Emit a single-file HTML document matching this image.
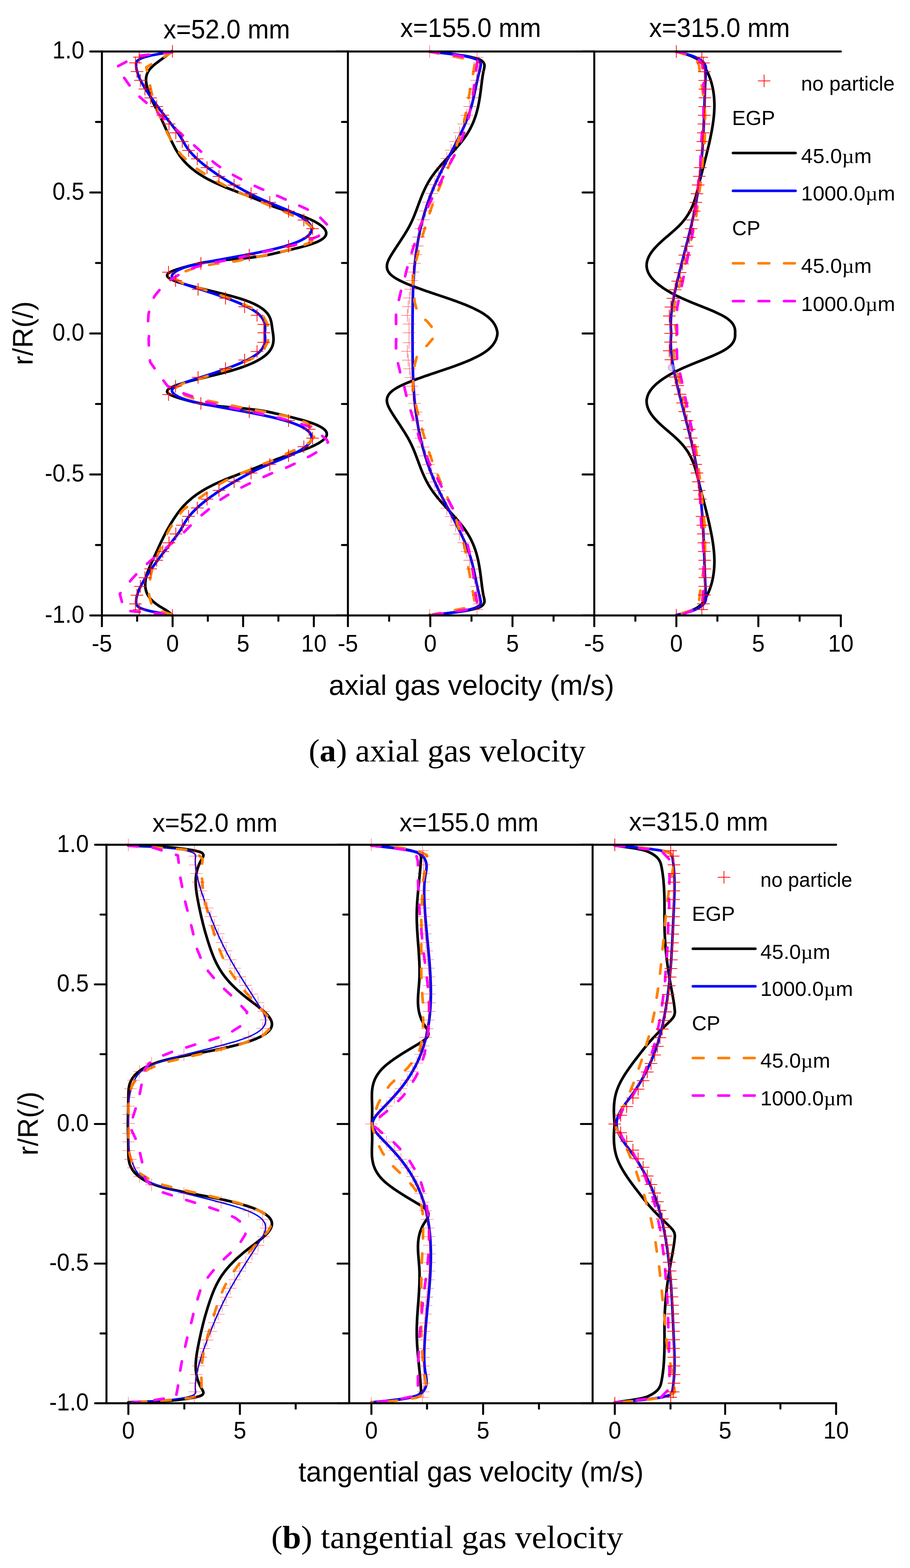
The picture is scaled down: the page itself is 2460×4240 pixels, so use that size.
<!DOCTYPE html>
<html><head><meta charset="utf-8"><title>Gas velocity profiles</title>
<style>html,body{margin:0;padding:0;background:#fff;}svg{display:block;}</style></head>
<body><svg width="2460" height="4240" viewBox="0 0 2460 4240">
<rect width="2460" height="4240" fill="#fff"/>
<path d="M465.0 138.6C463.1 140.3 461.1 142.0 459.1 143.6C457.0 145.3 454.8 147.0 452.6 148.6C450.4 150.3 448.1 152.0 445.9 153.6C443.6 155.3 441.2 157.0 438.9 158.6C436.6 160.3 434.3 162.0 432.0 163.6C429.7 165.3 427.5 167.0 425.3 168.6C423.1 170.3 421.0 171.9 418.9 173.6C416.9 175.3 415.0 176.9 413.1 178.6C411.4 180.3 409.6 181.9 408.0 183.6C406.5 185.3 405.1 186.9 403.8 188.6C402.6 190.3 401.5 191.9 400.5 193.6C399.6 195.3 398.8 197.0 398.1 198.6C397.4 200.3 396.8 202.0 396.3 203.7C395.9 205.3 395.5 207.0 395.3 208.7C395.0 210.3 394.9 212.0 394.8 213.7C394.8 215.3 394.8 217.0 394.9 218.7C395.0 220.3 395.1 222.0 395.3 223.7C395.6 225.3 395.8 227.0 396.2 228.7C396.5 230.3 396.9 232.0 397.3 233.7C397.7 235.3 398.1 237.0 398.6 238.7C399.0 240.3 399.5 242.0 400.1 243.7C400.6 245.3 401.2 247.0 401.7 248.7C402.3 250.3 402.9 252.0 403.6 253.7C404.2 255.3 404.9 257.0 405.6 258.7C406.2 260.3 406.9 262.0 407.7 263.7C408.4 265.4 409.1 267.0 409.9 268.7C410.6 270.4 411.4 272.0 412.2 273.7C413.0 275.4 413.8 277.0 414.6 278.7C415.4 280.4 416.2 282.0 417.0 283.7C417.9 285.4 418.7 287.0 419.5 288.7C420.4 290.4 421.2 292.0 422.1 293.7C422.9 295.4 423.8 297.0 424.6 298.7C425.5 300.4 426.3 302.0 427.2 303.7C428.0 305.4 428.9 307.0 429.7 308.7C430.6 310.4 431.4 312.0 432.2 313.7C433.1 315.4 433.9 317.0 434.7 318.7C435.5 320.4 436.3 322.0 437.1 323.7C437.9 325.4 438.7 327.0 439.5 328.7C440.2 330.4 441.0 332.0 441.8 333.7C442.5 335.4 443.3 337.1 444.0 338.7C444.8 340.4 445.6 342.1 446.3 343.7C447.1 345.4 447.8 347.1 448.5 348.7C449.3 350.4 450.0 352.1 450.8 353.7C451.5 355.4 452.3 357.1 453.0 358.7C453.8 360.4 454.5 362.1 455.3 363.7C456.0 365.4 456.8 367.1 457.6 368.7C458.3 370.4 459.1 372.1 459.9 373.7C460.7 375.4 461.4 377.1 462.2 378.7C463.0 380.4 463.8 382.1 464.7 383.7C465.5 385.4 466.3 387.1 467.1 388.7C468.0 390.4 468.8 392.1 469.7 393.7C470.6 395.4 471.4 397.1 472.3 398.7C473.2 400.4 474.1 402.1 475.1 403.8C476.0 405.4 477.0 407.1 478.0 408.8C479.0 410.4 480.0 412.1 481.1 413.8C482.2 415.4 483.3 417.1 484.4 418.8C485.6 420.4 486.7 422.1 488.0 423.8C489.2 425.4 490.5 427.1 491.8 428.8C493.1 430.4 494.5 432.1 495.9 433.8C497.4 435.4 498.9 437.1 500.4 438.8C502.0 440.5 503.6 442.1 505.2 443.8C506.9 445.5 508.7 447.1 510.5 448.8C512.3 450.5 514.2 452.1 516.1 453.8C518.1 455.5 520.2 457.1 522.3 458.8C524.4 460.5 526.6 462.1 528.9 463.8C531.2 465.5 533.6 467.1 536.0 468.8C538.5 470.5 541.1 472.1 543.7 473.8C546.4 475.5 549.2 477.1 552.0 478.8C554.9 480.5 557.9 482.1 560.9 483.8C564.0 485.5 567.2 487.1 570.5 488.8C573.8 490.5 577.2 492.2 580.7 493.8C584.3 495.5 587.9 497.2 591.6 498.8C595.5 500.5 599.4 502.2 603.3 503.8C607.4 505.5 611.5 507.1 615.6 508.8C619.9 510.5 624.1 512.1 628.4 513.8C632.8 515.5 637.2 517.1 641.5 518.8C645.9 520.5 650.3 522.1 654.7 523.8C659.1 525.5 663.5 527.1 667.9 528.8C672.2 530.5 676.5 532.1 680.8 533.8C685.0 535.5 689.2 537.1 693.3 538.8C697.3 540.5 701.3 542.1 705.2 543.8C709.0 545.5 712.7 547.2 716.5 548.8C720.3 550.5 724.1 552.2 728.0 553.8C732.0 555.5 736.1 557.2 740.4 558.8C745.0 560.5 749.8 562.2 754.7 563.8C759.8 565.5 765.3 567.2 770.6 568.8C775.9 570.5 781.4 572.1 786.6 573.8C791.7 575.5 796.7 577.1 801.6 578.8C806.4 580.5 811.0 582.1 815.6 583.8C819.9 585.5 824.2 587.1 828.3 588.8C832.2 590.5 836.1 592.1 839.8 593.8C843.3 595.5 846.8 597.1 850.0 598.8C853.1 600.5 856.1 602.1 858.9 603.9C861.6 605.5 864.1 607.1 866.5 608.9C868.6 610.5 870.7 612.1 872.6 613.9C874.3 615.5 875.9 617.1 877.2 618.9C878.4 620.5 879.5 622.1 880.3 623.9C881.0 625.5 881.5 627.2 881.8 628.9C882.0 630.5 881.9 632.2 881.5 633.9C881.1 635.6 880.3 637.3 879.2 638.9C878.1 640.6 876.5 642.3 874.7 643.9C872.7 645.7 870.3 647.3 867.7 648.9C864.8 650.7 861.5 652.3 858.0 653.9C854.0 655.6 849.7 657.3 845.2 658.9C840.2 660.6 834.8 662.3 829.3 663.9C823.3 665.6 817.1 667.3 810.8 668.9C804.2 670.6 797.3 672.2 790.5 673.9C783.5 675.6 776.3 677.2 769.2 678.9C762.1 680.6 755.0 682.2 747.8 683.9C740.6 685.6 733.9 687.3 726.2 688.9C717.5 690.7 708.6 692.4 698.3 693.9C685.8 695.8 671.5 697.3 656.3 698.9C638.4 700.7 615.5 702.1 597.5 703.9C582.4 705.5 567.7 707.0 555.6 708.9C546.2 710.4 538.6 712.1 530.9 713.9C524.0 715.5 517.8 717.2 511.4 718.9C505.2 720.6 499.0 722.2 493.1 723.9C487.6 725.5 482.1 727.2 477.1 728.9C472.5 730.5 468.0 732.1 464.2 733.9C460.9 735.5 457.6 737.0 455.5 738.9C453.8 740.4 452.1 742.2 451.8 743.9C451.6 745.5 452.4 747.4 453.5 748.9C454.9 750.8 457.5 752.4 460.0 753.9C463.0 755.8 466.7 757.3 470.5 758.9C474.7 760.7 479.4 762.3 484.3 763.9C489.5 765.7 495.1 767.3 500.8 768.9C506.8 770.6 513.0 772.3 519.3 773.9C525.7 775.6 532.4 777.3 539.0 778.9C545.8 780.6 552.6 782.3 559.4 783.9C566.3 785.6 573.1 787.3 579.9 788.9C586.6 790.6 593.3 792.3 599.9 793.9C606.4 795.6 612.9 797.3 619.2 798.9C625.3 800.6 631.4 802.2 637.3 804.0C642.9 805.6 648.5 807.2 653.8 809.0C658.8 810.6 663.7 812.2 668.3 814.0C672.6 815.6 676.8 817.2 680.8 819.0C684.5 820.6 688.1 822.2 691.4 824.0C694.6 825.6 697.6 827.2 700.5 829.0C703.1 830.6 705.7 832.2 708.1 834.0C710.3 835.6 712.4 837.3 714.4 839.0C716.3 840.6 718.0 842.3 719.6 844.0C721.1 845.6 722.5 847.3 723.8 849.0C725.0 850.6 726.1 852.3 727.1 854.0C728.0 855.6 728.9 857.3 729.6 859.0C730.3 860.6 731.0 862.3 731.5 864.0C732.1 865.6 732.5 867.3 732.9 869.0C733.3 870.6 733.7 872.3 734.0 874.0C734.3 875.7 734.5 877.3 734.7 879.0C735.0 880.7 735.2 882.3 735.4 884.0C735.6 885.7 735.9 887.3 736.1 889.0C736.3 890.7 736.6 892.3 736.9 894.0C737.1 895.7 737.4 897.3 737.6 899.0C737.9 900.7 738.1 902.3 738.3 904.0C738.6 905.7 738.8 907.3 738.9 909.0C739.1 910.7 739.2 912.3 739.3 914.0C739.3 915.7 739.3 917.3 739.3 919.0C739.3 920.7 739.2 922.3 739.0 924.0C738.8 925.7 738.5 927.4 738.2 929.0C737.8 930.7 737.4 932.4 736.9 934.0C736.3 935.7 735.7 937.4 735.0 939.0C734.2 940.7 733.3 942.4 732.3 944.0C731.3 945.7 730.2 947.4 729.0 949.0C727.7 950.7 726.3 952.4 724.8 954.0C723.2 955.7 721.5 957.4 719.6 959.0C717.7 960.7 715.7 962.4 713.5 964.0C711.2 965.7 708.8 967.4 706.3 969.0C703.6 970.7 700.8 972.4 697.9 974.0C694.9 975.7 691.7 977.4 688.4 979.0C684.9 980.8 681.2 982.4 677.5 984.0C673.5 985.8 669.4 987.4 665.2 989.0C660.7 990.8 656.2 992.4 651.4 994.0C646.5 995.8 641.4 997.4 636.2 999.0C630.7 1000.8 625.0 1002.4 619.3 1004.1C613.2 1005.8 607.0 1007.4 600.7 1009.1C594.2 1010.7 587.5 1012.4 580.8 1014.1C574.0 1015.7 567.1 1017.4 560.2 1019.1C553.4 1020.7 546.4 1022.4 539.6 1024.1C533.0 1025.7 526.3 1027.4 519.7 1029.1C513.4 1030.7 507.2 1032.4 501.2 1034.1C495.5 1035.7 489.9 1037.3 484.6 1039.1C479.8 1040.7 475.0 1042.3 470.7 1044.1C466.9 1045.7 463.2 1047.2 460.2 1049.1C457.7 1050.6 455.1 1052.2 453.7 1054.1C452.5 1055.6 451.6 1057.5 451.8 1059.1C452.0 1060.8 453.7 1062.6 455.3 1064.1C457.4 1066.0 460.6 1067.5 463.8 1069.1C467.6 1070.9 472.1 1072.5 476.7 1074.1C481.7 1075.8 487.2 1077.5 492.8 1079.1C498.8 1080.8 505.1 1082.5 511.4 1084.1C518.0 1085.8 524.5 1087.5 531.7 1089.1C539.6 1090.9 547.5 1092.6 557.0 1094.1C569.1 1096.0 583.3 1097.5 598.1 1099.1C615.6 1100.9 637.6 1102.3 655.3 1104.1C670.7 1105.7 685.5 1107.2 698.4 1109.1C709.0 1110.6 718.2 1112.3 727.2 1114.1C735.1 1115.7 742.0 1117.4 749.3 1119.1C756.4 1120.8 763.4 1122.4 770.4 1124.1C777.3 1125.8 784.2 1127.4 790.9 1129.1C797.5 1130.8 804.0 1132.4 810.3 1134.1C816.3 1135.7 822.3 1137.4 828.0 1139.1C833.3 1140.7 838.5 1142.4 843.4 1144.1C847.9 1145.7 852.2 1147.4 856.2 1149.1C859.8 1150.7 863.3 1152.4 866.4 1154.1C869.2 1155.7 871.9 1157.4 874.1 1159.1C876.2 1160.7 878.0 1162.4 879.5 1164.1C880.8 1165.7 881.9 1167.4 882.6 1169.1C883.2 1170.7 883.5 1172.5 883.5 1174.1C883.5 1175.8 883.0 1177.5 882.4 1179.1C881.7 1180.9 880.6 1182.5 879.3 1184.1C878.0 1185.9 876.3 1187.5 874.5 1189.1C872.5 1190.9 870.3 1192.5 867.9 1194.1C865.4 1195.9 862.6 1197.5 859.8 1199.1C856.7 1200.9 853.5 1202.5 850.1 1204.2C846.6 1205.9 842.9 1207.5 839.1 1209.2C835.2 1210.9 831.0 1212.5 826.8 1214.2C822.5 1215.9 818.0 1217.5 813.4 1219.2C808.7 1220.9 803.9 1222.5 799.1 1224.2C794.2 1225.8 789.2 1227.5 784.3 1229.2C779.3 1230.8 774.4 1232.5 769.5 1234.2C764.7 1235.8 759.9 1237.5 755.3 1239.2C750.8 1240.8 746.3 1242.5 742.0 1244.2C737.8 1245.8 733.8 1247.5 729.7 1249.2C725.7 1250.8 721.8 1252.5 717.8 1254.2C713.8 1255.8 709.9 1257.5 705.8 1259.2C701.8 1260.9 697.6 1262.5 693.4 1264.2C689.2 1265.9 684.9 1267.5 680.6 1269.2C676.2 1270.9 671.8 1272.5 667.4 1274.2C663.0 1275.9 658.5 1277.5 654.1 1279.2C649.7 1280.9 645.3 1282.5 640.9 1284.2C636.5 1285.9 632.1 1287.5 627.8 1289.2C623.6 1290.9 619.3 1292.5 615.1 1294.2C611.0 1295.8 606.9 1297.5 602.9 1299.2C599.0 1300.8 595.1 1302.5 591.3 1304.2C587.7 1305.8 584.0 1307.5 580.5 1309.2C577.1 1310.8 573.7 1312.5 570.4 1314.2C567.1 1315.9 564.0 1317.5 560.9 1319.2C557.9 1320.9 554.9 1322.5 552.0 1324.2C549.2 1325.9 546.5 1327.5 543.8 1329.2C541.2 1330.9 538.6 1332.5 536.1 1334.2C533.7 1335.9 531.3 1337.5 529.0 1339.2C526.7 1340.9 524.5 1342.5 522.3 1344.2C520.2 1345.9 518.1 1347.5 516.1 1349.2C514.2 1350.9 512.2 1352.5 510.4 1354.2C508.5 1355.9 506.7 1357.5 505.0 1359.2C503.3 1360.9 501.6 1362.6 500.0 1364.2C498.4 1365.9 496.9 1367.6 495.3 1369.2C493.8 1370.9 492.4 1372.6 491.0 1374.2C489.6 1375.9 488.2 1377.6 486.9 1379.2C485.5 1380.9 484.2 1382.6 483.0 1384.2C481.7 1385.9 480.5 1387.6 479.3 1389.2C478.1 1390.9 476.9 1392.6 475.8 1394.2C474.6 1395.9 473.5 1397.6 472.4 1399.2C471.3 1400.9 470.2 1402.6 469.1 1404.3C468.0 1405.9 467.0 1407.6 465.9 1409.3C464.9 1410.9 463.8 1412.6 462.8 1414.3C461.8 1415.9 460.8 1417.6 459.8 1419.3C458.9 1420.9 457.9 1422.6 456.9 1424.3C456.0 1425.9 455.0 1427.6 454.1 1429.3C453.2 1430.9 452.3 1432.6 451.4 1434.3C450.5 1435.9 449.6 1437.6 448.7 1439.3C447.8 1440.9 446.9 1442.6 446.1 1444.3C445.2 1445.9 444.4 1447.6 443.5 1449.3C442.7 1450.9 441.8 1452.6 441.0 1454.3C440.2 1455.9 439.4 1457.6 438.6 1459.3C437.7 1460.9 436.9 1462.6 436.1 1464.3C435.3 1465.9 434.5 1467.6 433.8 1469.3C433.0 1471.0 432.2 1472.6 431.4 1474.3C430.6 1476.0 429.8 1477.6 429.1 1479.3C428.3 1481.0 427.5 1482.6 426.8 1484.3C426.0 1486.0 425.2 1487.6 424.5 1489.3C423.7 1491.0 422.9 1492.6 422.2 1494.3C421.4 1496.0 420.6 1497.6 419.9 1499.3C419.1 1501.0 418.3 1502.6 417.6 1504.3C416.8 1506.0 416.0 1507.6 415.3 1509.3C414.5 1511.0 413.7 1512.6 412.9 1514.3C412.2 1516.0 411.4 1517.6 410.6 1519.3C409.8 1521.0 409.1 1522.6 408.3 1524.3C407.6 1526.0 406.8 1527.6 406.1 1529.3C405.4 1531.0 404.6 1532.6 404.0 1534.3C403.3 1536.0 402.6 1537.6 401.9 1539.3C401.3 1541.0 400.6 1542.6 400.0 1544.3C399.4 1546.0 398.8 1547.7 398.3 1549.3C397.7 1551.0 397.2 1552.7 396.7 1554.3C396.2 1556.0 395.8 1557.7 395.4 1559.3C395.0 1561.0 394.6 1562.7 394.3 1564.3C393.9 1566.0 393.7 1567.7 393.4 1569.3C393.2 1571.0 393.0 1572.7 392.9 1574.3C392.7 1576.0 392.6 1577.7 392.6 1579.3C392.6 1581.0 392.6 1582.7 392.7 1584.3C392.8 1586.0 393.0 1587.7 393.2 1589.3C393.4 1591.0 393.7 1592.7 394.1 1594.3C394.4 1596.0 394.9 1597.7 395.4 1599.3C396.0 1601.0 396.6 1602.7 397.3 1604.4C398.1 1606.0 398.9 1607.7 399.9 1609.4C400.8 1611.0 401.9 1612.7 403.1 1614.4C404.3 1616.1 405.6 1617.7 407.0 1619.4C408.5 1621.1 410.1 1622.7 411.8 1624.4C413.5 1626.1 415.4 1627.7 417.4 1629.4C419.5 1631.1 421.6 1632.7 423.9 1634.4C426.3 1636.1 428.9 1637.7 431.5 1639.4C434.1 1641.1 436.9 1642.7 439.6 1644.4C442.3 1646.0 445.1 1647.7 447.8 1649.4C450.3 1651.0 452.9 1652.6 455.2 1654.4C457.3 1656.0 459.5 1657.6 461.2 1659.4C462.7 1661.0 463.7 1662.7 465.0 1664.4" stroke="#000000" stroke-width="7.2" fill="none" stroke-linecap="round" stroke-linejoin="round"/><path d="M465.2 140.5C454.1 142.2 442.2 143.8 431.8 145.5C422.6 147.1 413.8 148.7 405.9 150.5C399.2 152.1 392.9 153.7 387.5 155.6C383.2 157.1 379.2 158.6 376.2 160.6C373.8 162.1 371.6 163.7 370.3 165.6C369.1 167.1 368.5 168.9 368.1 170.6C367.7 172.2 367.8 173.9 367.9 175.6C367.9 177.2 368.0 178.9 368.2 180.6C368.4 182.3 368.6 183.9 368.9 185.6C369.2 187.3 369.6 188.9 370.0 190.6C370.4 192.3 370.8 193.9 371.3 195.6C371.8 197.3 372.3 198.9 372.9 200.6C373.5 202.3 374.1 204.0 374.8 205.6C375.5 207.3 376.2 209.0 376.9 210.6C377.6 212.3 378.4 214.0 379.2 215.6C380.0 217.3 380.9 219.0 381.8 220.6C382.6 222.3 383.5 224.0 384.5 225.6C385.4 227.3 386.3 229.0 387.3 230.6C388.3 232.3 389.3 234.0 390.3 235.7C391.3 237.3 392.3 239.0 393.4 240.7C394.4 242.3 395.5 244.0 396.6 245.7C397.6 247.3 398.7 249.0 399.8 250.7C400.9 252.3 402.0 254.0 403.1 255.7C404.3 257.4 405.4 259.0 406.5 260.7C407.7 262.4 408.8 264.0 410.0 265.7C411.2 267.4 412.3 269.0 413.5 270.7C414.7 272.4 415.9 274.0 417.1 275.7C418.3 277.4 419.5 279.0 420.7 280.7C421.9 282.4 423.2 284.1 424.4 285.7C425.6 287.4 426.9 289.1 428.1 290.7C429.4 292.4 430.6 294.1 431.9 295.7C433.2 297.4 434.4 299.1 435.7 300.7C437.0 302.4 438.2 304.1 439.5 305.7C440.8 307.4 442.1 309.1 443.4 310.7C444.7 312.4 446.0 314.1 447.3 315.8C448.6 317.4 449.9 319.1 451.2 320.8C452.5 322.4 453.8 324.1 455.1 325.8C456.4 327.4 457.7 329.1 459.1 330.8C460.4 332.4 461.7 334.1 463.0 335.8C464.3 337.4 465.6 339.1 466.9 340.8C468.2 342.5 469.5 344.1 470.7 345.8C472.0 347.5 473.3 349.1 474.5 350.8C475.8 352.5 477.0 354.1 478.2 355.8C479.4 357.5 480.6 359.1 481.8 360.8C482.9 362.5 484.1 364.1 485.2 365.8C486.3 367.5 487.4 369.2 488.5 370.8C489.5 372.5 490.5 374.2 491.5 375.8C492.5 377.5 493.5 379.2 494.4 380.8C495.4 382.5 496.3 384.2 497.2 385.8C498.2 387.5 499.1 389.2 500.1 390.9C501.1 392.5 502.2 394.2 503.3 395.9C504.4 397.5 505.5 399.2 506.7 400.9C507.9 402.5 509.2 404.2 510.5 405.9C511.8 407.6 513.2 409.2 514.6 410.9C516.1 412.6 517.6 414.2 519.1 415.9C520.6 417.6 522.2 419.2 523.8 420.9C525.5 422.6 527.1 424.2 528.8 425.9C530.6 427.6 532.4 429.2 534.2 430.9C536.0 432.6 537.9 434.3 539.8 435.9C541.7 437.6 543.7 439.3 545.7 440.9C547.7 442.6 549.7 444.3 551.8 445.9C553.9 447.6 556.1 449.3 558.2 450.9C560.4 452.6 562.6 454.3 564.9 455.9C567.1 457.6 569.4 459.3 571.8 460.9C574.1 462.6 576.5 464.3 578.9 465.9C581.3 467.6 583.8 469.3 586.2 471.0C588.7 472.6 591.3 474.3 593.8 476.0C596.4 477.6 599.0 479.3 601.6 481.0C604.2 482.6 606.9 484.3 609.5 486.0C612.2 487.6 615.0 489.3 617.7 491.0C620.5 492.7 623.3 494.3 626.1 496.0C628.9 497.7 631.7 499.3 634.6 501.0C637.4 502.7 640.3 504.3 643.3 506.0C646.2 507.7 649.1 509.3 652.1 511.0C655.1 512.7 658.1 514.4 661.2 516.0C664.3 517.7 667.4 519.4 670.5 521.0C673.7 522.7 676.9 524.4 680.2 526.0C683.5 527.7 686.9 529.4 690.3 531.0C693.8 532.7 697.3 534.4 700.9 536.0C704.5 537.7 708.2 539.4 711.9 541.0C715.8 542.7 719.7 544.4 723.6 546.0C727.6 547.7 731.6 549.4 735.7 551.1C739.7 552.7 743.9 554.4 747.9 556.1C752.0 557.7 756.2 559.4 760.2 561.1C764.3 562.7 768.3 564.4 772.3 566.1C776.1 567.7 780.0 569.4 783.7 571.1C787.4 572.7 790.9 574.4 794.4 576.1C797.7 577.7 801.0 579.4 804.2 581.1C807.2 582.7 810.1 584.4 813.0 586.1C815.6 587.7 818.3 589.4 820.7 591.1C823.1 592.7 825.3 594.4 827.4 596.1C829.4 597.7 831.2 599.4 832.9 601.1C834.5 602.7 836.0 604.4 837.3 606.1C838.4 607.7 839.5 609.4 840.3 611.1C841.1 612.8 841.7 614.4 842.1 616.1C842.4 617.8 842.5 619.5 842.4 621.1C842.3 622.8 841.9 624.5 841.3 626.2C840.7 627.9 839.8 629.5 838.7 631.2C837.5 632.9 836.1 634.6 834.5 636.2C832.7 637.9 830.7 639.6 828.5 641.2C826.1 642.9 823.5 644.6 820.7 646.2C817.6 647.9 814.3 649.6 810.9 651.2C807.2 652.9 803.2 654.6 799.0 656.2C794.6 657.9 789.9 659.6 785.0 661.2C779.8 662.9 774.3 664.6 768.6 666.2C762.6 667.9 756.3 669.6 749.9 671.2C743.1 672.9 736.0 674.6 728.9 676.2C721.4 677.9 713.6 679.6 705.8 681.2C697.6 682.9 689.3 684.6 680.8 686.2C672.1 687.9 663.3 689.6 654.3 691.2C645.3 692.9 636.1 694.6 626.9 696.2C617.7 697.9 608.4 699.6 599.2 701.2C590.2 702.9 581.1 704.6 572.3 706.3C563.8 707.9 555.2 709.5 547.1 711.3C539.3 712.9 531.6 714.5 524.4 716.3C517.7 717.9 511.2 719.5 505.3 721.3C500.0 722.9 495.0 724.5 490.5 726.3C486.6 727.8 483.0 729.5 479.8 731.3C476.9 732.9 474.4 734.5 472.1 736.3C470.2 737.9 468.2 739.5 467.0 741.3C465.9 742.9 464.8 744.6 464.7 746.3C464.7 748.0 465.4 749.8 466.5 751.3C467.7 753.2 470.0 754.8 472.3 756.3C475.0 758.1 478.3 759.7 481.6 761.3C485.3 763.1 489.4 764.7 493.6 766.3C498.0 768.1 502.8 769.7 507.6 771.3C512.5 773.0 517.7 774.7 522.8 776.3C528.0 778.0 533.3 779.7 538.5 781.3C543.7 783.0 549.0 784.7 554.2 786.4C559.3 788.0 564.4 789.7 569.5 791.4C574.5 793.0 579.5 794.7 584.4 796.4C589.3 798.0 594.1 799.7 598.9 801.4C603.6 803.0 608.3 804.7 612.8 806.4C617.3 808.0 621.8 809.7 626.2 811.4C630.4 813.0 634.7 814.7 638.8 816.4C642.8 818.0 646.8 819.7 650.6 821.4C654.4 823.0 658.1 824.7 661.6 826.4C665.1 828.0 668.5 829.7 671.7 831.4C674.8 833.0 677.9 834.7 680.8 836.4C683.5 838.0 686.2 839.7 688.8 841.4C691.1 843.1 693.4 844.7 695.6 846.4C697.6 848.1 699.5 849.7 701.3 851.4C702.9 853.1 704.5 854.7 705.9 856.4C707.2 858.1 708.4 859.7 709.5 861.4C710.6 863.1 711.5 864.8 712.3 866.5C713.1 868.1 713.8 869.8 714.4 871.5C714.9 873.1 715.4 874.8 715.7 876.5C716.1 878.1 716.3 879.8 716.5 881.5C716.6 883.1 716.7 884.8 716.7 886.5C716.8 888.1 716.7 889.8 716.6 891.5C716.5 893.2 716.3 894.8 716.2 896.5C716.0 898.2 715.5 899.8 715.5 901.5C715.5 903.2 716.0 904.8 716.2 906.5C716.3 908.2 716.5 909.8 716.6 911.5C716.7 913.2 716.8 914.9 716.7 916.5C716.7 918.2 716.6 919.9 716.5 921.5C716.3 923.2 716.1 924.9 715.7 926.5C715.4 928.2 714.9 929.9 714.4 931.5C713.8 933.2 713.1 934.9 712.3 936.5C711.5 938.2 710.6 939.9 709.5 941.6C708.4 943.3 707.2 944.9 705.9 946.6C704.5 948.3 702.9 949.9 701.3 951.6C699.5 953.3 697.6 954.9 695.6 956.6C693.4 958.3 691.1 959.9 688.8 961.6C686.2 963.3 683.5 965.0 680.8 966.6C677.9 968.3 674.8 970.0 671.7 971.6C668.5 973.3 665.1 975.0 661.6 976.6C658.1 978.3 654.4 980.0 650.6 981.6C646.8 983.3 642.8 985.0 638.8 986.6C634.7 988.3 630.4 990.0 626.2 991.6C621.8 993.3 617.3 995.0 612.8 996.6C608.3 998.3 603.6 1000.0 598.9 1001.6C594.1 1003.3 589.3 1005.0 584.4 1006.6C579.5 1008.3 574.5 1010.0 569.5 1011.6C564.4 1013.3 559.3 1015.0 554.2 1016.6C549.0 1018.3 543.7 1020.0 538.5 1021.7C533.3 1023.3 528.0 1025.0 522.8 1026.7C517.7 1028.3 512.5 1030.0 507.6 1031.7C502.8 1033.3 498.0 1034.9 493.6 1036.7C489.4 1038.3 485.3 1039.9 481.6 1041.7C478.3 1043.3 475.0 1044.9 472.3 1046.7C470.0 1048.2 467.7 1049.8 466.5 1051.7C465.4 1053.2 464.7 1055.0 464.7 1056.7C464.8 1058.4 465.9 1060.1 467.0 1061.7C468.2 1063.5 470.2 1065.1 472.1 1066.7C474.4 1068.5 476.9 1070.1 479.8 1071.7C483.0 1073.5 486.6 1075.2 490.5 1076.7C495.0 1078.5 500.0 1080.1 505.3 1081.7C511.2 1083.5 517.7 1085.1 524.4 1086.7C531.6 1088.5 539.3 1090.1 547.1 1091.7C555.2 1093.5 563.8 1095.1 572.3 1096.7C581.1 1098.4 590.2 1100.1 599.2 1101.8C608.4 1103.4 617.7 1105.1 626.9 1106.8C636.1 1108.4 645.3 1110.1 654.3 1111.8C663.3 1113.4 672.1 1115.1 680.8 1116.8C689.3 1118.4 697.6 1120.1 705.8 1121.8C713.6 1123.4 721.4 1125.1 728.9 1126.8C736.0 1128.4 743.1 1130.1 749.9 1131.8C756.3 1133.4 762.6 1135.1 768.6 1136.8C774.3 1138.4 779.8 1140.1 785.0 1141.8C789.9 1143.4 794.6 1145.1 799.0 1146.8C803.2 1148.4 807.2 1150.1 810.9 1151.8C814.3 1153.4 817.6 1155.1 820.7 1156.8C823.5 1158.4 826.1 1160.1 828.5 1161.8C830.7 1163.4 832.7 1165.1 834.5 1166.8C836.1 1168.4 837.5 1170.1 838.7 1171.8C839.8 1173.5 840.7 1175.1 841.3 1176.8C841.9 1178.5 842.3 1180.2 842.4 1181.9C842.5 1183.5 842.4 1185.2 842.1 1186.9C841.7 1188.6 841.1 1190.2 840.3 1191.9C839.5 1193.6 838.4 1195.3 837.3 1196.9C836.0 1198.6 834.5 1200.3 832.9 1201.9C831.2 1203.6 829.4 1205.3 827.4 1206.9C825.3 1208.6 823.1 1210.3 820.7 1211.9C818.3 1213.6 815.6 1215.3 813.0 1216.9C810.1 1218.6 807.2 1220.3 804.2 1221.9C801.0 1223.6 797.7 1225.3 794.4 1226.9C790.9 1228.6 787.4 1230.3 783.7 1231.9C780.0 1233.6 776.1 1235.3 772.3 1236.9C768.3 1238.6 764.3 1240.3 760.2 1241.9C756.2 1243.6 752.0 1245.3 747.9 1246.9C743.9 1248.6 739.7 1250.3 735.7 1251.9C731.6 1253.6 727.6 1255.3 723.6 1257.0C719.7 1258.6 715.8 1260.3 711.9 1262.0C708.2 1263.6 704.5 1265.3 700.9 1267.0C697.3 1268.6 693.8 1270.3 690.3 1272.0C686.9 1273.6 683.5 1275.3 680.2 1277.0C676.9 1278.6 673.7 1280.3 670.5 1282.0C667.4 1283.6 664.3 1285.3 661.2 1287.0C658.1 1288.6 655.1 1290.3 652.1 1292.0C649.1 1293.7 646.2 1295.3 643.3 1297.0C640.3 1298.7 637.4 1300.3 634.6 1302.0C631.7 1303.7 628.9 1305.3 626.1 1307.0C623.3 1308.7 620.5 1310.3 617.7 1312.0C615.0 1313.7 612.2 1315.4 609.5 1317.0C606.9 1318.7 604.2 1320.4 601.6 1322.0C599.0 1323.7 596.4 1325.4 593.8 1327.0C591.3 1328.7 588.7 1330.4 586.2 1332.0C583.8 1333.7 581.3 1335.4 578.9 1337.1C576.5 1338.7 574.1 1340.4 571.8 1342.1C569.4 1343.7 567.1 1345.4 564.9 1347.1C562.6 1348.7 560.4 1350.4 558.2 1352.1C556.1 1353.7 553.9 1355.4 551.8 1357.1C549.7 1358.7 547.7 1360.4 545.7 1362.1C543.7 1363.7 541.7 1365.4 539.8 1367.1C537.9 1368.7 536.0 1370.4 534.2 1372.1C532.4 1373.8 530.6 1375.4 528.8 1377.1C527.1 1378.8 525.5 1380.4 523.8 1382.1C522.2 1383.8 520.6 1385.4 519.1 1387.1C517.6 1388.8 516.1 1390.4 514.6 1392.1C513.2 1393.8 511.8 1395.4 510.5 1397.1C509.2 1398.8 507.9 1400.5 506.7 1402.1C505.5 1403.8 504.4 1405.5 503.3 1407.1C502.2 1408.8 501.1 1410.5 500.1 1412.1C499.1 1413.8 498.2 1415.5 497.2 1417.2C496.3 1418.8 495.4 1420.5 494.4 1422.2C493.5 1423.8 492.5 1425.5 491.5 1427.2C490.5 1428.8 489.5 1430.5 488.5 1432.2C487.4 1433.8 486.3 1435.5 485.2 1437.2C484.1 1438.9 482.9 1440.5 481.8 1442.2C480.6 1443.9 479.4 1445.5 478.2 1447.2C477.0 1448.9 475.8 1450.5 474.5 1452.2C473.3 1453.9 472.0 1455.5 470.7 1457.2C469.5 1458.9 468.2 1460.5 466.9 1462.2C465.6 1463.9 464.3 1465.6 463.0 1467.2C461.7 1468.9 460.4 1470.6 459.1 1472.2C457.7 1473.9 456.4 1475.6 455.1 1477.2C453.8 1478.9 452.5 1480.6 451.2 1482.2C449.9 1483.9 448.6 1485.6 447.3 1487.2C446.0 1488.9 444.7 1490.6 443.4 1492.3C442.1 1493.9 440.8 1495.6 439.5 1497.3C438.2 1498.9 437.0 1500.6 435.7 1502.3C434.4 1503.9 433.2 1505.6 431.9 1507.3C430.6 1508.9 429.4 1510.6 428.1 1512.3C426.9 1513.9 425.6 1515.6 424.4 1517.3C423.2 1518.9 421.9 1520.6 420.7 1522.3C419.5 1524.0 418.3 1525.6 417.1 1527.3C415.9 1529.0 414.7 1530.6 413.5 1532.3C412.3 1534.0 411.2 1535.6 410.0 1537.3C408.8 1539.0 407.7 1540.6 406.5 1542.3C405.4 1544.0 404.3 1545.6 403.1 1547.3C402.0 1549.0 400.9 1550.7 399.8 1552.3C398.7 1554.0 397.6 1555.7 396.6 1557.3C395.5 1559.0 394.4 1560.7 393.4 1562.3C392.3 1564.0 391.3 1565.7 390.3 1567.3C389.3 1569.0 388.3 1570.7 387.3 1572.4C386.3 1574.0 385.4 1575.7 384.5 1577.4C383.5 1579.0 382.6 1580.7 381.8 1582.4C380.9 1584.0 380.0 1585.7 379.2 1587.4C378.4 1589.0 377.6 1590.7 376.9 1592.4C376.2 1594.0 375.5 1595.7 374.8 1597.4C374.1 1599.0 373.5 1600.7 372.9 1602.4C372.3 1604.1 371.8 1605.7 371.3 1607.4C370.8 1609.1 370.4 1610.7 370.0 1612.4C369.6 1614.1 369.2 1615.7 368.9 1617.4C368.6 1619.1 368.4 1620.7 368.2 1622.4C368.0 1624.1 367.9 1625.8 367.9 1627.4C367.8 1629.1 367.7 1630.8 368.1 1632.4C368.5 1634.1 369.1 1635.9 370.3 1637.4C371.6 1639.3 373.8 1640.9 376.2 1642.4C379.2 1644.4 383.2 1645.9 387.5 1647.4C392.9 1649.3 399.2 1650.9 405.9 1652.5C413.8 1654.3 422.6 1655.9 431.8 1657.5C442.2 1659.2 454.1 1660.8 465.2 1662.5" stroke="#0000ff" stroke-width="7.2" fill="none" stroke-linecap="round" stroke-linejoin="round"/><path d="M465.7 140.7L395.5 181.9L401.1 209.0L407.2 238.8L415.4 274.7L427.7 304.4L442.1 339.3L455.4 366.0L472.9 396.8L491.4 420.4L498.5 426.9L517.8 446.7L541.8 462.7L570.2 481.4L597.8 496.5L630.7 513.4L660.1 525.8L693.8 540.9L723.2 553.4L758.3 568.0L800.1 586.7L826.7 600.9L857.9 627.6L841.0 655.2L807.2 667.6L775.2 677.4L738.7 685.4L705.8 692.5L668.5 699.6L640.0 705.9L575.2 714.5L527.3 724.1L489.0 738.0L469.8 751.4L493.8 765.7L565.6 787.3L632.6 811.2L685.3 835.2L711.6 854.3L723.6 878.2L728.4 902.2L723.6 924.8L711.6 948.7L685.3 967.8L632.6 991.8L565.6 1015.7L493.8 1037.3L469.8 1051.6L489.0 1065.0L527.3 1078.9L560.0 1083.3L653.0 1101.9L721.6 1114.7L790.2 1128.6L827.4 1142.6L860.0 1167.0L835.6 1197.2L803.0 1214.7L772.8 1227.4L740.2 1243.7L710.0 1255.3L675.1 1270.5L644.9 1283.3L610.0 1299.5L583.3 1314.7L495.5 1378.2L478.0 1399.8L459.5 1428.5L447.2 1452.1L431.8 1488.0L421.6 1511.6L409.3 1547.5L404.1 1575.2L402.1 1592.6L403.1 1610.1L411.3 1639.8L419.5 1649.1L440.1 1654.2L465.7 1662.4" stroke="#ff8000" stroke-width="7.2" fill="none" stroke-linecap="round" stroke-linejoin="round" stroke-dasharray="25 41"/><path d="M462.6 139.6L465.7 140.7L370.3 151.5L315.1 181.1L362.1 248.0L532.9 400.5L556.0 420.9L582.7 443.1L606.7 460.0L638.7 477.8L665.4 492.0L700.1 508.0L729.4 520.5L764.5 536.0L829.4 565.4L860.5 583.1L886.3 609.5L861.4 638.3L833.0 649.8L800.1 661.4L764.5 670.3L728.9 678.3L696.9 684.5L661.3 693.4L640.0 698.7L575.2 710.7L527.3 722.6L493.8 737.0L465.0 753.8L436.3 777.7L417.2 801.6L407.6 825.6L401.4 849.5L400.4 868.7L402.8 892.6L402.8 910.4L401.9 914.9L403.0 963.7L406.5 980.0L420.5 999.8L435.6 1020.7L453.0 1044.0L485.6 1060.2L543.7 1080.0L560.0 1087.9L615.8 1100.7L686.7 1114.7L758.8 1130.9L827.4 1150.7L847.2 1158.8L883.3 1189.1L886.7 1196.0L862.3 1219.3L837.9 1233.3L803.0 1250.7L776.3 1263.5L740.2 1277.4L711.2 1290.2L676.3 1306.5L646.0 1321.6L611.2 1341.4L584.4 1358.8L560.0 1380.9L535.5 1400.8L507.8 1428.5L488.3 1449.0L458.5 1473.6L437.0 1492.1L406.2 1516.7L384.7 1536.2L358.0 1563.9L340.5 1585.5L323.9 1606.0L333.4 1641.9L336.4 1651.1L398.0 1656.3L465.7 1662.4L462.6 1663.4" stroke="#ff00ff" stroke-width="7.2" fill="none" stroke-linecap="round" stroke-linejoin="round" stroke-dasharray="25 41"/><path d="M449.3 138.8h34M466.3 121.8v34M359.4 154.6h34M376.4 137.6v34M349.2 170.0h34M366.2 153.0v34M353.3 193.6h34M370.3 176.6v34M362.5 217.2h34M379.5 200.2v34M374.8 240.8h34M391.8 223.8v34M390.2 264.8h34M407.2 247.8v34M406.6 288.0h34M423.6 271.0v34M423.1 311.6h34M440.1 294.6v34M439.9 335.2h34M456.9 318.2v34M458.3 359.2h34M475.3 342.2v34M475.8 382.8h34M492.8 365.8v34M492.8 406.7h34M509.8 389.7v34M516.4 429.4h34M533.4 412.4v34M542.6 453.3h34M559.6 436.3v34M574.9 476.9h34M591.9 459.9v34M615.8 500.4h34M632.8 483.4v34M661.7 523.7h34M678.7 506.7v34M712.4 547.2h34M729.4 530.2v34M763.0 571.2h34M780.0 554.2v34M804.4 594.9h34M821.4 577.9v34M827.9 618.2h34M844.9 601.2v34M818.6 642.2h34M835.6 625.2v34M763.0 665.8h34M780.0 648.8v34M656.8 689.8h34M673.8 672.8v34M526.1 712.1h34M543.1 695.1v34M438.5 736.0h34M455.5 719.0v34M457.6 758.5h34M474.6 741.5v34M518.4 782.5h34M535.4 765.5v34M592.6 806.4h34M609.6 789.4v34M644.3 829.4h34M661.3 812.4v34M677.9 852.4h34M694.9 835.4v34M696.1 877.3h34M713.1 860.3v34M696.1 899.8h34M713.1 882.8v34M696.1 925.7h34M713.1 908.7v34M677.9 950.6h34M694.9 933.6v34M644.3 973.6h34M661.3 956.6v34M592.6 996.6h34M609.6 979.6v34M518.4 1020.5h34M535.4 1003.5v34M457.6 1044.5h34M474.6 1027.5v34M438.5 1067.0h34M455.5 1050.0v34M526.1 1090.9h34M543.1 1073.9v34M656.8 1113.2h34M673.8 1096.2v34M763.0 1137.2h34M780.0 1120.2v34M818.6 1160.8h34M835.6 1143.8v34M827.9 1184.8h34M844.9 1167.8v34M804.4 1208.1h34M821.4 1191.1v34M763.0 1231.8h34M780.0 1214.8v34M712.4 1255.8h34M729.4 1238.8v34M661.7 1279.3h34M678.7 1262.3v34M615.8 1302.6h34M632.8 1285.6v34M574.9 1326.1h34M591.9 1309.1v34M542.6 1349.7h34M559.6 1332.7v34M516.4 1373.6h34M533.4 1356.6v34M492.8 1396.3h34M509.8 1379.3v34M475.8 1420.2h34M492.8 1403.2v34M458.3 1443.8h34M475.3 1426.8v34M439.9 1467.8h34M456.9 1450.8v34M423.1 1491.4h34M440.1 1474.4v34M406.6 1515.0h34M423.6 1498.0v34M390.2 1538.2h34M407.2 1521.2v34M374.8 1562.2h34M391.8 1545.2v34M362.5 1585.8h34M379.5 1568.8v34M353.3 1609.4h34M370.3 1592.4v34M349.2 1633.0h34M366.2 1616.0v34M359.4 1648.4h34M376.4 1631.4v34M449.3 1664.2h34M466.3 1647.2v34" stroke="#f00" stroke-width="2.0" fill="none"/><path d="M1161.5 139.8C1177.8 141.5 1195.3 143.1 1210.5 144.9C1223.9 146.4 1236.3 148.1 1247.9 149.9C1258.0 151.4 1267.9 153.0 1276.2 154.9C1283.0 156.4 1289.4 157.9 1294.2 159.9C1297.7 161.4 1300.6 163.0 1302.9 164.9C1304.8 166.4 1306.4 168.1 1307.5 169.9C1308.5 171.5 1309.1 173.2 1309.5 174.9C1309.8 176.6 1309.7 178.3 1309.6 179.9C1309.5 181.6 1309.0 183.3 1308.7 184.9C1308.4 186.6 1307.9 188.3 1307.6 190.0C1307.2 191.6 1306.9 193.3 1306.5 195.0C1306.2 196.6 1305.9 198.3 1305.6 200.0C1305.3 201.6 1305.1 203.3 1304.8 205.0C1304.5 206.7 1304.3 208.3 1304.1 210.0C1303.8 211.7 1303.6 213.3 1303.4 215.0C1303.1 216.7 1302.9 218.4 1302.7 220.0C1302.5 221.7 1302.3 223.4 1302.1 225.0C1301.9 226.7 1301.7 228.4 1301.4 230.0C1301.2 231.7 1301.0 233.4 1300.8 235.1C1300.6 236.7 1300.4 238.4 1300.2 240.1C1300.0 241.7 1299.8 243.4 1299.6 245.1C1299.3 246.7 1299.1 248.4 1298.9 250.1C1298.7 251.8 1298.4 253.4 1298.2 255.1C1298.0 256.8 1297.7 258.4 1297.5 260.1C1297.2 261.8 1297.0 263.5 1296.7 265.1C1296.5 266.8 1296.2 268.5 1295.9 270.1C1295.6 271.8 1295.3 273.5 1295.0 275.1C1294.7 276.8 1294.4 278.5 1294.1 280.2C1293.8 281.8 1293.4 283.5 1293.1 285.2C1292.7 286.8 1292.4 288.5 1292.0 290.2C1291.6 291.8 1291.2 293.5 1290.8 295.2C1290.4 296.9 1290.0 298.5 1289.5 300.2C1289.1 301.9 1288.6 303.5 1288.2 305.2C1287.7 306.9 1287.2 308.6 1286.7 310.2C1286.2 311.9 1285.6 313.6 1285.1 315.2C1284.5 316.9 1283.9 318.6 1283.3 320.2C1282.7 321.9 1282.1 323.6 1281.5 325.3C1280.8 326.9 1280.2 328.6 1279.5 330.3C1278.8 331.9 1278.1 333.6 1277.3 335.3C1276.6 336.9 1275.8 338.6 1275.0 340.3C1274.2 342.0 1273.4 343.6 1272.5 345.3C1271.7 347.0 1270.8 348.6 1269.9 350.3C1269.0 352.0 1268.0 353.7 1267.0 355.3C1266.1 357.0 1265.1 358.7 1264.0 360.3C1263.0 362.0 1261.9 363.7 1260.8 365.3C1259.7 367.0 1258.6 368.7 1257.4 370.3C1256.2 372.0 1255.0 373.7 1253.8 375.4C1252.6 377.0 1251.3 378.7 1250.0 380.4C1248.7 382.0 1247.4 383.7 1246.1 385.4C1244.7 387.1 1243.4 388.7 1242.0 390.4C1240.6 392.1 1239.2 393.7 1237.8 395.4C1236.3 397.1 1234.9 398.7 1233.4 400.4C1232.0 402.1 1230.5 403.8 1229.0 405.4C1227.6 407.1 1226.1 408.8 1224.6 410.4C1223.1 412.1 1221.5 413.8 1220.0 415.4C1218.5 417.1 1217.0 418.8 1215.5 420.5C1214.0 422.1 1212.4 423.8 1210.9 425.5C1209.4 427.1 1207.9 428.8 1206.4 430.5C1204.9 432.1 1203.3 433.8 1201.8 435.5C1200.3 437.2 1198.8 438.8 1197.4 440.5C1195.9 442.2 1194.4 443.8 1192.9 445.5C1191.5 447.2 1190.0 448.8 1188.6 450.5C1187.2 452.2 1185.8 453.9 1184.4 455.5C1183.0 457.2 1181.6 458.9 1180.3 460.5C1178.9 462.2 1177.6 463.9 1176.3 465.6C1175.0 467.2 1173.8 468.9 1172.5 470.6C1171.3 472.2 1170.1 473.9 1168.9 475.6C1167.7 477.2 1166.6 478.9 1165.5 480.6C1164.4 482.3 1163.3 483.9 1162.2 485.6C1161.2 487.3 1160.2 488.9 1159.2 490.6C1158.2 492.3 1157.2 493.9 1156.3 495.6C1155.4 497.3 1154.5 499.0 1153.6 500.6C1152.7 502.3 1151.8 504.0 1151.0 505.6C1150.2 507.3 1149.4 509.0 1148.6 510.7C1147.8 512.3 1147.0 514.0 1146.2 515.7C1145.5 517.3 1144.7 519.0 1144.0 520.7C1143.3 522.3 1142.6 524.0 1141.9 525.7C1141.2 527.4 1140.5 529.0 1139.8 530.7C1139.1 532.4 1138.5 534.0 1137.8 535.7C1137.2 537.4 1136.5 539.0 1135.9 540.7C1135.3 542.4 1134.6 544.1 1134.0 545.7C1133.4 547.4 1132.8 549.1 1132.1 550.7C1131.5 552.4 1130.9 554.1 1130.3 555.8C1129.7 557.4 1129.0 559.1 1128.4 560.8C1127.8 562.4 1127.2 564.1 1126.6 565.8C1125.9 567.4 1125.3 569.1 1124.7 570.8C1124.0 572.5 1123.4 574.1 1122.7 575.8C1122.1 577.5 1121.4 579.1 1120.8 580.8C1120.1 582.5 1119.4 584.1 1118.7 585.8C1118.0 587.5 1117.3 589.2 1116.6 590.8C1115.9 592.5 1115.1 594.2 1114.4 595.8C1113.6 597.5 1112.9 599.2 1112.1 600.8C1111.3 602.5 1110.5 604.2 1109.6 605.9C1108.8 607.5 1107.9 609.2 1107.1 610.9C1106.2 612.5 1105.3 614.2 1104.4 615.9C1103.5 617.6 1102.5 619.2 1101.6 620.9C1100.6 622.6 1099.6 624.2 1098.6 625.9C1097.6 627.6 1096.6 629.2 1095.6 630.9C1094.6 632.6 1093.5 634.3 1092.5 635.9C1091.4 637.6 1090.3 639.3 1089.3 640.9C1088.2 642.6 1087.1 644.3 1086.0 645.9C1085.0 647.6 1083.9 649.3 1082.8 651.0C1081.7 652.6 1080.6 654.3 1079.5 656.0C1078.4 657.6 1077.3 659.3 1076.2 661.0C1075.1 662.6 1073.9 664.3 1072.8 666.0C1071.8 667.7 1070.7 669.3 1069.6 671.0C1068.5 672.7 1067.4 674.3 1066.3 676.0C1065.2 677.7 1064.2 679.3 1063.1 681.0C1062.1 682.7 1061.0 684.4 1060.0 686.0C1059.0 687.7 1057.9 689.4 1056.9 691.0C1055.9 692.7 1054.9 694.4 1054.0 696.1C1053.1 697.7 1052.2 699.4 1051.3 701.1C1050.5 702.7 1049.7 704.4 1049.1 706.1C1048.4 707.7 1047.8 709.4 1047.3 711.1C1046.8 712.7 1046.4 714.4 1046.2 716.1C1046.0 717.8 1045.8 719.4 1045.9 721.1C1045.9 722.8 1046.1 724.5 1046.5 726.1C1046.8 727.8 1047.4 729.5 1048.1 731.1C1048.8 732.8 1049.8 734.5 1050.9 736.1C1052.1 737.9 1053.5 739.5 1055.0 741.2C1056.7 742.9 1058.6 744.6 1060.6 746.2C1062.8 747.9 1065.2 749.6 1067.7 751.2C1070.4 752.9 1073.3 754.6 1076.3 756.2C1079.5 757.9 1082.8 759.6 1086.2 761.2C1089.8 762.9 1093.5 764.6 1097.3 766.2C1101.2 767.9 1105.2 769.6 1109.3 771.2C1113.6 772.9 1117.9 774.6 1122.3 776.2C1126.8 777.9 1131.4 779.6 1136.0 781.2C1140.7 782.9 1145.5 784.6 1150.3 786.3C1155.2 787.9 1160.1 789.6 1165.1 791.3C1170.0 792.9 1175.0 794.6 1180.0 796.3C1185.0 797.9 1190.0 799.6 1195.0 801.3C1199.9 802.9 1204.8 804.6 1209.7 806.3C1214.5 808.0 1219.3 809.6 1224.0 811.3C1228.6 813.0 1233.2 814.6 1237.7 816.3C1242.1 818.0 1246.5 819.6 1250.8 821.3C1255.0 823.0 1259.1 824.6 1263.2 826.3C1267.1 828.0 1270.9 829.6 1274.7 831.3C1278.4 833.0 1281.9 834.7 1285.4 836.4C1288.7 838.0 1292.0 839.7 1295.2 841.4C1298.2 843.0 1301.1 844.7 1303.9 846.4C1306.5 848.0 1309.1 849.7 1311.6 851.4C1313.9 853.0 1316.1 854.7 1318.3 856.4C1320.3 858.0 1322.2 859.7 1324.0 861.4C1325.8 863.0 1327.4 864.7 1328.9 866.4C1330.4 868.1 1331.8 869.7 1333.1 871.4C1334.3 873.1 1335.4 874.8 1336.5 876.4C1337.5 878.1 1338.4 879.8 1339.2 881.5C1340.0 883.1 1340.7 884.8 1341.4 886.5C1342.0 888.1 1342.5 889.8 1343.0 891.5C1343.5 893.1 1343.8 894.8 1344.1 896.5C1344.4 898.2 1344.7 899.8 1344.7 901.5C1344.7 903.2 1344.4 904.8 1344.1 906.5C1343.8 908.2 1343.5 909.9 1343.0 911.5C1342.5 913.2 1342.0 914.9 1341.4 916.5C1340.7 918.2 1340.0 919.9 1339.2 921.5C1338.4 923.2 1337.5 924.9 1336.5 926.6C1335.4 928.2 1334.3 929.9 1333.1 931.6C1331.8 933.3 1330.4 934.9 1328.9 936.6C1327.4 938.3 1325.8 940.0 1324.0 941.6C1322.2 943.3 1320.3 945.0 1318.3 946.6C1316.1 948.3 1313.9 950.0 1311.6 951.6C1309.1 953.3 1306.5 955.0 1303.9 956.6C1301.1 958.3 1298.2 960.0 1295.2 961.6C1292.0 963.3 1288.7 965.0 1285.4 966.6C1281.9 968.3 1278.4 970.0 1274.7 971.7C1270.9 973.4 1267.1 975.0 1263.2 976.7C1259.1 978.4 1255.0 980.0 1250.8 981.7C1246.5 983.4 1242.1 985.0 1237.7 986.7C1233.2 988.4 1228.6 990.0 1224.0 991.7C1219.3 993.4 1214.5 995.0 1209.7 996.7C1204.8 998.4 1199.9 1000.1 1195.0 1001.7C1190.0 1003.4 1185.0 1005.1 1180.0 1006.7C1175.0 1008.4 1170.0 1010.1 1165.1 1011.7C1160.1 1013.4 1155.2 1015.1 1150.3 1016.7C1145.5 1018.4 1140.7 1020.1 1136.0 1021.8C1131.4 1023.4 1126.8 1025.1 1122.3 1026.8C1117.9 1028.4 1113.6 1030.1 1109.3 1031.8C1105.2 1033.4 1101.2 1035.1 1097.3 1036.8C1093.5 1038.4 1089.8 1040.1 1086.2 1041.8C1082.8 1043.4 1079.5 1045.1 1076.3 1046.8C1073.3 1048.4 1070.4 1050.1 1067.7 1051.8C1065.2 1053.4 1062.8 1055.1 1060.6 1056.8C1058.6 1058.4 1056.7 1060.1 1055.0 1061.8C1053.5 1063.5 1052.1 1065.1 1050.9 1066.9C1049.8 1068.5 1048.8 1070.2 1048.1 1071.9C1047.4 1073.5 1046.8 1075.2 1046.5 1076.9C1046.1 1078.5 1045.9 1080.2 1045.9 1081.9C1045.8 1083.6 1046.0 1085.2 1046.2 1086.9C1046.4 1088.6 1046.8 1090.3 1047.3 1091.9C1047.8 1093.6 1048.4 1095.3 1049.1 1096.9C1049.7 1098.6 1050.5 1100.3 1051.3 1101.9C1052.2 1103.6 1053.1 1105.3 1054.0 1106.9C1054.9 1108.6 1055.9 1110.3 1056.9 1112.0C1057.9 1113.6 1059.0 1115.3 1060.0 1117.0C1061.0 1118.6 1062.1 1120.3 1063.1 1122.0C1064.2 1123.7 1065.2 1125.3 1066.3 1127.0C1067.4 1128.7 1068.5 1130.3 1069.6 1132.0C1070.7 1133.7 1071.8 1135.3 1072.8 1137.0C1073.9 1138.7 1075.1 1140.4 1076.2 1142.0C1077.3 1143.7 1078.4 1145.4 1079.5 1147.0C1080.6 1148.7 1081.7 1150.4 1082.8 1152.0C1083.9 1153.7 1085.0 1155.4 1086.0 1157.1C1087.1 1158.7 1088.2 1160.4 1089.3 1162.1C1090.3 1163.7 1091.4 1165.4 1092.5 1167.1C1093.5 1168.7 1094.6 1170.4 1095.6 1172.1C1096.6 1173.8 1097.6 1175.4 1098.6 1177.1C1099.6 1178.8 1100.6 1180.4 1101.6 1182.1C1102.5 1183.8 1103.5 1185.4 1104.4 1187.1C1105.3 1188.8 1106.2 1190.5 1107.1 1192.1C1107.9 1193.8 1108.8 1195.5 1109.6 1197.1C1110.5 1198.8 1111.3 1200.5 1112.1 1202.2C1112.9 1203.8 1113.6 1205.5 1114.4 1207.2C1115.1 1208.8 1115.9 1210.5 1116.6 1212.2C1117.3 1213.8 1118.0 1215.5 1118.7 1217.2C1119.4 1218.9 1120.1 1220.5 1120.8 1222.2C1121.4 1223.9 1122.1 1225.5 1122.7 1227.2C1123.4 1228.9 1124.0 1230.5 1124.7 1232.2C1125.3 1233.9 1125.9 1235.6 1126.6 1237.2C1127.2 1238.9 1127.8 1240.6 1128.4 1242.2C1129.0 1243.9 1129.7 1245.6 1130.3 1247.2C1130.9 1248.9 1131.5 1250.6 1132.1 1252.3C1132.8 1253.9 1133.4 1255.6 1134.0 1257.3C1134.6 1258.9 1135.3 1260.6 1135.9 1262.3C1136.5 1264.0 1137.2 1265.6 1137.8 1267.3C1138.5 1269.0 1139.1 1270.6 1139.8 1272.3C1140.5 1274.0 1141.2 1275.6 1141.9 1277.3C1142.6 1279.0 1143.3 1280.7 1144.0 1282.3C1144.7 1284.0 1145.5 1285.7 1146.2 1287.3C1147.0 1289.0 1147.8 1290.7 1148.6 1292.3C1149.4 1294.0 1150.2 1295.7 1151.0 1297.4C1151.8 1299.0 1152.7 1300.7 1153.6 1302.4C1154.5 1304.0 1155.4 1305.7 1156.3 1307.4C1157.2 1309.1 1158.2 1310.7 1159.2 1312.4C1160.2 1314.1 1161.2 1315.7 1162.2 1317.4C1163.3 1319.1 1164.4 1320.7 1165.5 1322.4C1166.6 1324.1 1167.7 1325.8 1168.9 1327.4C1170.1 1329.1 1171.3 1330.8 1172.5 1332.4C1173.8 1334.1 1175.0 1335.8 1176.3 1337.4C1177.6 1339.1 1178.9 1340.8 1180.3 1342.5C1181.6 1344.1 1183.0 1345.8 1184.4 1347.5C1185.8 1349.1 1187.2 1350.8 1188.6 1352.5C1190.0 1354.2 1191.5 1355.8 1192.9 1357.5C1194.4 1359.2 1195.9 1360.8 1197.4 1362.5C1198.8 1364.2 1200.3 1365.8 1201.8 1367.5C1203.3 1369.2 1204.9 1370.9 1206.4 1372.5C1207.9 1374.2 1209.4 1375.9 1210.9 1377.5C1212.4 1379.2 1214.0 1380.9 1215.5 1382.5C1217.0 1384.2 1218.5 1385.9 1220.0 1387.6C1221.5 1389.2 1223.1 1390.9 1224.6 1392.6C1226.1 1394.2 1227.6 1395.9 1229.0 1397.6C1230.5 1399.2 1232.0 1400.9 1233.4 1402.6C1234.9 1404.3 1236.3 1405.9 1237.8 1407.6C1239.2 1409.3 1240.6 1410.9 1242.0 1412.6C1243.4 1414.3 1244.7 1415.9 1246.1 1417.6C1247.4 1419.3 1248.7 1421.0 1250.0 1422.6C1251.3 1424.3 1252.6 1426.0 1253.8 1427.6C1255.0 1429.3 1256.2 1431.0 1257.4 1432.7C1258.6 1434.3 1259.7 1436.0 1260.8 1437.7C1261.9 1439.3 1263.0 1441.0 1264.0 1442.7C1265.1 1444.3 1266.1 1446.0 1267.0 1447.7C1268.0 1449.3 1269.0 1451.0 1269.9 1452.7C1270.8 1454.4 1271.7 1456.0 1272.5 1457.7C1273.4 1459.4 1274.2 1461.0 1275.0 1462.7C1275.8 1464.4 1276.6 1466.1 1277.3 1467.7C1278.1 1469.4 1278.8 1471.1 1279.5 1472.7C1280.2 1474.4 1280.8 1476.1 1281.5 1477.7C1282.1 1479.4 1282.7 1481.1 1283.3 1482.8C1283.9 1484.4 1284.5 1486.1 1285.1 1487.8C1285.6 1489.4 1286.2 1491.1 1286.7 1492.8C1287.2 1494.4 1287.7 1496.1 1288.2 1497.8C1288.6 1499.5 1289.1 1501.1 1289.5 1502.8C1290.0 1504.5 1290.4 1506.1 1290.8 1507.8C1291.2 1509.5 1291.6 1511.2 1292.0 1512.8C1292.4 1514.5 1292.7 1516.2 1293.1 1517.8C1293.4 1519.5 1293.8 1521.2 1294.1 1522.8C1294.4 1524.5 1294.7 1526.2 1295.0 1527.9C1295.3 1529.5 1295.6 1531.2 1295.9 1532.9C1296.2 1534.5 1296.5 1536.2 1296.7 1537.9C1297.0 1539.5 1297.2 1541.2 1297.5 1542.9C1297.7 1544.6 1298.0 1546.2 1298.2 1547.9C1298.4 1549.6 1298.7 1551.2 1298.9 1552.9C1299.1 1554.6 1299.3 1556.3 1299.6 1557.9C1299.8 1559.6 1300.0 1561.3 1300.2 1562.9C1300.4 1564.6 1300.6 1566.3 1300.8 1567.9C1301.0 1569.6 1301.2 1571.3 1301.4 1573.0C1301.7 1574.6 1301.9 1576.3 1302.1 1578.0C1302.3 1579.6 1302.5 1581.3 1302.7 1583.0C1302.9 1584.6 1303.1 1586.3 1303.4 1588.0C1303.6 1589.7 1303.8 1591.3 1304.1 1593.0C1304.3 1594.7 1304.5 1596.3 1304.8 1598.0C1305.1 1599.7 1305.3 1601.4 1305.6 1603.0C1305.9 1604.7 1306.2 1606.4 1306.5 1608.0C1306.9 1609.7 1307.2 1611.4 1307.6 1613.0C1307.9 1614.7 1308.4 1616.4 1308.7 1618.1C1309.0 1619.7 1309.5 1621.4 1309.6 1623.1C1309.7 1624.7 1309.8 1626.4 1309.5 1628.1C1309.1 1629.8 1308.5 1631.5 1307.5 1633.1C1306.4 1634.9 1304.8 1636.6 1302.9 1638.1C1300.6 1640.0 1297.7 1641.6 1294.2 1643.1C1289.4 1645.1 1283.0 1646.6 1276.2 1648.1C1267.9 1650.0 1258.0 1651.6 1247.9 1653.1C1236.3 1654.9 1223.9 1656.6 1210.5 1658.1C1195.3 1659.9 1177.8 1661.5 1161.5 1663.2" stroke="#000000" stroke-width="7.2" fill="none" stroke-linecap="round" stroke-linejoin="round"/><path d="M1161.5 139.8C1177.8 141.5 1195.4 143.0 1210.4 144.9C1223.1 146.4 1235.1 148.0 1245.8 149.9C1254.7 151.4 1263.1 153.0 1270.3 154.9C1276.1 156.4 1281.6 158.0 1286.0 159.9C1289.5 161.4 1292.7 163.0 1295.0 164.9C1296.8 166.4 1298.2 168.1 1299.0 169.9C1299.7 171.5 1299.8 173.3 1299.8 174.9C1299.8 176.6 1299.4 178.3 1299.1 179.9C1298.8 181.6 1298.4 183.3 1298.0 184.9C1297.6 186.6 1297.2 188.3 1296.8 190.0C1296.4 191.6 1295.9 193.3 1295.5 195.0C1295.0 196.6 1294.6 198.3 1294.2 200.0C1293.8 201.6 1293.4 203.3 1293.0 205.0C1292.6 206.7 1292.2 208.3 1291.8 210.0C1291.4 211.7 1291.0 213.3 1290.7 215.0C1290.3 216.7 1289.9 218.4 1289.6 220.0C1289.2 221.7 1288.9 223.4 1288.5 225.0C1288.2 226.7 1287.8 228.4 1287.5 230.0C1287.1 231.7 1286.8 233.4 1286.4 235.1C1286.1 236.7 1285.7 238.4 1285.4 240.1C1285.0 241.7 1284.7 243.4 1284.3 245.1C1284.0 246.7 1283.6 248.4 1283.3 250.1C1282.9 251.8 1282.6 253.4 1282.2 255.1C1281.9 256.8 1281.5 258.4 1281.1 260.1C1280.8 261.8 1280.4 263.5 1280.0 265.1C1279.6 266.8 1279.2 268.5 1278.8 270.1C1278.4 271.8 1278.0 273.5 1277.6 275.1C1277.2 276.8 1276.8 278.5 1276.3 280.2C1275.9 281.8 1275.5 283.5 1275.0 285.2C1274.5 286.8 1274.1 288.5 1273.6 290.2C1273.1 291.8 1272.6 293.5 1272.1 295.2C1271.6 296.9 1271.1 298.5 1270.5 300.2C1270.0 301.9 1269.4 303.5 1268.9 305.2C1268.3 306.9 1267.7 308.6 1267.1 310.2C1266.5 311.9 1265.9 313.6 1265.3 315.2C1264.7 316.9 1264.0 318.6 1263.4 320.2C1262.8 321.9 1262.1 323.6 1261.4 325.3C1260.8 326.9 1260.1 328.6 1259.4 330.3C1258.7 331.9 1258.0 333.6 1257.3 335.3C1256.6 336.9 1255.9 338.6 1255.1 340.3C1254.4 342.0 1253.7 343.6 1252.9 345.3C1252.2 347.0 1251.4 348.6 1250.6 350.3C1249.9 352.0 1249.1 353.6 1248.3 355.3C1247.5 357.0 1246.7 358.7 1245.9 360.3C1245.1 362.0 1244.3 363.7 1243.5 365.3C1242.7 367.0 1241.9 368.7 1241.1 370.3C1240.2 372.0 1239.4 373.7 1238.6 375.4C1237.8 377.0 1236.9 378.7 1236.1 380.4C1235.2 382.0 1234.4 383.7 1233.5 385.4C1232.7 387.1 1231.8 388.7 1230.9 390.4C1230.1 392.1 1229.2 393.7 1228.3 395.4C1227.5 397.1 1226.6 398.7 1225.7 400.4C1224.9 402.1 1224.0 403.8 1223.1 405.4C1222.2 407.1 1221.3 408.8 1220.5 410.4C1219.6 412.1 1218.7 413.8 1217.8 415.4C1216.9 417.1 1216.1 418.8 1215.2 420.5C1214.3 422.1 1213.4 423.8 1212.5 425.5C1211.6 427.1 1210.8 428.8 1209.9 430.5C1209.0 432.1 1208.1 433.8 1207.2 435.5C1206.4 437.2 1205.5 438.8 1204.6 440.5C1203.7 442.2 1202.9 443.8 1202.0 445.5C1201.1 447.2 1200.3 448.9 1199.4 450.5C1198.5 452.2 1197.7 453.9 1196.8 455.5C1196.0 457.2 1195.1 458.9 1194.3 460.5C1193.4 462.2 1192.6 463.9 1191.7 465.6C1190.9 467.2 1190.1 468.9 1189.2 470.6C1188.4 472.2 1187.6 473.9 1186.8 475.6C1186.0 477.2 1185.2 478.9 1184.4 480.6C1183.6 482.3 1182.8 483.9 1182.0 485.6C1181.2 487.3 1180.4 488.9 1179.7 490.6C1178.9 492.3 1178.1 493.9 1177.4 495.6C1176.6 497.3 1175.9 499.0 1175.2 500.6C1174.4 502.3 1173.7 504.0 1173.0 505.6C1172.3 507.3 1171.6 509.0 1170.9 510.7C1170.2 512.3 1169.5 514.0 1168.8 515.7C1168.1 517.3 1167.4 519.0 1166.8 520.7C1166.1 522.3 1165.4 524.0 1164.8 525.7C1164.1 527.4 1163.5 529.0 1162.9 530.7C1162.2 532.4 1161.6 534.0 1161.0 535.7C1160.4 537.4 1159.8 539.0 1159.2 540.7C1158.6 542.4 1158.0 544.1 1157.4 545.7C1156.8 547.4 1156.2 549.1 1155.7 550.7C1155.1 552.4 1154.5 554.1 1154.0 555.8C1153.4 557.4 1152.9 559.1 1152.3 560.8C1151.8 562.4 1151.3 564.1 1150.7 565.8C1150.2 567.4 1149.7 569.1 1149.2 570.8C1148.7 572.5 1148.2 574.1 1147.7 575.8C1147.2 577.5 1146.7 579.1 1146.2 580.8C1145.7 582.5 1145.3 584.1 1144.8 585.8C1144.3 587.5 1143.9 589.2 1143.4 590.8C1143.0 592.5 1142.5 594.2 1142.1 595.8C1141.6 597.5 1141.2 599.2 1140.8 600.8C1140.4 602.5 1140.0 604.2 1139.5 605.9C1139.1 607.5 1138.7 609.2 1138.3 610.9C1137.9 612.5 1137.5 614.2 1137.2 615.9C1136.8 617.6 1136.4 619.2 1136.0 620.9C1135.6 622.6 1135.3 624.2 1134.9 625.9C1134.6 627.6 1134.2 629.2 1133.9 630.9C1133.5 632.6 1133.2 634.3 1132.8 635.9C1132.5 637.6 1132.2 639.3 1131.9 640.9C1131.5 642.6 1131.2 644.3 1130.9 645.9C1130.6 647.6 1130.3 649.3 1130.0 651.0C1129.7 652.6 1129.4 654.3 1129.1 656.0C1128.8 657.6 1128.5 659.3 1128.3 661.0C1128.0 662.6 1127.7 664.3 1127.5 666.0C1127.2 667.7 1126.9 669.3 1126.7 671.0C1126.4 672.7 1126.2 674.3 1125.9 676.0C1125.7 677.7 1125.5 679.4 1125.2 681.0C1125.0 682.7 1124.8 684.4 1124.5 686.0C1124.3 687.7 1124.1 689.4 1123.9 691.0C1123.7 692.7 1123.5 694.4 1123.3 696.1C1123.1 697.7 1122.9 699.4 1122.7 701.1C1122.5 702.7 1122.3 704.4 1122.1 706.1C1121.9 707.7 1121.8 709.4 1121.6 711.1C1121.4 712.8 1121.2 714.4 1121.1 716.1C1120.9 717.8 1120.8 719.4 1120.6 721.1C1120.5 722.8 1120.3 724.4 1120.2 726.1C1120.0 727.8 1119.9 729.5 1119.7 731.1C1119.6 732.8 1119.5 734.5 1119.3 736.1C1119.2 737.8 1119.1 739.5 1119.0 741.2C1118.8 742.8 1118.7 744.5 1118.6 746.2C1118.5 747.8 1118.4 749.5 1118.3 751.2C1118.2 752.8 1118.1 754.5 1118.0 756.2C1117.9 757.9 1117.8 759.5 1117.7 761.2C1117.6 762.9 1117.5 764.5 1117.5 766.2C1117.4 767.9 1117.3 769.5 1117.2 771.2C1117.1 772.9 1117.1 774.6 1117.0 776.2C1116.9 777.9 1116.9 779.6 1116.8 781.2C1116.7 782.9 1116.7 784.6 1116.6 786.3C1116.6 787.9 1116.5 789.6 1116.5 791.3C1116.4 792.9 1116.3 794.6 1116.3 796.3C1116.3 797.9 1116.2 799.6 1116.2 801.3C1116.1 803.0 1116.1 804.6 1116.0 806.3C1116.0 808.0 1116.0 809.6 1115.9 811.3C1115.9 813.0 1115.9 814.6 1115.8 816.3C1115.8 818.0 1115.8 819.7 1115.7 821.3C1115.7 823.0 1115.7 824.7 1115.7 826.3C1115.6 828.0 1115.6 829.7 1115.6 831.3C1115.6 833.0 1115.6 834.7 1115.5 836.4C1115.5 838.0 1115.5 839.7 1115.5 841.4C1115.5 843.0 1115.5 844.7 1115.4 846.4C1115.4 848.1 1115.4 849.7 1115.4 851.4C1115.4 853.1 1115.4 854.7 1115.4 856.4C1115.3 858.1 1115.3 859.7 1115.3 861.4C1115.3 863.1 1115.3 864.8 1115.3 866.4C1115.3 868.1 1115.3 869.8 1115.3 871.4C1115.3 873.1 1115.3 874.8 1115.2 876.4C1115.2 878.1 1115.2 879.8 1115.2 881.5C1115.2 883.1 1115.2 884.8 1115.2 886.5C1115.2 888.1 1115.2 889.8 1115.2 891.5C1115.1 893.1 1115.1 894.8 1115.1 896.5C1115.1 898.2 1115.1 899.8 1115.1 901.5C1115.1 903.2 1115.1 904.8 1115.1 906.5C1115.1 908.2 1115.1 909.9 1115.2 911.5C1115.2 913.2 1115.2 914.9 1115.2 916.5C1115.2 918.2 1115.2 919.9 1115.2 921.5C1115.2 923.2 1115.2 924.9 1115.2 926.6C1115.3 928.2 1115.3 929.9 1115.3 931.6C1115.3 933.2 1115.3 934.9 1115.3 936.6C1115.3 938.2 1115.3 939.9 1115.3 941.6C1115.3 943.3 1115.3 944.9 1115.4 946.6C1115.4 948.3 1115.4 949.9 1115.4 951.6C1115.4 953.3 1115.4 954.9 1115.4 956.6C1115.5 958.3 1115.5 960.0 1115.5 961.6C1115.5 963.3 1115.5 965.0 1115.5 966.6C1115.6 968.3 1115.6 970.0 1115.6 971.7C1115.6 973.3 1115.6 975.0 1115.7 976.7C1115.7 978.3 1115.7 980.0 1115.7 981.7C1115.8 983.3 1115.8 985.0 1115.8 986.7C1115.9 988.4 1115.9 990.0 1115.9 991.7C1116.0 993.4 1116.0 995.0 1116.0 996.7C1116.1 998.4 1116.1 1000.0 1116.2 1001.7C1116.2 1003.4 1116.3 1005.1 1116.3 1006.7C1116.3 1008.4 1116.4 1010.1 1116.5 1011.7C1116.5 1013.4 1116.6 1015.1 1116.6 1016.7C1116.7 1018.4 1116.7 1020.1 1116.8 1021.8C1116.9 1023.4 1116.9 1025.1 1117.0 1026.8C1117.1 1028.4 1117.1 1030.1 1117.2 1031.8C1117.3 1033.5 1117.4 1035.1 1117.5 1036.8C1117.5 1038.5 1117.6 1040.1 1117.7 1041.8C1117.8 1043.5 1117.9 1045.1 1118.0 1046.8C1118.1 1048.5 1118.2 1050.2 1118.3 1051.8C1118.4 1053.5 1118.5 1055.2 1118.6 1056.8C1118.7 1058.5 1118.8 1060.2 1119.0 1061.8C1119.1 1063.5 1119.2 1065.2 1119.3 1066.9C1119.5 1068.5 1119.6 1070.2 1119.7 1071.9C1119.9 1073.5 1120.0 1075.2 1120.2 1076.9C1120.3 1078.6 1120.5 1080.2 1120.6 1081.9C1120.8 1083.6 1120.9 1085.2 1121.1 1086.9C1121.2 1088.6 1121.4 1090.2 1121.6 1091.9C1121.8 1093.6 1121.9 1095.3 1122.1 1096.9C1122.3 1098.6 1122.5 1100.3 1122.7 1101.9C1122.9 1103.6 1123.1 1105.3 1123.3 1106.9C1123.5 1108.6 1123.7 1110.3 1123.9 1112.0C1124.1 1113.6 1124.3 1115.3 1124.5 1117.0C1124.8 1118.6 1125.0 1120.3 1125.2 1122.0C1125.5 1123.6 1125.7 1125.3 1125.9 1127.0C1126.2 1128.7 1126.4 1130.3 1126.7 1132.0C1126.9 1133.7 1127.2 1135.3 1127.5 1137.0C1127.7 1138.7 1128.0 1140.4 1128.3 1142.0C1128.5 1143.7 1128.8 1145.4 1129.1 1147.0C1129.4 1148.7 1129.7 1150.4 1130.0 1152.0C1130.3 1153.7 1130.6 1155.4 1130.9 1157.1C1131.2 1158.7 1131.5 1160.4 1131.9 1162.1C1132.2 1163.7 1132.5 1165.4 1132.8 1167.1C1133.2 1168.7 1133.5 1170.4 1133.9 1172.1C1134.2 1173.8 1134.6 1175.4 1134.9 1177.1C1135.3 1178.8 1135.6 1180.4 1136.0 1182.1C1136.4 1183.8 1136.8 1185.4 1137.2 1187.1C1137.5 1188.8 1137.9 1190.5 1138.3 1192.1C1138.7 1193.8 1139.1 1195.5 1139.5 1197.1C1140.0 1198.8 1140.4 1200.5 1140.8 1202.2C1141.2 1203.8 1141.6 1205.5 1142.1 1207.2C1142.5 1208.8 1143.0 1210.5 1143.4 1212.2C1143.9 1213.8 1144.3 1215.5 1144.8 1217.2C1145.3 1218.9 1145.7 1220.5 1146.2 1222.2C1146.7 1223.9 1147.2 1225.5 1147.7 1227.2C1148.2 1228.9 1148.7 1230.5 1149.2 1232.2C1149.7 1233.9 1150.2 1235.6 1150.7 1237.2C1151.3 1238.9 1151.8 1240.6 1152.3 1242.2C1152.9 1243.9 1153.4 1245.6 1154.0 1247.2C1154.5 1248.9 1155.1 1250.6 1155.7 1252.3C1156.2 1253.9 1156.8 1255.6 1157.4 1257.3C1158.0 1258.9 1158.6 1260.6 1159.2 1262.3C1159.8 1264.0 1160.4 1265.6 1161.0 1267.3C1161.6 1269.0 1162.2 1270.6 1162.9 1272.3C1163.5 1274.0 1164.1 1275.6 1164.8 1277.3C1165.4 1279.0 1166.1 1280.7 1166.8 1282.3C1167.4 1284.0 1168.1 1285.7 1168.8 1287.3C1169.5 1289.0 1170.2 1290.7 1170.9 1292.3C1171.6 1294.0 1172.3 1295.7 1173.0 1297.4C1173.7 1299.0 1174.4 1300.7 1175.2 1302.4C1175.9 1304.0 1176.6 1305.7 1177.4 1307.4C1178.1 1309.1 1178.9 1310.7 1179.7 1312.4C1180.4 1314.1 1181.2 1315.7 1182.0 1317.4C1182.8 1319.1 1183.6 1320.7 1184.4 1322.4C1185.2 1324.1 1186.0 1325.8 1186.8 1327.4C1187.6 1329.1 1188.4 1330.8 1189.2 1332.4C1190.1 1334.1 1190.9 1335.8 1191.7 1337.4C1192.6 1339.1 1193.4 1340.8 1194.3 1342.5C1195.1 1344.1 1196.0 1345.8 1196.8 1347.5C1197.7 1349.1 1198.5 1350.8 1199.4 1352.5C1200.3 1354.1 1201.1 1355.8 1202.0 1357.5C1202.9 1359.2 1203.7 1360.8 1204.6 1362.5C1205.5 1364.2 1206.4 1365.8 1207.2 1367.5C1208.1 1369.2 1209.0 1370.9 1209.9 1372.5C1210.8 1374.2 1211.6 1375.9 1212.5 1377.5C1213.4 1379.2 1214.3 1380.9 1215.2 1382.5C1216.1 1384.2 1216.9 1385.9 1217.8 1387.6C1218.7 1389.2 1219.6 1390.9 1220.5 1392.6C1221.3 1394.2 1222.2 1395.9 1223.1 1397.6C1224.0 1399.2 1224.9 1400.9 1225.7 1402.6C1226.6 1404.3 1227.5 1405.9 1228.3 1407.6C1229.2 1409.3 1230.1 1410.9 1230.9 1412.6C1231.8 1414.3 1232.7 1415.9 1233.5 1417.6C1234.4 1419.3 1235.2 1421.0 1236.1 1422.6C1236.9 1424.3 1237.8 1426.0 1238.6 1427.6C1239.4 1429.3 1240.2 1431.0 1241.1 1432.7C1241.9 1434.3 1242.7 1436.0 1243.5 1437.7C1244.3 1439.3 1245.1 1441.0 1245.9 1442.7C1246.7 1444.3 1247.5 1446.0 1248.3 1447.7C1249.1 1449.4 1249.9 1451.0 1250.6 1452.7C1251.4 1454.4 1252.2 1456.0 1252.9 1457.7C1253.7 1459.4 1254.4 1461.0 1255.1 1462.7C1255.9 1464.4 1256.6 1466.1 1257.3 1467.7C1258.0 1469.4 1258.7 1471.1 1259.4 1472.7C1260.1 1474.4 1260.8 1476.1 1261.4 1477.7C1262.1 1479.4 1262.8 1481.1 1263.4 1482.8C1264.0 1484.4 1264.7 1486.1 1265.3 1487.8C1265.9 1489.4 1266.5 1491.1 1267.1 1492.8C1267.7 1494.4 1268.3 1496.1 1268.9 1497.8C1269.4 1499.5 1270.0 1501.1 1270.5 1502.8C1271.1 1504.5 1271.6 1506.1 1272.1 1507.8C1272.6 1509.5 1273.1 1511.2 1273.6 1512.8C1274.1 1514.5 1274.5 1516.2 1275.0 1517.8C1275.5 1519.5 1275.9 1521.2 1276.3 1522.8C1276.8 1524.5 1277.2 1526.2 1277.6 1527.9C1278.0 1529.5 1278.4 1531.2 1278.8 1532.9C1279.2 1534.5 1279.6 1536.2 1280.0 1537.9C1280.4 1539.5 1280.8 1541.2 1281.1 1542.9C1281.5 1544.6 1281.9 1546.2 1282.2 1547.9C1282.6 1549.6 1282.9 1551.2 1283.3 1552.9C1283.6 1554.6 1284.0 1556.3 1284.3 1557.9C1284.7 1559.6 1285.0 1561.3 1285.4 1562.9C1285.7 1564.6 1286.1 1566.3 1286.4 1567.9C1286.8 1569.6 1287.1 1571.3 1287.5 1573.0C1287.8 1574.6 1288.2 1576.3 1288.5 1578.0C1288.9 1579.6 1289.2 1581.3 1289.6 1583.0C1289.9 1584.6 1290.3 1586.3 1290.7 1588.0C1291.0 1589.7 1291.4 1591.3 1291.8 1593.0C1292.2 1594.7 1292.6 1596.3 1293.0 1598.0C1293.4 1599.7 1293.8 1601.4 1294.2 1603.0C1294.6 1604.7 1295.0 1606.4 1295.5 1608.0C1295.9 1609.7 1296.4 1611.4 1296.8 1613.0C1297.2 1614.7 1297.6 1616.4 1298.0 1618.1C1298.4 1619.7 1298.8 1621.4 1299.1 1623.1C1299.4 1624.7 1299.8 1626.4 1299.8 1628.1C1299.8 1629.7 1299.7 1631.5 1299.0 1633.1C1298.2 1634.9 1296.8 1636.6 1295.0 1638.1C1292.7 1640.0 1289.5 1641.6 1286.0 1643.1C1281.6 1645.0 1276.1 1646.6 1270.3 1648.1C1263.1 1650.0 1254.7 1651.6 1245.8 1653.1C1235.1 1655.0 1223.1 1656.6 1210.4 1658.1C1195.4 1660.0 1177.8 1661.5 1161.5 1663.2" stroke="#0000ff" stroke-width="7.2" fill="none" stroke-linecap="round" stroke-linejoin="round"/><path d="M1161.5 139.8L1276.4 162.4L1283.0 173.8L1280.8 189.1L1275.3 218.6L1268.7 254.8L1263.3 283.2L1256.7 320.4L1250.1 348.9L1237.0 383.9L1230.4 408.0L1207.4 463.0L1192.1 496.9L1182.3 521.0L1169.1 553.9L1154.9 595.4L1144.0 631.6L1136.3 658.9L1127.6 694.1L1122.1 717.1L1116.6 748.8L1117.0 778.4L1121.0 816.7L1128.6 845.1L1136.3 853.9L1154.9 869.2L1171.3 888.9L1180.0 901.5L1171.3 914.1L1154.9 933.8L1136.3 949.1L1128.6 957.9L1121.0 986.3L1117.0 1024.6L1116.6 1054.2L1122.1 1085.9L1127.6 1108.9L1136.3 1144.1L1144.0 1171.4L1154.9 1207.6L1169.1 1249.1L1182.3 1282.0L1192.1 1306.1L1207.4 1340.0L1230.4 1395.0L1237.0 1419.1L1250.1 1454.1L1256.7 1482.6L1263.3 1519.8L1268.7 1548.2L1275.3 1584.4L1280.8 1613.9L1283.0 1629.2L1276.4 1640.6L1161.5 1663.2" stroke="#ff8000" stroke-width="7.2" fill="none" stroke-linecap="round" stroke-linejoin="round" stroke-dasharray="25 41"/><path d="M1161.5 139.8L1197.6 144.2L1265.4 155.2L1290.6 165.0L1288.4 180.3L1284.0 209.9L1279.7 249.3L1274.2 278.8L1267.6 316.0L1261.1 342.3L1246.8 379.5L1234.8 408.0L1219.5 436.8L1206.3 461.9L1188.8 496.9L1176.8 519.9L1159.3 553.9L1149.4 581.2L1134.1 615.1L1127.6 639.2L1117.7 667.9L1110.0 693.0L1099.1 730.2L1092.5 758.7L1083.8 787.1L1078.3 811.2L1072.8 832.0L1070.6 846.2L1070.6 873.6L1071.7 901.6L1070.6 929.4L1070.6 956.8L1072.8 971.0L1078.3 991.8L1083.8 1015.9L1092.5 1044.3L1099.1 1072.8L1110.0 1110.0L1117.7 1135.1L1127.6 1163.8L1134.1 1187.9L1149.4 1221.8L1159.3 1249.1L1176.8 1283.1L1188.8 1306.1L1206.3 1341.1L1219.5 1366.2L1234.8 1395.0L1246.8 1423.5L1261.1 1460.7L1267.6 1487.0L1274.2 1524.2L1279.7 1553.7L1284.0 1593.1L1288.4 1622.7L1290.6 1638.0L1265.4 1647.8L1197.6 1658.8L1161.5 1663.2" stroke="#ff00ff" stroke-width="7.2" fill="none" stroke-linecap="round" stroke-linejoin="round" stroke-dasharray="25 41"/><path d="M1144.5 139.2h34M1161.5 122.2v34M1272.5 155.2h34M1289.5 138.2v34M1278.0 170.1h34M1295.0 153.1v34M1275.8 193.5h34M1292.8 176.5v34M1271.4 217.1h34M1288.4 200.1v34M1266.0 240.8h34M1283.0 223.8v34M1259.4 264.4h34M1276.4 247.4v34M1252.8 288.0h34M1269.8 271.0v34M1245.2 311.7h34M1262.2 294.7v34M1236.4 335.3h34M1253.4 318.3v34M1225.5 358.9h34M1242.5 341.9v34M1214.5 382.8h34M1231.5 365.8v34M1202.5 406.2h34M1219.5 389.2v34M1191.1 428.7h34M1208.1 411.7v34M1179.5 452.5h34M1196.5 435.5v34M1168.1 476.2h34M1185.1 459.2v34M1158.3 499.6h34M1175.3 482.6v34M1149.9 523.2h34M1166.9 506.2v34M1141.2 546.6h34M1158.2 529.6v34M1133.5 570.3h34M1150.5 553.3v34M1127.0 594.4h34M1144.0 577.4v34M1120.4 617.8h34M1137.4 600.8v34M1114.9 641.0h34M1131.9 624.0v34M1110.6 665.0h34M1127.6 648.0v34M1107.3 688.6h34M1124.3 671.6v34M1104.0 712.1h34M1121.0 695.1v34M1099.6 735.7h34M1116.6 718.7v34M1096.3 758.7h34M1113.3 741.7v34M1093.0 782.1h34M1110.0 765.1v34M1089.8 805.7h34M1106.8 788.7v34M1086.5 829.2h34M1103.5 812.2v34M1084.3 852.8h34M1101.3 835.8v34M1088.7 876.4h34M1105.7 859.4v34M1088.7 899.9h34M1105.7 882.9v34M1088.7 926.6h34M1105.7 909.6v34M1084.3 950.2h34M1101.3 933.2v34M1086.5 973.8h34M1103.5 956.8v34M1089.8 997.3h34M1106.8 980.3v34M1093.0 1020.9h34M1110.0 1003.9v34M1096.3 1044.3h34M1113.3 1027.3v34M1099.6 1067.3h34M1116.6 1050.3v34M1104.0 1090.9h34M1121.0 1073.9v34M1107.3 1114.4h34M1124.3 1097.4v34M1110.6 1138.0h34M1127.6 1121.0v34M1114.9 1162.0h34M1131.9 1145.0v34M1120.4 1185.2h34M1137.4 1168.2v34M1127.0 1208.6h34M1144.0 1191.6v34M1133.5 1232.7h34M1150.5 1215.7v34M1141.2 1256.4h34M1158.2 1239.4v34M1149.9 1279.8h34M1166.9 1262.8v34M1158.3 1303.4h34M1175.3 1286.4v34M1168.1 1326.8h34M1185.1 1309.8v34M1179.5 1350.5h34M1196.5 1333.5v34M1191.1 1374.3h34M1208.1 1357.3v34M1202.5 1396.8h34M1219.5 1379.8v34M1214.5 1420.2h34M1231.5 1403.2v34M1225.5 1444.1h34M1242.5 1427.1v34M1236.4 1467.7h34M1253.4 1450.7v34M1245.2 1491.3h34M1262.2 1474.3v34M1252.8 1515.0h34M1269.8 1498.0v34M1259.4 1538.6h34M1276.4 1521.6v34M1266.0 1562.2h34M1283.0 1545.2v34M1271.4 1585.9h34M1288.4 1568.9v34M1275.8 1609.5h34M1292.8 1592.5v34M1278.0 1632.9h34M1295.0 1615.9v34M1272.5 1647.8h34M1289.5 1630.8v34M1144.5 1663.8h34M1161.5 1646.8v34" stroke="#f00" stroke-width="1.3" fill="none" stroke-opacity="0.70"/><path d="M1828.4 139.8C1834.9 141.5 1841.9 143.1 1848.0 144.9C1853.6 146.5 1858.8 148.1 1863.6 149.9C1868.0 151.5 1872.0 153.1 1875.8 154.9C1879.1 156.5 1882.2 158.1 1884.9 159.9C1887.5 161.5 1889.7 163.2 1891.8 164.9C1893.7 166.5 1895.3 168.2 1896.9 169.9C1898.3 171.5 1899.6 173.2 1900.8 174.9C1901.9 176.6 1903.0 178.3 1904.0 179.9C1905.1 181.6 1906.1 183.3 1907.0 184.9C1908.0 186.6 1908.9 188.3 1909.8 190.0C1910.7 191.6 1911.5 193.3 1912.3 195.0C1913.2 196.6 1913.9 198.3 1914.7 200.0C1915.4 201.6 1916.1 203.3 1916.8 205.0C1917.5 206.7 1918.2 208.3 1918.8 210.0C1919.4 211.7 1920.0 213.3 1920.5 215.0C1921.1 216.7 1921.6 218.3 1922.2 220.0C1922.7 221.7 1923.1 223.4 1923.6 225.0C1924.1 226.7 1924.5 228.4 1924.9 230.0C1925.3 231.7 1925.7 233.4 1926.1 235.1C1926.4 236.7 1926.8 238.4 1927.1 240.1C1927.4 241.7 1927.7 243.4 1928.0 245.1C1928.3 246.7 1928.6 248.4 1928.8 250.1C1929.1 251.8 1929.3 253.4 1929.5 255.1C1929.7 256.8 1929.9 258.4 1930.0 260.1C1930.2 261.8 1930.3 263.5 1930.5 265.1C1930.6 266.8 1930.7 268.5 1930.8 270.1C1930.9 271.8 1931.0 273.5 1931.0 275.1C1931.1 276.8 1931.2 278.5 1931.2 280.2C1931.2 281.8 1931.2 283.5 1931.2 285.2C1931.2 286.8 1931.2 288.5 1931.2 290.2C1931.1 291.8 1931.1 293.5 1931.0 295.2C1931.0 296.9 1930.9 298.5 1930.8 300.2C1930.7 301.9 1930.6 303.5 1930.5 305.2C1930.4 306.9 1930.2 308.5 1930.1 310.2C1929.9 311.9 1929.8 313.6 1929.6 315.2C1929.5 316.9 1929.3 318.6 1929.1 320.2C1928.9 321.9 1928.7 323.6 1928.5 325.3C1928.3 326.9 1928.1 328.6 1927.8 330.3C1927.6 331.9 1927.4 333.6 1927.1 335.3C1926.9 336.9 1926.6 338.6 1926.4 340.3C1926.1 342.0 1925.8 343.6 1925.5 345.3C1925.3 347.0 1925.0 348.6 1924.7 350.3C1924.4 352.0 1924.1 353.6 1923.8 355.3C1923.5 357.0 1923.1 358.7 1922.8 360.3C1922.5 362.0 1922.2 363.7 1921.8 365.3C1921.5 367.0 1921.2 368.7 1920.8 370.3C1920.5 372.0 1920.1 373.7 1919.8 375.4C1919.4 377.0 1919.1 378.7 1918.7 380.4C1918.3 382.0 1918.0 383.7 1917.6 385.4C1917.2 387.1 1916.9 388.7 1916.5 390.4C1916.1 392.1 1915.7 393.7 1915.3 395.4C1914.9 397.1 1914.5 398.7 1914.1 400.4C1913.8 402.1 1913.4 403.8 1913.0 405.4C1912.6 407.1 1912.1 408.8 1911.7 410.4C1911.3 412.1 1910.9 413.8 1910.5 415.4C1910.1 417.1 1909.7 418.8 1909.3 420.5C1908.8 422.1 1908.4 423.8 1908.0 425.5C1907.6 427.1 1907.2 428.8 1906.7 430.5C1906.3 432.1 1905.9 433.8 1905.5 435.5C1905.0 437.2 1904.6 438.8 1904.2 440.5C1903.7 442.2 1903.3 443.8 1902.9 445.5C1902.5 447.2 1902.0 448.9 1901.6 450.5C1901.2 452.2 1900.7 453.9 1900.3 455.5C1899.9 457.2 1899.4 458.9 1899.0 460.5C1898.6 462.2 1898.1 463.9 1897.7 465.6C1897.3 467.2 1896.8 468.9 1896.4 470.6C1896.0 472.2 1895.5 473.9 1895.1 475.6C1894.7 477.2 1894.2 478.9 1893.8 480.6C1893.4 482.3 1893.0 483.9 1892.5 485.6C1892.1 487.3 1891.7 488.9 1891.3 490.6C1890.9 492.3 1890.4 493.9 1890.0 495.6C1889.6 497.3 1889.2 499.0 1888.8 500.6C1888.4 502.3 1888.0 504.0 1887.6 505.6C1887.2 507.3 1886.7 509.0 1886.3 510.7C1885.9 512.3 1885.5 514.0 1885.1 515.7C1884.7 517.3 1884.3 519.0 1883.8 520.7C1883.4 522.3 1882.9 524.0 1882.5 525.7C1882.0 527.4 1881.6 529.0 1881.1 530.7C1880.6 532.4 1880.1 534.0 1879.6 535.7C1879.1 537.4 1878.6 539.1 1878.0 540.7C1877.5 542.4 1876.9 544.1 1876.3 545.7C1875.7 547.4 1875.1 549.1 1874.5 550.7C1873.8 552.4 1873.2 554.1 1872.5 555.8C1871.8 557.4 1871.1 559.1 1870.3 560.8C1869.6 562.4 1868.8 564.1 1868.0 565.8C1867.1 567.4 1866.3 569.1 1865.4 570.8C1864.5 572.5 1863.6 574.1 1862.6 575.8C1861.6 577.5 1860.6 579.1 1859.6 580.8C1858.5 582.5 1857.4 584.2 1856.3 585.8C1855.1 587.5 1854.0 589.2 1852.7 590.8C1851.5 592.5 1850.2 594.2 1848.9 595.8C1847.5 597.5 1846.1 599.2 1844.7 600.8C1843.3 602.5 1841.8 604.2 1840.2 605.9C1838.6 607.5 1837.0 609.2 1835.4 610.9C1833.7 612.6 1832.0 614.2 1830.2 615.9C1828.4 617.6 1826.6 619.2 1824.8 620.9C1822.9 622.6 1821.1 624.2 1819.2 625.9C1817.3 627.6 1815.3 629.2 1813.4 630.9C1811.5 632.6 1809.5 634.3 1807.6 635.9C1805.6 637.6 1803.7 639.3 1801.7 640.9C1799.8 642.6 1797.9 644.3 1795.9 645.9C1794.0 647.6 1792.1 649.3 1790.3 651.0C1788.4 652.6 1786.6 654.3 1784.8 656.0C1783.0 657.6 1781.2 659.3 1779.5 661.0C1777.8 662.6 1776.2 664.3 1774.6 666.0C1773.0 667.6 1771.5 669.3 1770.0 671.0C1768.5 672.7 1767.1 674.3 1765.8 676.0C1764.4 677.7 1763.1 679.3 1761.9 681.0C1760.7 682.7 1759.6 684.3 1758.5 686.0C1757.5 687.7 1756.5 689.4 1755.5 691.0C1754.6 692.7 1753.8 694.4 1753.0 696.1C1752.3 697.7 1751.6 699.4 1751.0 701.1C1750.4 702.7 1749.9 704.4 1749.5 706.1C1749.0 707.7 1748.7 709.4 1748.5 711.1C1748.2 712.8 1748.1 714.4 1748.0 716.1C1748.0 717.8 1748.0 719.4 1748.1 721.1C1748.3 722.8 1748.5 724.5 1748.9 726.1C1749.2 727.8 1749.6 729.5 1750.2 731.1C1750.7 732.8 1751.3 734.5 1752.1 736.1C1752.8 737.8 1753.6 739.5 1754.6 741.2C1755.5 742.8 1756.5 744.5 1757.7 746.2C1758.8 747.9 1760.0 749.5 1761.4 751.2C1762.7 752.9 1764.2 754.5 1765.7 756.2C1767.2 757.9 1768.9 759.6 1770.6 761.2C1772.4 762.9 1774.2 764.6 1776.1 766.2C1778.1 767.9 1780.2 769.6 1782.3 771.2C1784.5 772.9 1786.7 774.6 1789.1 776.2C1791.5 777.9 1793.9 779.6 1796.5 781.2C1799.1 782.9 1801.8 784.6 1804.5 786.3C1807.3 787.9 1810.2 789.6 1813.2 791.3C1816.2 793.0 1819.3 794.6 1822.5 796.3C1825.7 798.0 1829.1 799.6 1832.4 801.3C1835.9 803.0 1839.4 804.6 1843.0 806.3C1846.7 808.0 1850.5 809.7 1854.3 811.3C1858.2 813.0 1862.2 814.7 1866.2 816.3C1870.2 818.0 1874.4 819.7 1878.5 821.3C1882.7 823.0 1886.9 824.7 1891.1 826.3C1895.3 828.0 1899.5 829.7 1903.6 831.3C1907.8 833.0 1911.9 834.7 1916.0 836.4C1920.0 838.0 1924.0 839.7 1927.9 841.4C1931.7 843.0 1935.4 844.7 1939.0 846.4C1942.5 848.0 1946.0 849.7 1949.3 851.4C1952.4 853.0 1955.5 854.7 1958.4 856.4C1961.1 858.0 1963.7 859.7 1966.1 861.4C1968.3 863.0 1970.4 864.7 1972.4 866.4C1974.2 868.0 1975.9 869.7 1977.4 871.4C1978.8 873.1 1980.1 874.7 1981.2 876.4C1982.3 878.1 1983.2 879.8 1984.0 881.5C1984.8 883.1 1985.4 884.8 1985.9 886.5C1986.4 888.1 1986.7 889.8 1986.9 891.5C1987.2 893.1 1987.3 894.8 1987.3 896.5C1987.4 898.2 1987.2 899.8 1987.2 901.5C1987.2 903.2 1987.4 904.8 1987.3 906.5C1987.3 908.2 1987.2 909.9 1986.9 911.5C1986.7 913.2 1986.4 914.9 1985.9 916.5C1985.4 918.2 1984.8 919.9 1984.0 921.5C1983.2 923.2 1982.3 924.9 1981.2 926.6C1980.1 928.3 1978.8 929.9 1977.4 931.6C1975.9 933.3 1974.2 935.0 1972.4 936.6C1970.4 938.3 1968.3 940.0 1966.1 941.6C1963.7 943.3 1961.1 945.0 1958.4 946.6C1955.5 948.3 1952.4 950.0 1949.3 951.6C1946.0 953.3 1942.5 955.0 1939.0 956.6C1935.4 958.3 1931.7 960.0 1927.9 961.6C1924.0 963.3 1920.0 965.0 1916.0 966.6C1911.9 968.3 1907.8 970.0 1903.6 971.7C1899.5 973.3 1895.3 975.0 1891.1 976.7C1886.9 978.3 1882.7 980.0 1878.5 981.7C1874.4 983.3 1870.2 985.0 1866.2 986.7C1862.2 988.3 1858.2 990.0 1854.3 991.7C1850.5 993.3 1846.7 995.0 1843.0 996.7C1839.4 998.4 1835.9 1000.0 1832.4 1001.7C1829.1 1003.4 1825.7 1005.0 1822.5 1006.7C1819.3 1008.4 1816.2 1010.0 1813.2 1011.7C1810.2 1013.4 1807.3 1015.1 1804.5 1016.7C1801.8 1018.4 1799.1 1020.1 1796.5 1021.8C1793.9 1023.4 1791.5 1025.1 1789.1 1026.8C1786.7 1028.4 1784.5 1030.1 1782.3 1031.8C1780.2 1033.4 1778.1 1035.1 1776.1 1036.8C1774.2 1038.4 1772.4 1040.1 1770.6 1041.8C1768.9 1043.4 1767.2 1045.1 1765.7 1046.8C1764.2 1048.5 1762.7 1050.1 1761.4 1051.8C1760.0 1053.5 1758.8 1055.1 1757.7 1056.8C1756.5 1058.5 1755.5 1060.2 1754.6 1061.8C1753.6 1063.5 1752.8 1065.2 1752.1 1066.9C1751.3 1068.5 1750.7 1070.2 1750.2 1071.9C1749.6 1073.5 1749.2 1075.2 1748.9 1076.9C1748.5 1078.5 1748.3 1080.2 1748.1 1081.9C1748.0 1083.6 1748.0 1085.2 1748.0 1086.9C1748.1 1088.6 1748.2 1090.2 1748.5 1091.9C1748.7 1093.6 1749.0 1095.3 1749.5 1096.9C1749.9 1098.6 1750.4 1100.3 1751.0 1101.9C1751.6 1103.6 1752.3 1105.3 1753.0 1106.9C1753.8 1108.6 1754.6 1110.3 1755.5 1112.0C1756.5 1113.6 1757.5 1115.3 1758.5 1117.0C1759.6 1118.7 1760.7 1120.3 1761.9 1122.0C1763.1 1123.7 1764.4 1125.3 1765.8 1127.0C1767.1 1128.7 1768.5 1130.3 1770.0 1132.0C1771.5 1133.7 1773.0 1135.4 1774.6 1137.0C1776.2 1138.7 1777.8 1140.4 1779.5 1142.0C1781.2 1143.7 1783.0 1145.4 1784.8 1147.0C1786.6 1148.7 1788.4 1150.4 1790.3 1152.0C1792.1 1153.7 1794.0 1155.4 1795.9 1157.1C1797.9 1158.7 1799.8 1160.4 1801.7 1162.1C1803.7 1163.7 1805.6 1165.4 1807.6 1167.1C1809.5 1168.7 1811.5 1170.4 1813.4 1172.1C1815.3 1173.8 1817.3 1175.4 1819.2 1177.1C1821.1 1178.8 1822.9 1180.4 1824.8 1182.1C1826.6 1183.8 1828.4 1185.4 1830.2 1187.1C1832.0 1188.8 1833.7 1190.4 1835.4 1192.1C1837.0 1193.8 1838.6 1195.5 1840.2 1197.1C1841.8 1198.8 1843.3 1200.5 1844.7 1202.2C1846.1 1203.8 1847.5 1205.5 1848.9 1207.2C1850.2 1208.8 1851.5 1210.5 1852.7 1212.2C1854.0 1213.8 1855.1 1215.5 1856.3 1217.2C1857.4 1218.8 1858.5 1220.5 1859.6 1222.2C1860.6 1223.9 1861.6 1225.5 1862.6 1227.2C1863.6 1228.9 1864.5 1230.5 1865.4 1232.2C1866.3 1233.9 1867.1 1235.6 1868.0 1237.2C1868.8 1238.9 1869.6 1240.6 1870.3 1242.2C1871.1 1243.9 1871.8 1245.6 1872.5 1247.2C1873.2 1248.9 1873.8 1250.6 1874.5 1252.3C1875.1 1253.9 1875.7 1255.6 1876.3 1257.3C1876.9 1258.9 1877.5 1260.6 1878.0 1262.3C1878.6 1263.9 1879.1 1265.6 1879.6 1267.3C1880.1 1269.0 1880.6 1270.6 1881.1 1272.3C1881.6 1274.0 1882.0 1275.6 1882.5 1277.3C1882.9 1279.0 1883.4 1280.7 1883.8 1282.3C1884.3 1284.0 1884.7 1285.7 1885.1 1287.3C1885.5 1289.0 1885.9 1290.7 1886.3 1292.3C1886.7 1294.0 1887.2 1295.7 1887.6 1297.4C1888.0 1299.0 1888.4 1300.7 1888.8 1302.4C1889.2 1304.0 1889.6 1305.7 1890.0 1307.4C1890.4 1309.1 1890.9 1310.7 1891.3 1312.4C1891.7 1314.1 1892.1 1315.7 1892.5 1317.4C1893.0 1319.1 1893.4 1320.7 1893.8 1322.4C1894.2 1324.1 1894.7 1325.8 1895.1 1327.4C1895.5 1329.1 1896.0 1330.8 1896.4 1332.4C1896.8 1334.1 1897.3 1335.8 1897.7 1337.4C1898.1 1339.1 1898.6 1340.8 1899.0 1342.5C1899.4 1344.1 1899.9 1345.8 1900.3 1347.5C1900.7 1349.1 1901.2 1350.8 1901.6 1352.5C1902.0 1354.1 1902.5 1355.8 1902.9 1357.5C1903.3 1359.2 1903.7 1360.8 1904.2 1362.5C1904.6 1364.2 1905.0 1365.8 1905.5 1367.5C1905.9 1369.2 1906.3 1370.9 1906.7 1372.5C1907.2 1374.2 1907.6 1375.9 1908.0 1377.5C1908.4 1379.2 1908.8 1380.9 1909.3 1382.5C1909.7 1384.2 1910.1 1385.9 1910.5 1387.6C1910.9 1389.2 1911.3 1390.9 1911.7 1392.6C1912.1 1394.2 1912.6 1395.9 1913.0 1397.6C1913.4 1399.2 1913.8 1400.9 1914.1 1402.6C1914.5 1404.3 1914.9 1405.9 1915.3 1407.6C1915.7 1409.3 1916.1 1410.9 1916.5 1412.6C1916.9 1414.3 1917.2 1415.9 1917.6 1417.6C1918.0 1419.3 1918.3 1421.0 1918.7 1422.6C1919.1 1424.3 1919.4 1426.0 1919.8 1427.6C1920.1 1429.3 1920.5 1431.0 1920.8 1432.7C1921.2 1434.3 1921.5 1436.0 1921.8 1437.7C1922.2 1439.3 1922.5 1441.0 1922.8 1442.7C1923.1 1444.3 1923.5 1446.0 1923.8 1447.7C1924.1 1449.4 1924.4 1451.0 1924.7 1452.7C1925.0 1454.4 1925.3 1456.0 1925.5 1457.7C1925.8 1459.4 1926.1 1461.0 1926.4 1462.7C1926.6 1464.4 1926.9 1466.1 1927.1 1467.7C1927.4 1469.4 1927.6 1471.1 1927.8 1472.7C1928.1 1474.4 1928.3 1476.1 1928.5 1477.7C1928.7 1479.4 1928.9 1481.1 1929.1 1482.8C1929.3 1484.4 1929.5 1486.1 1929.6 1487.8C1929.8 1489.4 1929.9 1491.1 1930.1 1492.8C1930.2 1494.5 1930.4 1496.1 1930.5 1497.8C1930.6 1499.5 1930.7 1501.1 1930.8 1502.8C1930.9 1504.5 1931.0 1506.1 1931.0 1507.8C1931.1 1509.5 1931.1 1511.2 1931.2 1512.8C1931.2 1514.5 1931.2 1516.2 1931.2 1517.8C1931.2 1519.5 1931.2 1521.2 1931.2 1522.8C1931.2 1524.5 1931.1 1526.2 1931.0 1527.9C1931.0 1529.5 1930.9 1531.2 1930.8 1532.9C1930.7 1534.5 1930.6 1536.2 1930.5 1537.9C1930.3 1539.5 1930.2 1541.2 1930.0 1542.9C1929.9 1544.6 1929.7 1546.2 1929.5 1547.9C1929.3 1549.6 1929.1 1551.2 1928.8 1552.9C1928.6 1554.6 1928.3 1556.3 1928.0 1557.9C1927.7 1559.6 1927.4 1561.3 1927.1 1562.9C1926.8 1564.6 1926.4 1566.3 1926.1 1567.9C1925.7 1569.6 1925.3 1571.3 1924.9 1573.0C1924.5 1574.6 1924.1 1576.3 1923.6 1578.0C1923.1 1579.6 1922.7 1581.3 1922.2 1583.0C1921.6 1584.7 1921.1 1586.3 1920.5 1588.0C1920.0 1589.7 1919.4 1591.3 1918.8 1593.0C1918.2 1594.7 1917.5 1596.3 1916.8 1598.0C1916.1 1599.7 1915.4 1601.4 1914.7 1603.0C1913.9 1604.7 1913.2 1606.4 1912.3 1608.0C1911.5 1609.7 1910.7 1611.4 1909.8 1613.0C1908.9 1614.7 1908.0 1616.4 1907.0 1618.1C1906.1 1619.7 1905.1 1621.4 1904.0 1623.1C1903.0 1624.7 1901.9 1626.4 1900.8 1628.1C1899.6 1629.8 1898.3 1631.5 1896.9 1633.1C1895.3 1634.8 1893.7 1636.5 1891.8 1638.1C1889.7 1639.8 1887.5 1641.5 1884.9 1643.1C1882.2 1644.9 1879.1 1646.5 1875.8 1648.1C1872.0 1649.9 1868.0 1651.5 1863.6 1653.1C1858.8 1654.9 1853.6 1656.5 1848.0 1658.1C1841.9 1659.9 1834.9 1661.5 1828.4 1663.2" stroke="#000000" stroke-width="7.2" fill="none" stroke-linecap="round" stroke-linejoin="round"/><path d="M1828.3 139.8C1835.7 141.5 1843.5 143.1 1850.3 144.9C1856.4 146.4 1862.2 148.1 1867.5 149.9C1872.1 151.5 1876.5 153.1 1880.5 154.9C1884.0 156.5 1887.3 158.1 1890.2 159.9C1892.9 161.5 1895.3 163.1 1897.4 164.9C1899.3 166.5 1901.0 168.2 1902.5 169.9C1903.8 171.5 1904.9 173.2 1905.7 174.9C1906.6 176.6 1907.2 178.2 1907.6 179.9C1908.0 181.6 1908.3 183.3 1908.4 184.9C1908.6 186.6 1908.5 188.3 1908.5 190.0C1908.5 191.6 1908.3 193.3 1908.2 195.0C1908.1 196.6 1908.0 198.3 1907.9 200.0C1907.7 201.6 1907.6 203.3 1907.5 205.0C1907.4 206.7 1907.3 208.3 1907.2 210.0C1907.1 211.7 1907.0 213.3 1907.0 215.0C1906.9 216.7 1906.8 218.4 1906.7 220.0C1906.6 221.7 1906.5 223.4 1906.5 225.0C1906.4 226.7 1906.3 228.4 1906.2 230.0C1906.2 231.7 1906.1 233.4 1906.0 235.1C1906.0 236.7 1905.9 238.4 1905.8 240.1C1905.8 241.7 1905.7 243.4 1905.7 245.1C1905.6 246.7 1905.5 248.4 1905.5 250.1C1905.4 251.8 1905.4 253.4 1905.3 255.1C1905.3 256.8 1905.2 258.4 1905.2 260.1C1905.1 261.8 1905.1 263.5 1905.0 265.1C1904.9 266.8 1904.9 268.5 1904.8 270.1C1904.8 271.8 1904.7 273.5 1904.7 275.1C1904.6 276.8 1904.6 278.5 1904.5 280.2C1904.5 281.8 1904.4 283.5 1904.4 285.2C1904.3 286.8 1904.3 288.5 1904.2 290.2C1904.2 291.8 1904.1 293.5 1904.1 295.2C1904.0 296.9 1904.0 298.5 1903.9 300.2C1903.8 301.9 1903.8 303.5 1903.7 305.2C1903.7 306.9 1903.6 308.5 1903.6 310.2C1903.5 311.9 1903.4 313.6 1903.4 315.2C1903.3 316.9 1903.2 318.6 1903.2 320.2C1903.1 321.9 1903.0 323.6 1903.0 325.3C1902.9 326.9 1902.8 328.6 1902.8 330.3C1902.7 331.9 1902.6 333.6 1902.6 335.3C1902.5 336.9 1902.4 338.6 1902.4 340.3C1902.3 342.0 1902.2 343.6 1902.1 345.3C1902.0 347.0 1902.0 348.6 1901.9 350.3C1901.8 352.0 1901.7 353.6 1901.6 355.3C1901.6 357.0 1901.5 358.7 1901.4 360.3C1901.3 362.0 1901.2 363.7 1901.1 365.3C1901.0 367.0 1900.9 368.7 1900.9 370.3C1900.8 372.0 1900.7 373.7 1900.6 375.4C1900.5 377.0 1900.4 378.7 1900.3 380.4C1900.2 382.0 1900.1 383.7 1900.0 385.4C1899.9 387.1 1899.8 388.7 1899.7 390.4C1899.5 392.1 1899.4 393.7 1899.3 395.4C1899.2 397.1 1899.1 398.7 1899.0 400.4C1898.9 402.1 1898.8 403.8 1898.6 405.4C1898.5 407.1 1898.4 408.8 1898.3 410.4C1898.1 412.1 1898.0 413.8 1897.9 415.4C1897.8 417.1 1897.6 418.8 1897.5 420.5C1897.4 422.1 1897.2 423.8 1897.1 425.5C1896.9 427.1 1896.8 428.8 1896.7 430.5C1896.5 432.1 1896.4 433.8 1896.2 435.5C1896.1 437.2 1895.9 438.8 1895.8 440.5C1895.6 442.2 1895.4 443.8 1895.3 445.5C1895.1 447.2 1895.0 448.9 1894.8 450.5C1894.6 452.2 1894.5 453.9 1894.3 455.5C1894.1 457.2 1894.0 458.9 1893.8 460.5C1893.6 462.2 1893.4 463.9 1893.2 465.6C1893.1 467.2 1892.9 468.9 1892.7 470.6C1892.5 472.2 1892.3 473.9 1892.1 475.6C1891.9 477.2 1891.7 478.9 1891.5 480.6C1891.3 482.3 1891.1 483.9 1890.9 485.6C1890.7 487.3 1890.5 488.9 1890.3 490.6C1890.1 492.3 1889.8 494.0 1889.6 495.6C1889.4 497.3 1889.2 499.0 1888.9 500.6C1888.7 502.3 1888.5 504.0 1888.3 505.6C1888.0 507.3 1887.8 509.0 1887.5 510.7C1887.3 512.3 1887.1 514.0 1886.8 515.7C1886.6 517.3 1886.3 519.0 1886.0 520.7C1885.8 522.3 1885.5 524.0 1885.3 525.7C1885.0 527.4 1884.7 529.0 1884.5 530.7C1884.2 532.4 1883.9 534.0 1883.6 535.7C1883.4 537.4 1883.1 539.0 1882.8 540.7C1882.5 542.4 1882.2 544.1 1881.9 545.7C1881.6 547.4 1881.3 549.1 1881.0 550.7C1880.7 552.4 1880.4 554.1 1880.1 555.8C1879.8 557.4 1879.5 559.1 1879.2 560.8C1878.8 562.4 1878.5 564.1 1878.2 565.8C1877.9 567.4 1877.5 569.1 1877.2 570.8C1876.9 572.5 1876.5 574.1 1876.2 575.8C1875.8 577.5 1875.5 579.1 1875.1 580.8C1874.8 582.5 1874.4 584.1 1874.1 585.8C1873.7 587.5 1873.3 589.2 1873.0 590.8C1872.6 592.5 1872.2 594.2 1871.9 595.8C1871.5 597.5 1871.1 599.2 1870.7 600.8C1870.4 602.5 1870.0 604.2 1869.6 605.9C1869.2 607.5 1868.8 609.2 1868.4 610.9C1868.0 612.5 1867.6 614.2 1867.2 615.9C1866.8 617.6 1866.4 619.2 1866.0 620.9C1865.6 622.6 1865.2 624.2 1864.8 625.9C1864.4 627.6 1864.0 629.2 1863.6 630.9C1863.2 632.6 1862.8 634.3 1862.4 635.9C1862.0 637.6 1861.5 639.3 1861.1 640.9C1860.7 642.6 1860.3 644.3 1859.9 645.9C1859.5 647.6 1859.0 649.3 1858.6 651.0C1858.2 652.6 1857.8 654.3 1857.3 656.0C1856.9 657.6 1856.5 659.3 1856.0 661.0C1855.6 662.6 1855.2 664.3 1854.8 666.0C1854.3 667.7 1853.9 669.3 1853.5 671.0C1853.0 672.7 1852.6 674.3 1852.2 676.0C1851.7 677.7 1851.3 679.4 1850.9 681.0C1850.4 682.7 1850.0 684.4 1849.6 686.0C1849.1 687.7 1848.7 689.4 1848.3 691.0C1847.8 692.7 1847.4 694.4 1847.0 696.1C1846.6 697.7 1846.1 699.4 1845.7 701.1C1845.3 702.7 1844.8 704.4 1844.4 706.1C1844.0 707.7 1843.5 709.4 1843.1 711.1C1842.7 712.8 1842.2 714.4 1841.8 716.1C1841.4 717.8 1841.0 719.4 1840.5 721.1C1840.1 722.8 1839.7 724.4 1839.3 726.1C1838.8 727.8 1838.4 729.5 1838.0 731.1C1837.6 732.8 1837.2 734.5 1836.8 736.1C1836.3 737.8 1835.9 739.5 1835.5 741.2C1835.1 742.8 1834.7 744.5 1834.3 746.2C1833.9 747.8 1833.5 749.5 1833.1 751.2C1832.7 752.8 1832.3 754.5 1831.9 756.2C1831.5 757.9 1831.1 759.5 1830.7 761.2C1830.3 762.9 1829.9 764.5 1829.5 766.2C1829.1 767.9 1828.7 769.5 1828.3 771.2C1827.9 772.9 1827.6 774.6 1827.2 776.2C1826.8 777.9 1826.4 779.6 1826.1 781.2C1825.7 782.9 1825.3 784.6 1825.0 786.3C1824.6 787.9 1824.3 789.6 1823.9 791.3C1823.5 792.9 1823.2 794.6 1822.9 796.3C1822.5 797.9 1822.2 799.6 1821.9 801.3C1821.5 803.0 1821.2 804.6 1820.9 806.3C1820.6 808.0 1820.3 809.6 1820.0 811.3C1819.7 813.0 1819.4 814.6 1819.1 816.3C1818.8 818.0 1818.5 819.7 1818.2 821.3C1818.0 823.0 1817.7 824.7 1817.5 826.3C1817.2 828.0 1817.0 829.7 1816.7 831.3C1816.5 833.0 1816.3 834.7 1816.1 836.4C1815.9 838.0 1815.7 839.7 1815.5 841.4C1815.3 843.0 1815.1 844.7 1814.9 846.4C1814.8 848.1 1814.6 849.7 1814.5 851.4C1814.3 853.1 1814.2 854.7 1814.1 856.4C1814.0 858.1 1813.9 859.7 1813.8 861.4C1813.7 863.1 1813.6 864.8 1813.6 866.4C1813.5 868.1 1813.4 869.8 1813.4 871.4C1813.4 873.1 1813.4 874.8 1813.4 876.4C1813.4 878.1 1813.4 879.8 1813.4 881.5C1813.4 883.1 1813.5 884.8 1813.5 886.5C1813.6 888.1 1813.7 889.8 1813.8 891.5C1813.9 893.1 1814.0 894.8 1814.1 896.5C1814.2 898.2 1814.4 899.8 1814.4 901.5C1814.4 903.2 1814.2 904.8 1814.1 906.5C1814.0 908.2 1813.9 909.9 1813.8 911.5C1813.7 913.2 1813.6 914.9 1813.5 916.5C1813.5 918.2 1813.4 919.9 1813.4 921.5C1813.4 923.2 1813.4 924.9 1813.4 926.6C1813.4 928.2 1813.4 929.9 1813.4 931.6C1813.4 933.2 1813.5 934.9 1813.6 936.6C1813.6 938.2 1813.7 939.9 1813.8 941.6C1813.9 943.3 1814.0 944.9 1814.1 946.6C1814.2 948.3 1814.3 949.9 1814.5 951.6C1814.6 953.3 1814.8 954.9 1814.9 956.6C1815.1 958.3 1815.3 960.0 1815.5 961.6C1815.7 963.3 1815.9 965.0 1816.1 966.6C1816.3 968.3 1816.5 970.0 1816.7 971.7C1817.0 973.3 1817.2 975.0 1817.5 976.7C1817.7 978.3 1818.0 980.0 1818.2 981.7C1818.5 983.3 1818.8 985.0 1819.1 986.7C1819.4 988.4 1819.7 990.0 1820.0 991.7C1820.3 993.4 1820.6 995.0 1820.9 996.7C1821.2 998.4 1821.5 1000.0 1821.9 1001.7C1822.2 1003.4 1822.5 1005.1 1822.9 1006.7C1823.2 1008.4 1823.5 1010.1 1823.9 1011.7C1824.3 1013.4 1824.6 1015.1 1825.0 1016.7C1825.3 1018.4 1825.7 1020.1 1826.1 1021.8C1826.4 1023.4 1826.8 1025.1 1827.2 1026.8C1827.6 1028.4 1827.9 1030.1 1828.3 1031.8C1828.7 1033.5 1829.1 1035.1 1829.5 1036.8C1829.9 1038.5 1830.3 1040.1 1830.7 1041.8C1831.1 1043.5 1831.5 1045.1 1831.9 1046.8C1832.3 1048.5 1832.7 1050.2 1833.1 1051.8C1833.5 1053.5 1833.9 1055.2 1834.3 1056.8C1834.7 1058.5 1835.1 1060.2 1835.5 1061.8C1835.9 1063.5 1836.3 1065.2 1836.8 1066.9C1837.2 1068.5 1837.6 1070.2 1838.0 1071.9C1838.4 1073.5 1838.8 1075.2 1839.3 1076.9C1839.7 1078.6 1840.1 1080.2 1840.5 1081.9C1841.0 1083.6 1841.4 1085.2 1841.8 1086.9C1842.2 1088.6 1842.7 1090.2 1843.1 1091.9C1843.5 1093.6 1844.0 1095.3 1844.4 1096.9C1844.8 1098.6 1845.3 1100.3 1845.7 1101.9C1846.1 1103.6 1846.6 1105.3 1847.0 1106.9C1847.4 1108.6 1847.8 1110.3 1848.3 1112.0C1848.7 1113.6 1849.1 1115.3 1849.6 1117.0C1850.0 1118.6 1850.4 1120.3 1850.9 1122.0C1851.3 1123.6 1851.7 1125.3 1852.2 1127.0C1852.6 1128.7 1853.0 1130.3 1853.5 1132.0C1853.9 1133.7 1854.3 1135.3 1854.8 1137.0C1855.2 1138.7 1855.6 1140.4 1856.0 1142.0C1856.5 1143.7 1856.9 1145.4 1857.3 1147.0C1857.8 1148.7 1858.2 1150.4 1858.6 1152.0C1859.0 1153.7 1859.5 1155.4 1859.9 1157.1C1860.3 1158.7 1860.7 1160.4 1861.1 1162.1C1861.5 1163.7 1862.0 1165.4 1862.4 1167.1C1862.8 1168.7 1863.2 1170.4 1863.6 1172.1C1864.0 1173.8 1864.4 1175.4 1864.8 1177.1C1865.2 1178.8 1865.6 1180.4 1866.0 1182.1C1866.4 1183.8 1866.8 1185.4 1867.2 1187.1C1867.6 1188.8 1868.0 1190.5 1868.4 1192.1C1868.8 1193.8 1869.2 1195.5 1869.6 1197.1C1870.0 1198.8 1870.4 1200.5 1870.7 1202.2C1871.1 1203.8 1871.5 1205.5 1871.9 1207.2C1872.2 1208.8 1872.6 1210.5 1873.0 1212.2C1873.3 1213.8 1873.7 1215.5 1874.1 1217.2C1874.4 1218.9 1874.8 1220.5 1875.1 1222.2C1875.5 1223.9 1875.8 1225.5 1876.2 1227.2C1876.5 1228.9 1876.9 1230.5 1877.2 1232.2C1877.5 1233.9 1877.9 1235.6 1878.2 1237.2C1878.5 1238.9 1878.8 1240.6 1879.2 1242.2C1879.5 1243.9 1879.8 1245.6 1880.1 1247.2C1880.4 1248.9 1880.7 1250.6 1881.0 1252.3C1881.3 1253.9 1881.6 1255.6 1881.9 1257.3C1882.2 1258.9 1882.5 1260.6 1882.8 1262.3C1883.1 1264.0 1883.4 1265.6 1883.6 1267.3C1883.9 1269.0 1884.2 1270.6 1884.5 1272.3C1884.7 1274.0 1885.0 1275.6 1885.3 1277.3C1885.5 1279.0 1885.8 1280.7 1886.0 1282.3C1886.3 1284.0 1886.6 1285.7 1886.8 1287.3C1887.1 1289.0 1887.3 1290.7 1887.5 1292.3C1887.8 1294.0 1888.0 1295.7 1888.3 1297.4C1888.5 1299.0 1888.7 1300.7 1888.9 1302.4C1889.2 1304.0 1889.4 1305.7 1889.6 1307.4C1889.8 1309.0 1890.1 1310.7 1890.3 1312.4C1890.5 1314.1 1890.7 1315.7 1890.9 1317.4C1891.1 1319.1 1891.3 1320.7 1891.5 1322.4C1891.7 1324.1 1891.9 1325.8 1892.1 1327.4C1892.3 1329.1 1892.5 1330.8 1892.7 1332.4C1892.9 1334.1 1893.1 1335.8 1893.2 1337.4C1893.4 1339.1 1893.6 1340.8 1893.8 1342.5C1894.0 1344.1 1894.1 1345.8 1894.3 1347.5C1894.5 1349.1 1894.6 1350.8 1894.8 1352.5C1895.0 1354.1 1895.1 1355.8 1895.3 1357.5C1895.4 1359.2 1895.6 1360.8 1895.8 1362.5C1895.9 1364.2 1896.1 1365.8 1896.2 1367.5C1896.4 1369.2 1896.5 1370.9 1896.7 1372.5C1896.8 1374.2 1896.9 1375.9 1897.1 1377.5C1897.2 1379.2 1897.4 1380.9 1897.5 1382.5C1897.6 1384.2 1897.8 1385.9 1897.9 1387.6C1898.0 1389.2 1898.1 1390.9 1898.3 1392.6C1898.4 1394.2 1898.5 1395.9 1898.6 1397.6C1898.8 1399.2 1898.9 1400.9 1899.0 1402.6C1899.1 1404.3 1899.2 1405.9 1899.3 1407.6C1899.4 1409.3 1899.5 1410.9 1899.7 1412.6C1899.8 1414.3 1899.9 1415.9 1900.0 1417.6C1900.1 1419.3 1900.2 1421.0 1900.3 1422.6C1900.4 1424.3 1900.5 1426.0 1900.6 1427.6C1900.7 1429.3 1900.8 1431.0 1900.9 1432.7C1900.9 1434.3 1901.0 1436.0 1901.1 1437.7C1901.2 1439.3 1901.3 1441.0 1901.4 1442.7C1901.5 1444.3 1901.6 1446.0 1901.6 1447.7C1901.7 1449.4 1901.8 1451.0 1901.9 1452.7C1902.0 1454.4 1902.0 1456.0 1902.1 1457.7C1902.2 1459.4 1902.3 1461.0 1902.4 1462.7C1902.4 1464.4 1902.5 1466.1 1902.6 1467.7C1902.6 1469.4 1902.7 1471.1 1902.8 1472.7C1902.8 1474.4 1902.9 1476.1 1903.0 1477.7C1903.0 1479.4 1903.1 1481.1 1903.2 1482.8C1903.2 1484.4 1903.3 1486.1 1903.4 1487.8C1903.4 1489.4 1903.5 1491.1 1903.6 1492.8C1903.6 1494.5 1903.7 1496.1 1903.7 1497.8C1903.8 1499.5 1903.8 1501.1 1903.9 1502.8C1904.0 1504.5 1904.0 1506.1 1904.1 1507.8C1904.1 1509.5 1904.2 1511.2 1904.2 1512.8C1904.3 1514.5 1904.3 1516.2 1904.4 1517.8C1904.4 1519.5 1904.5 1521.2 1904.5 1522.8C1904.6 1524.5 1904.6 1526.2 1904.7 1527.9C1904.7 1529.5 1904.8 1531.2 1904.8 1532.9C1904.9 1534.5 1904.9 1536.2 1905.0 1537.9C1905.1 1539.5 1905.1 1541.2 1905.2 1542.9C1905.2 1544.6 1905.3 1546.2 1905.3 1547.9C1905.4 1549.6 1905.4 1551.2 1905.5 1552.9C1905.5 1554.6 1905.6 1556.3 1905.7 1557.9C1905.7 1559.6 1905.8 1561.3 1905.8 1562.9C1905.9 1564.6 1906.0 1566.3 1906.0 1567.9C1906.1 1569.6 1906.2 1571.3 1906.2 1573.0C1906.3 1574.6 1906.4 1576.3 1906.5 1578.0C1906.5 1579.6 1906.6 1581.3 1906.7 1583.0C1906.8 1584.6 1906.9 1586.3 1907.0 1588.0C1907.0 1589.7 1907.1 1591.3 1907.2 1593.0C1907.3 1594.7 1907.4 1596.3 1907.5 1598.0C1907.6 1599.7 1907.7 1601.4 1907.9 1603.0C1908.0 1604.7 1908.1 1606.4 1908.2 1608.0C1908.3 1609.7 1908.5 1611.4 1908.5 1613.0C1908.5 1614.7 1908.6 1616.4 1908.4 1618.1C1908.3 1619.7 1908.0 1621.4 1907.6 1623.1C1907.2 1624.8 1906.6 1626.4 1905.7 1628.1C1904.9 1629.8 1903.8 1631.5 1902.5 1633.1C1901.0 1634.8 1899.3 1636.5 1897.4 1638.1C1895.3 1639.9 1892.9 1641.5 1890.2 1643.1C1887.3 1644.9 1884.0 1646.5 1880.5 1648.1C1876.5 1649.9 1872.1 1651.5 1867.5 1653.1C1862.2 1654.9 1856.4 1656.6 1850.3 1658.1C1843.5 1659.9 1835.7 1661.5 1828.3 1663.2" stroke="#0000ff" stroke-width="7.2" fill="none" stroke-linecap="round" stroke-linejoin="round"/><path d="M1828.3 139.8L1880.9 156.3L1889.6 177.1L1894.0 213.2L1898.4 239.4L1903.9 278.8L1906.0 309.5L1905.6 348.9L1905.0 379.5L1901.7 416.7L1898.4 448.8L1895.1 488.2L1890.7 517.7L1886.3 553.9L1882.0 584.5L1875.4 618.4L1875.4 619.7L1869.9 641.6L1860.1 685.4L1854.6 705.1L1843.7 744.5L1838.2 768.5L1828.3 803.6L1822.9 827.6L1821.8 845.1L1822.9 864.8L1827.3 891.1L1829.4 901.4L1827.3 911.9L1822.9 938.2L1821.8 957.9L1822.9 975.4L1828.3 999.4L1838.2 1034.5L1843.7 1058.5L1854.6 1097.9L1860.1 1117.6L1869.9 1161.4L1875.4 1183.3L1875.4 1184.6L1882.0 1218.5L1886.3 1249.1L1890.7 1285.3L1895.1 1314.8L1898.4 1354.2L1901.7 1386.3L1905.0 1423.5L1905.6 1454.1L1906.0 1493.5L1903.9 1524.2L1898.4 1563.6L1894.0 1589.8L1889.6 1625.9L1880.9 1646.7L1828.3 1663.2" stroke="#ff8000" stroke-width="7.2" fill="none" stroke-linecap="round" stroke-linejoin="round" stroke-dasharray="25 41"/><path d="M1828.3 139.8L1849.1 143.1L1886.3 158.5L1898.4 173.8L1901.7 214.3L1902.8 243.8L1901.7 281.0L1901.7 313.9L1898.4 351.1L1895.1 392.7L1892.9 453.2L1888.5 486.0L1885.3 523.2L1882.0 556.0L1875.4 599.8L1871.0 639.4L1863.4 674.4L1856.8 708.3L1851.3 733.5L1843.7 769.6L1837.1 799.2L1830.5 833.1L1829.4 862.7L1830.5 901.4L1829.4 940.3L1830.5 969.9L1837.1 1003.8L1843.7 1033.4L1851.3 1069.5L1856.8 1094.7L1863.4 1128.6L1871.0 1163.6L1875.4 1203.2L1882.0 1247.0L1885.3 1279.8L1888.5 1317.0L1892.9 1349.8L1895.1 1410.3L1898.4 1451.9L1901.7 1489.1L1901.7 1522.0L1902.8 1559.2L1901.7 1588.7L1898.4 1629.2L1886.3 1644.5L1849.1 1659.9L1828.3 1663.2" stroke="#ff00ff" stroke-width="7.2" fill="none" stroke-linecap="round" stroke-linejoin="round" stroke-dasharray="25 41"/><path d="M1811.3 139.2h34M1828.3 122.2v34M1880.3 154.7h34M1897.3 137.7v34M1884.7 170.3h34M1901.7 153.3v34M1886.9 193.9h34M1903.9 176.9v34M1888.0 217.6h34M1905.0 200.6v34M1888.6 241.0h34M1905.6 224.0v34M1888.6 264.6h34M1905.6 247.6v34M1888.0 288.0h34M1905.0 271.0v34M1886.9 311.7h34M1903.9 294.7v34M1885.8 335.3h34M1902.8 318.3v34M1884.2 359.2h34M1901.2 342.2v34M1882.9 382.8h34M1899.9 365.8v34M1880.7 406.4h34M1897.7 389.4v34M1875.9 453.2h34M1892.9 436.2v34M1873.3 476.8h34M1890.3 459.8v34M1870.4 500.2h34M1887.4 483.2v34M1867.2 523.9h34M1884.2 506.9v34M1863.9 547.3h34M1880.9 530.3v34M1859.5 570.9h34M1876.5 553.9v34M1855.6 594.8h34M1872.6 577.8v34M1851.2 618.4h34M1868.2 601.4v34M1846.4 642.0h34M1863.4 625.0v34M1840.2 665.7h34M1857.2 648.7v34M1834.3 689.7h34M1851.3 672.7v34M1828.2 713.4h34M1845.2 696.4v34M1821.6 737.0h34M1838.6 720.0v34M1815.1 760.2h34M1832.1 743.2v34M1808.1 783.4h34M1825.1 766.4v34M1801.9 806.8h34M1818.9 789.8v34M1796.7 830.3h34M1813.7 813.3v34M1792.3 854.6h34M1809.3 837.6v34M1796.0 878.0h34M1813.0 861.0v34M1796.0 901.4h34M1813.0 884.4v34M1796.0 925.0h34M1813.0 908.0v34M1792.3 948.4h34M1809.3 931.4v34M1796.7 972.7h34M1813.7 955.7v34M1808.1 1019.6h34M1825.1 1002.6v34M1815.1 1042.8h34M1832.1 1025.8v34M1821.6 1066.0h34M1838.6 1049.0v34M1828.2 1089.6h34M1845.2 1072.6v34M1834.3 1113.3h34M1851.3 1096.3v34M1840.2 1137.3h34M1857.2 1120.3v34M1846.4 1161.0h34M1863.4 1144.0v34M1851.2 1184.6h34M1868.2 1167.6v34M1855.6 1208.2h34M1872.6 1191.2v34M1859.5 1232.1h34M1876.5 1215.1v34M1863.9 1255.7h34M1880.9 1238.7v34M1867.2 1279.1h34M1884.2 1262.1v34M1870.4 1302.8h34M1887.4 1285.8v34M1873.3 1326.2h34M1890.3 1309.2v34M1875.9 1349.8h34M1892.9 1332.8v34M1880.7 1396.6h34M1897.7 1379.6v34M1882.9 1420.2h34M1899.9 1403.2v34M1884.2 1443.8h34M1901.2 1426.8v34M1885.8 1467.7h34M1902.8 1450.7v34M1886.9 1491.3h34M1903.9 1474.3v34M1888.0 1515.0h34M1905.0 1498.0v34M1888.6 1538.4h34M1905.6 1521.4v34M1888.6 1562.0h34M1905.6 1545.0v34M1888.0 1585.4h34M1905.0 1568.4v34M1886.9 1609.1h34M1903.9 1592.1v34M1884.7 1632.7h34M1901.7 1615.7v34M1880.3 1648.3h34M1897.3 1631.3v34M1811.3 1663.8h34M1828.3 1646.8v34" stroke="#f00" stroke-width="2.0" fill="none"/><circle cx="1815.5" cy="994.0" r="9.5" fill="#b8b8f0" fill-opacity="0.6" stroke="#f00" stroke-opacity="0.6" stroke-width="1"/><path d="M347.0 2286.7C385.4 2288.3 433.1 2289.4 462.3 2291.7C480.2 2293.1 492.9 2294.8 505.7 2296.7C516.0 2298.2 526.1 2299.6 533.5 2301.7C538.8 2303.2 543.8 2304.5 546.6 2306.7C548.4 2308.2 549.5 2310.0 549.9 2311.8C550.2 2313.4 549.5 2315.1 548.9 2316.8C548.3 2318.5 547.3 2320.1 546.4 2321.8C545.4 2323.5 544.4 2325.1 543.4 2326.8C542.5 2328.5 541.6 2330.1 540.8 2331.8C540.0 2333.5 539.2 2335.2 538.5 2336.8C537.8 2338.5 537.1 2340.2 536.5 2341.9C535.8 2343.5 535.2 2345.2 534.7 2346.9C534.2 2348.5 533.7 2350.2 533.2 2351.9C532.8 2353.6 532.3 2355.2 532.0 2356.9C531.6 2358.6 531.3 2360.3 531.0 2361.9C530.7 2363.6 530.4 2365.3 530.2 2367.0C530.0 2368.6 529.8 2370.3 529.6 2372.0C529.5 2373.6 529.3 2375.3 529.2 2377.0C529.1 2378.7 529.1 2380.3 529.1 2382.0C529.0 2383.7 529.0 2385.4 529.0 2387.0C529.1 2388.7 529.1 2390.4 529.2 2392.0C529.2 2393.7 529.3 2395.4 529.5 2397.1C529.6 2398.7 529.7 2400.4 529.9 2402.1C530.0 2403.8 530.2 2405.4 530.4 2407.1C530.6 2408.8 530.8 2410.4 531.1 2412.1C531.3 2413.8 531.5 2415.5 531.8 2417.1C532.0 2418.8 532.3 2420.5 532.6 2422.2C532.9 2423.8 533.2 2425.5 533.5 2427.2C533.8 2428.8 534.1 2430.5 534.4 2432.2C534.7 2433.9 535.0 2435.5 535.3 2437.2C535.7 2438.9 536.0 2440.6 536.3 2442.2C536.7 2443.9 537.0 2445.6 537.3 2447.2C537.7 2448.9 538.0 2450.6 538.3 2452.3C538.7 2453.9 539.0 2455.6 539.4 2457.3C539.7 2459.0 540.1 2460.6 540.5 2462.3C540.8 2464.0 541.2 2465.6 541.5 2467.3C541.9 2469.0 542.3 2470.7 542.7 2472.3C543.0 2474.0 543.4 2475.7 543.8 2477.4C544.2 2479.0 544.6 2480.7 545.0 2482.4C545.4 2484.0 545.8 2485.7 546.2 2487.4C546.6 2489.1 547.0 2490.7 547.4 2492.4C547.8 2494.1 548.2 2495.8 548.6 2497.4C549.0 2499.1 549.5 2500.8 549.9 2502.4C550.3 2504.1 550.8 2505.8 551.2 2507.5C551.6 2509.1 552.1 2510.8 552.5 2512.5C553.0 2514.2 553.5 2515.8 553.9 2517.5C554.4 2519.2 554.9 2520.8 555.3 2522.5C555.8 2524.2 556.3 2525.9 556.8 2527.5C557.3 2529.2 557.8 2530.9 558.3 2532.6C558.8 2534.2 559.3 2535.9 559.8 2537.6C560.3 2539.2 560.8 2540.9 561.3 2542.6C561.8 2544.3 562.4 2545.9 562.9 2547.6C563.5 2549.3 564.0 2551.0 564.6 2552.6C565.1 2554.3 565.7 2556.0 566.2 2557.6C566.8 2559.3 567.4 2561.0 567.9 2562.7C568.5 2564.3 569.1 2566.0 569.7 2567.7C570.3 2569.4 570.9 2571.0 571.5 2572.7C572.1 2574.4 572.7 2576.1 573.4 2577.7C574.0 2579.4 574.7 2581.1 575.3 2582.7C576.0 2584.4 576.7 2586.1 577.4 2587.8C578.1 2589.4 578.8 2591.1 579.5 2592.8C580.2 2594.5 581.0 2596.1 581.8 2597.8C582.5 2599.5 583.3 2601.1 584.1 2602.8C585.0 2604.5 585.8 2606.2 586.7 2607.8C587.5 2609.5 588.4 2611.2 589.3 2612.8C590.3 2614.5 591.2 2616.2 592.2 2617.9C593.2 2619.5 594.2 2621.2 595.2 2622.9C596.2 2624.6 597.3 2626.2 598.4 2627.9C599.5 2629.6 600.7 2631.3 601.8 2632.9C603.0 2634.6 604.2 2636.3 605.5 2637.9C606.8 2639.6 608.0 2641.3 609.4 2643.0C610.7 2644.6 612.1 2646.3 613.5 2648.0C614.9 2649.7 616.3 2651.3 617.8 2653.0C619.3 2654.7 620.8 2656.3 622.4 2658.0C623.9 2659.7 625.5 2661.4 627.2 2663.0C628.8 2664.7 630.5 2666.4 632.2 2668.0C633.9 2669.7 635.6 2671.4 637.4 2673.1C639.2 2674.7 641.0 2676.4 642.8 2678.1C644.7 2679.8 646.6 2681.4 648.5 2683.1C650.4 2684.8 652.3 2686.5 654.3 2688.1C656.3 2689.8 658.3 2691.5 660.4 2693.1C662.4 2694.8 664.5 2696.5 666.6 2698.2C668.7 2699.8 670.9 2701.5 673.1 2703.2C675.3 2704.9 677.5 2706.5 679.7 2708.2C681.9 2709.9 684.1 2711.5 686.3 2713.2C688.5 2714.9 690.8 2716.6 692.9 2718.2C695.1 2719.9 697.3 2721.6 699.4 2723.3C701.5 2724.9 703.6 2726.6 705.7 2728.3C707.7 2729.9 709.6 2731.6 711.5 2733.3C713.4 2734.9 715.3 2736.6 717.0 2738.3C718.7 2740.0 720.4 2741.6 721.9 2743.3C723.4 2745.0 724.9 2746.6 726.2 2748.3C727.5 2750.0 728.7 2751.7 729.8 2753.4C730.8 2755.0 731.8 2756.7 732.5 2758.4C733.3 2760.0 733.9 2761.7 734.3 2763.4C734.8 2765.0 735.1 2766.7 735.1 2768.4C735.2 2770.1 735.1 2771.8 734.8 2773.4C734.5 2775.1 734.0 2776.8 733.3 2778.5C732.5 2780.2 731.5 2781.8 730.4 2783.5C729.2 2785.2 727.7 2786.9 726.1 2788.5C724.4 2790.2 722.4 2791.9 720.3 2793.5C718.0 2795.2 715.5 2796.9 712.9 2798.5C710.0 2800.3 707.0 2801.9 703.7 2803.5C700.3 2805.3 696.6 2806.9 692.8 2808.6C688.7 2810.3 684.4 2812.0 680.0 2813.6C675.2 2815.3 670.3 2817.0 665.1 2818.6C659.7 2820.3 654.1 2822.0 648.3 2823.6C642.1 2825.3 635.7 2827.0 629.2 2828.6C622.3 2830.4 615.2 2832.0 607.9 2833.7C600.3 2835.4 592.4 2837.0 584.3 2838.7C576.0 2840.4 567.4 2842.0 558.7 2843.7C550.0 2845.4 541.0 2847.0 532.1 2848.7C523.3 2850.4 514.4 2852.0 505.7 2853.7C497.2 2855.4 488.7 2857.0 480.6 2858.7C472.8 2860.4 465.1 2862.0 457.9 2863.8C451.1 2865.4 444.6 2867.0 438.4 2868.8C432.7 2870.4 427.3 2872.1 422.1 2873.8C417.3 2875.4 412.7 2877.1 408.4 2878.8C404.5 2880.4 400.7 2882.1 397.1 2883.8C393.8 2885.4 390.7 2887.1 387.8 2888.9C385.1 2890.5 382.5 2892.1 380.1 2893.9C377.8 2895.5 375.6 2897.2 373.6 2898.9C371.6 2900.5 369.7 2902.2 368.0 2903.9C366.3 2905.5 364.7 2907.2 363.3 2908.9C361.9 2910.6 360.5 2912.2 359.3 2913.9C358.1 2915.6 357.1 2917.3 356.1 2919.0C355.1 2920.6 354.3 2922.3 353.5 2924.0C352.7 2925.6 352.0 2927.3 351.4 2929.0C350.8 2930.7 350.3 2932.3 349.9 2934.0C349.4 2935.7 349.1 2937.4 348.8 2939.0C348.5 2940.7 348.2 2942.4 348.0 2944.1C347.8 2945.7 347.6 2947.4 347.5 2949.1C347.4 2950.7 347.3 2952.4 347.2 2954.1C347.2 2955.8 347.1 2957.4 347.1 2959.1C347.1 2960.8 347.1 2962.5 347.1 2964.1C347.0 2965.8 347.0 2967.5 347.0 2969.1C347.0 2970.8 347.0 2972.5 346.9 2974.2C346.9 2975.8 346.9 2977.5 346.9 2979.2C346.8 2980.9 346.8 2982.5 346.8 2984.2C346.8 2985.9 346.7 2987.5 346.7 2989.2C346.7 2990.9 346.6 2992.6 346.6 2994.2C346.6 2995.9 346.5 2997.6 346.5 2999.3C346.5 3000.9 346.4 3002.6 346.4 3004.3C346.3 3005.9 346.3 3007.6 346.3 3009.3C346.2 3011.0 346.2 3012.6 346.2 3014.3C346.1 3016.0 346.1 3017.7 346.1 3019.3C346.0 3021.0 346.0 3022.7 345.9 3024.3C345.9 3026.0 345.9 3027.7 345.9 3029.4C345.8 3031.0 345.8 3032.7 345.8 3034.4C345.7 3036.1 345.7 3037.7 345.7 3039.4C345.7 3041.1 345.7 3042.7 345.8 3044.4C345.8 3046.1 345.8 3047.8 345.9 3049.4C345.9 3051.1 345.9 3052.8 345.9 3054.5C346.0 3056.1 346.0 3057.8 346.1 3059.5C346.1 3061.1 346.1 3062.8 346.2 3064.5C346.2 3066.2 346.2 3067.8 346.3 3069.5C346.3 3071.2 346.3 3072.9 346.4 3074.5C346.4 3076.2 346.5 3077.9 346.5 3079.5C346.5 3081.2 346.6 3082.9 346.6 3084.6C346.6 3086.2 346.7 3087.9 346.7 3089.6C346.7 3091.3 346.8 3092.9 346.8 3094.6C346.8 3096.3 346.8 3097.9 346.9 3099.6C346.9 3101.3 346.9 3103.0 346.9 3104.6C347.0 3106.3 347.0 3108.0 347.0 3109.7C347.0 3111.3 347.0 3113.0 347.1 3114.7C347.1 3116.3 347.1 3118.0 347.1 3119.7C347.1 3121.4 347.2 3123.0 347.2 3124.7C347.3 3126.4 347.4 3128.1 347.5 3129.7C347.6 3131.4 347.8 3133.1 348.0 3134.7C348.2 3136.4 348.5 3138.1 348.8 3139.8C349.1 3141.4 349.4 3143.1 349.9 3144.8C350.3 3146.5 350.8 3148.1 351.4 3149.8C352.0 3151.5 352.7 3153.2 353.5 3154.8C354.3 3156.5 355.1 3158.2 356.1 3159.8C357.1 3161.5 358.1 3163.2 359.3 3164.9C360.5 3166.6 361.9 3168.2 363.3 3169.9C364.7 3171.6 366.3 3173.3 368.0 3174.9C369.7 3176.6 371.6 3178.3 373.6 3179.9C375.6 3181.6 377.8 3183.3 380.1 3184.9C382.5 3186.7 385.1 3188.3 387.8 3189.9C390.7 3191.7 393.8 3193.4 397.1 3195.0C400.7 3196.7 404.5 3198.4 408.4 3200.0C412.7 3201.7 417.3 3203.4 422.1 3205.0C427.3 3206.7 432.7 3208.4 438.4 3210.0C444.6 3211.8 451.1 3213.4 457.9 3215.0C465.1 3216.8 472.8 3218.4 480.6 3220.1C488.7 3221.8 497.2 3223.4 505.7 3225.1C514.4 3226.8 523.3 3228.4 532.1 3230.1C541.0 3231.8 550.0 3233.4 558.7 3235.1C567.4 3236.8 576.0 3238.4 584.3 3240.1C592.4 3241.8 600.3 3243.4 607.9 3245.1C615.2 3246.8 622.3 3248.4 629.2 3250.2C635.7 3251.8 642.1 3253.5 648.3 3255.2C654.1 3256.8 659.7 3258.5 665.1 3260.2C670.3 3261.8 675.2 3263.5 680.0 3265.2C684.4 3266.8 688.7 3268.5 692.8 3270.2C696.6 3271.9 700.3 3273.5 703.7 3275.3C707.0 3276.9 710.0 3278.5 712.9 3280.3C715.5 3281.9 718.0 3283.6 720.3 3285.3C722.4 3286.9 724.4 3288.6 726.1 3290.3C727.7 3291.9 729.2 3293.6 730.4 3295.3C731.5 3297.0 732.5 3298.6 733.3 3300.3C734.0 3302.0 734.5 3303.7 734.8 3305.4C735.1 3307.0 735.2 3308.7 735.1 3310.4C735.1 3312.1 734.8 3313.8 734.3 3315.4C733.9 3317.1 733.3 3318.8 732.5 3320.4C731.8 3322.1 730.8 3323.8 729.8 3325.4C728.7 3327.1 727.5 3328.8 726.2 3330.5C724.9 3332.2 723.4 3333.8 721.9 3335.5C720.4 3337.2 718.7 3338.8 717.0 3340.5C715.3 3342.2 713.4 3343.9 711.5 3345.5C709.6 3347.2 707.7 3348.9 705.7 3350.5C703.6 3352.2 701.5 3353.9 699.4 3355.5C697.3 3357.2 695.1 3358.9 692.9 3360.6C690.8 3362.2 688.5 3363.9 686.3 3365.6C684.1 3367.3 681.9 3368.9 679.7 3370.6C677.5 3372.3 675.3 3373.9 673.1 3375.6C670.9 3377.3 668.7 3379.0 666.6 3380.6C664.5 3382.3 662.4 3384.0 660.4 3385.7C658.3 3387.3 656.3 3389.0 654.3 3390.7C652.3 3392.3 650.4 3394.0 648.5 3395.7C646.6 3397.4 644.7 3399.0 642.8 3400.7C641.0 3402.4 639.2 3404.1 637.4 3405.7C635.6 3407.4 633.9 3409.1 632.2 3410.8C630.5 3412.4 628.8 3414.1 627.2 3415.8C625.5 3417.4 623.9 3419.1 622.4 3420.8C620.8 3422.5 619.3 3424.1 617.8 3425.8C616.3 3427.5 614.9 3429.1 613.5 3430.8C612.1 3432.5 610.7 3434.2 609.4 3435.8C608.0 3437.5 606.8 3439.2 605.5 3440.9C604.2 3442.5 603.0 3444.2 601.8 3445.9C600.7 3447.5 599.5 3449.2 598.4 3450.9C597.3 3452.6 596.2 3454.2 595.2 3455.9C594.2 3457.6 593.2 3459.3 592.2 3460.9C591.2 3462.6 590.3 3464.3 589.3 3466.0C588.4 3467.6 587.5 3469.3 586.7 3471.0C585.8 3472.6 585.0 3474.3 584.1 3476.0C583.3 3477.7 582.5 3479.3 581.8 3481.0C581.0 3482.7 580.2 3484.3 579.5 3486.0C578.8 3487.7 578.1 3489.4 577.4 3491.0C576.7 3492.7 576.0 3494.4 575.3 3496.1C574.7 3497.7 574.0 3499.4 573.4 3501.1C572.7 3502.7 572.1 3504.4 571.5 3506.1C570.9 3507.8 570.3 3509.4 569.7 3511.1C569.1 3512.8 568.5 3514.5 567.9 3516.1C567.4 3517.8 566.8 3519.5 566.2 3521.2C565.7 3522.8 565.1 3524.5 564.6 3526.2C564.0 3527.8 563.5 3529.5 562.9 3531.2C562.4 3532.9 561.8 3534.5 561.3 3536.2C560.8 3537.9 560.3 3539.6 559.8 3541.2C559.3 3542.9 558.8 3544.6 558.3 3546.2C557.8 3547.9 557.3 3549.6 556.8 3551.3C556.3 3552.9 555.8 3554.6 555.3 3556.3C554.9 3558.0 554.4 3559.6 553.9 3561.3C553.5 3563.0 553.0 3564.6 552.5 3566.3C552.1 3568.0 551.6 3569.7 551.2 3571.3C550.8 3573.0 550.3 3574.7 549.9 3576.4C549.5 3578.0 549.0 3579.7 548.6 3581.4C548.2 3583.0 547.8 3584.7 547.4 3586.4C547.0 3588.1 546.6 3589.7 546.2 3591.4C545.8 3593.1 545.4 3594.8 545.0 3596.4C544.6 3598.1 544.2 3599.8 543.8 3601.4C543.4 3603.1 543.0 3604.8 542.7 3606.5C542.3 3608.1 541.9 3609.8 541.5 3611.5C541.2 3613.2 540.8 3614.8 540.5 3616.5C540.1 3618.2 539.7 3619.8 539.4 3621.5C539.0 3623.2 538.7 3624.9 538.3 3626.5C538.0 3628.2 537.7 3629.9 537.3 3631.6C537.0 3633.2 536.7 3634.9 536.3 3636.6C536.0 3638.2 535.7 3639.9 535.3 3641.6C535.0 3643.3 534.7 3644.9 534.4 3646.6C534.1 3648.3 533.8 3650.0 533.5 3651.6C533.2 3653.3 532.9 3655.0 532.6 3656.6C532.3 3658.3 532.0 3660.0 531.8 3661.7C531.5 3663.3 531.3 3665.0 531.1 3666.7C530.8 3668.4 530.6 3670.0 530.4 3671.7C530.2 3673.4 530.0 3675.0 529.9 3676.7C529.7 3678.4 529.6 3680.1 529.5 3681.7C529.3 3683.4 529.2 3685.1 529.2 3686.8C529.1 3688.4 529.1 3690.1 529.0 3691.8C529.0 3693.4 529.0 3695.1 529.1 3696.8C529.1 3698.5 529.1 3700.1 529.2 3701.8C529.3 3703.5 529.5 3705.2 529.6 3706.8C529.8 3708.5 530.0 3710.2 530.2 3711.8C530.4 3713.5 530.7 3715.2 531.0 3716.9C531.3 3718.5 531.6 3720.2 532.0 3721.9C532.3 3723.6 532.8 3725.2 533.2 3726.9C533.7 3728.6 534.2 3730.3 534.7 3731.9C535.2 3733.6 535.8 3735.3 536.5 3736.9C537.1 3738.6 537.8 3740.3 538.5 3742.0C539.2 3743.6 540.0 3745.3 540.8 3747.0C541.6 3748.7 542.5 3750.3 543.4 3752.0C544.4 3753.7 545.4 3755.3 546.4 3757.0C547.3 3758.7 548.3 3760.3 548.9 3762.0C549.5 3763.7 550.2 3765.4 549.9 3767.0C549.5 3768.8 548.4 3770.6 546.6 3772.1C543.8 3774.3 538.8 3775.6 533.5 3777.1C526.1 3779.2 516.0 3780.6 505.7 3782.1C492.9 3784.0 480.2 3785.7 462.3 3787.1C433.1 3789.4 385.4 3790.5 347.0 3792.1" stroke="#000000" stroke-width="7.2" fill="none" stroke-linecap="round" stroke-linejoin="round"/><path d="M347.0 2286.7C374.9 2288.3 406.3 2289.7 430.7 2291.7C449.7 2293.2 467.0 2294.7 481.4 2296.7C492.1 2298.2 501.6 2299.7 509.2 2301.7C514.8 2303.2 519.9 2304.6 523.3 2306.7C525.7 2308.2 527.7 2309.9 528.6 2311.8C529.3 2313.3 528.9 2315.1 528.9 2316.8C528.8 2318.4 528.2 2320.1 528.1 2321.8C527.9 2323.5 527.8 2325.1 527.8 2326.8C527.7 2328.5 527.8 2330.2 527.9 2331.8C527.9 2333.5 528.1 2335.2 528.2 2336.8C528.3 2338.5 528.5 2340.2 528.7 2341.9C528.8 2343.5 529.0 2345.2 529.3 2346.9C529.5 2348.6 529.7 2350.2 529.9 2351.9C530.2 2353.6 530.5 2355.2 530.7 2356.9C531.0 2358.6 531.3 2360.3 531.6 2361.9C531.9 2363.6 532.2 2365.3 532.6 2367.0C532.9 2368.6 533.3 2370.3 533.6 2372.0C534.0 2373.6 534.4 2375.3 534.8 2377.0C535.2 2378.7 535.6 2380.3 536.0 2382.0C536.4 2383.7 536.9 2385.4 537.3 2387.0C537.8 2388.7 538.2 2390.4 538.7 2392.0C539.1 2393.7 539.6 2395.4 540.1 2397.1C540.6 2398.7 541.1 2400.4 541.6 2402.1C542.1 2403.8 542.6 2405.4 543.2 2407.1C543.7 2408.8 544.2 2410.4 544.8 2412.1C545.3 2413.8 545.9 2415.5 546.4 2417.1C547.0 2418.8 547.5 2420.5 548.1 2422.2C548.7 2423.8 549.3 2425.5 549.9 2427.2C550.4 2428.8 551.0 2430.5 551.6 2432.2C552.2 2433.9 552.8 2435.5 553.4 2437.2C554.1 2438.9 554.7 2440.6 555.3 2442.2C555.9 2443.9 556.5 2445.6 557.1 2447.2C557.8 2448.9 558.4 2450.6 559.0 2452.3C559.7 2453.9 560.3 2455.6 560.9 2457.3C561.6 2459.0 562.2 2460.6 562.8 2462.3C563.5 2464.0 564.1 2465.6 564.8 2467.3C565.4 2469.0 566.1 2470.7 566.7 2472.3C567.4 2474.0 568.0 2475.7 568.7 2477.4C569.3 2479.0 570.0 2480.7 570.7 2482.4C571.3 2484.0 572.0 2485.7 572.7 2487.4C573.3 2489.1 574.0 2490.7 574.7 2492.4C575.4 2494.1 576.1 2495.8 576.7 2497.4C577.4 2499.1 578.1 2500.8 578.8 2502.4C579.5 2504.1 580.2 2505.8 580.9 2507.5C581.6 2509.1 582.3 2510.8 583.0 2512.5C583.8 2514.2 584.5 2515.8 585.2 2517.5C585.9 2519.2 586.7 2520.8 587.4 2522.5C588.1 2524.2 588.9 2525.9 589.6 2527.5C590.4 2529.2 591.1 2530.9 591.9 2532.6C592.6 2534.2 593.4 2535.9 594.2 2537.6C594.9 2539.2 595.7 2540.9 596.5 2542.6C597.3 2544.3 598.1 2545.9 598.9 2547.6C599.6 2549.3 600.4 2551.0 601.3 2552.6C602.1 2554.3 602.9 2556.0 603.7 2557.6C604.5 2559.3 605.3 2561.0 606.2 2562.7C607.0 2564.3 607.8 2566.0 608.7 2567.7C609.5 2569.4 610.4 2571.0 611.3 2572.7C612.1 2574.4 613.0 2576.0 613.9 2577.7C614.7 2579.4 615.6 2581.1 616.5 2582.7C617.4 2584.4 618.3 2586.1 619.2 2587.8C620.1 2589.4 621.1 2591.1 622.0 2592.8C622.9 2594.4 623.8 2596.1 624.8 2597.8C625.7 2599.5 626.7 2601.1 627.6 2602.8C628.6 2604.5 629.5 2606.2 630.5 2607.8C631.5 2609.5 632.5 2611.2 633.4 2612.8C634.4 2614.5 635.4 2616.2 636.4 2617.9C637.4 2619.5 638.4 2621.2 639.4 2622.9C640.4 2624.6 641.4 2626.2 642.4 2627.9C643.4 2629.6 644.5 2631.2 645.5 2632.9C646.5 2634.6 647.5 2636.3 648.6 2637.9C649.6 2639.6 650.6 2641.3 651.7 2643.0C652.7 2644.6 653.8 2646.3 654.8 2648.0C655.9 2649.6 656.9 2651.3 658.0 2653.0C659.0 2654.7 660.1 2656.3 661.1 2658.0C662.2 2659.7 663.2 2661.4 664.3 2663.0C665.4 2664.7 666.4 2666.4 667.5 2668.0C668.6 2669.7 669.6 2671.4 670.7 2673.1C671.8 2674.7 672.9 2676.4 673.9 2678.1C675.0 2679.8 676.1 2681.4 677.1 2683.1C678.2 2684.8 679.3 2686.4 680.4 2688.1C681.4 2689.8 682.5 2691.5 683.6 2693.1C684.6 2694.8 685.7 2696.5 686.8 2698.2C687.9 2699.8 688.9 2701.5 690.0 2703.2C691.1 2704.8 692.1 2706.5 693.2 2708.2C694.3 2709.9 695.3 2711.5 696.4 2713.2C697.4 2714.9 698.5 2716.6 699.6 2718.2C700.6 2719.9 701.7 2721.6 702.7 2723.3C703.8 2724.9 704.8 2726.6 705.9 2728.3C706.9 2729.9 707.9 2731.6 708.9 2733.3C709.8 2735.0 710.8 2736.6 711.6 2738.3C712.5 2740.0 713.3 2741.6 714.1 2743.3C714.8 2745.0 715.5 2746.7 716.0 2748.3C716.5 2750.0 717.0 2751.7 717.4 2753.4C717.7 2755.0 717.9 2756.7 718.0 2758.4C718.1 2760.0 718.0 2761.7 717.8 2763.4C717.6 2765.1 717.2 2766.8 716.7 2768.4C716.1 2770.1 715.4 2771.8 714.5 2773.4C713.6 2775.1 712.4 2776.8 711.1 2778.5C709.8 2780.2 708.2 2781.9 706.5 2783.5C704.6 2785.2 702.6 2786.9 700.4 2788.5C698.0 2790.2 695.5 2791.9 692.8 2793.5C689.9 2795.2 686.7 2796.9 683.5 2798.5C680.0 2800.3 676.3 2801.9 672.4 2803.5C668.3 2805.3 664.0 2806.9 659.5 2808.6C654.8 2810.3 649.8 2811.9 644.7 2813.6C639.4 2815.3 633.9 2817.0 628.3 2818.6C622.5 2820.3 616.5 2822.0 610.6 2823.6C604.4 2825.3 598.1 2827.0 591.8 2828.6C585.4 2830.3 578.9 2832.0 572.3 2833.7C565.7 2835.3 559.1 2837.0 552.4 2838.7C545.8 2840.3 539.1 2842.0 532.4 2843.7C525.8 2845.4 519.1 2847.0 512.6 2848.7C506.1 2850.4 499.6 2852.0 493.2 2853.7C486.9 2855.4 480.7 2857.0 474.6 2858.7C468.6 2860.4 462.7 2862.1 457.0 2863.8C451.5 2865.4 446.0 2867.1 440.8 2868.8C435.8 2870.4 430.9 2872.1 426.2 2873.8C421.8 2875.4 417.6 2877.1 413.6 2878.8C409.8 2880.4 406.2 2882.1 402.8 2883.8C399.6 2885.5 396.6 2887.1 393.7 2888.9C391.0 2890.5 388.5 2892.1 386.1 2893.9C383.9 2895.5 381.8 2897.2 379.8 2898.9C378.0 2900.5 376.3 2902.2 374.7 2903.9C373.2 2905.5 371.8 2907.2 370.6 2908.9C369.3 2910.6 368.2 2912.2 367.2 2913.9C366.2 2915.6 365.3 2917.3 364.4 2919.0C363.6 2920.6 362.8 2922.3 362.1 2924.0C361.4 2925.6 360.7 2927.3 360.0 2929.0C359.3 2930.7 358.7 2932.3 358.1 2934.0C357.5 2935.7 356.9 2937.4 356.4 2939.0C355.9 2940.7 355.4 2942.4 354.9 2944.1C354.4 2945.7 353.9 2947.4 353.5 2949.1C353.1 2950.7 352.7 2952.4 352.3 2954.1C351.9 2955.8 351.6 2957.4 351.2 2959.1C350.9 2960.8 350.6 2962.5 350.3 2964.1C350.0 2965.8 349.8 2967.5 349.5 2969.1C349.3 2970.8 349.1 2972.5 348.9 2974.2C348.6 2975.8 348.5 2977.5 348.3 2979.2C348.1 2980.9 348.0 2982.5 347.8 2984.2C347.7 2985.9 347.5 2987.5 347.4 2989.2C347.3 2990.9 347.2 2992.6 347.1 2994.2C347.0 2995.9 347.0 2997.6 346.9 2999.3C346.8 3000.9 346.8 3002.6 346.7 3004.3C346.7 3005.9 346.7 3007.6 346.6 3009.3C346.6 3011.0 346.6 3012.6 346.6 3014.3C346.6 3016.0 346.6 3017.7 346.6 3019.3C346.6 3021.0 346.6 3022.7 346.6 3024.3C346.6 3026.0 346.6 3027.7 346.6 3029.4C346.7 3031.0 346.7 3032.7 346.7 3034.4C346.8 3036.1 346.9 3037.7 346.9 3039.4C346.9 3041.1 346.8 3042.7 346.7 3044.4C346.7 3046.1 346.7 3047.8 346.6 3049.4C346.6 3051.1 346.6 3052.8 346.6 3054.5C346.6 3056.1 346.6 3057.8 346.6 3059.5C346.6 3061.1 346.6 3062.8 346.6 3064.5C346.6 3066.2 346.6 3067.8 346.6 3069.5C346.7 3071.2 346.7 3072.9 346.7 3074.5C346.8 3076.2 346.8 3077.9 346.9 3079.5C347.0 3081.2 347.0 3082.9 347.1 3084.6C347.2 3086.2 347.3 3087.9 347.4 3089.6C347.5 3091.3 347.7 3092.9 347.8 3094.6C348.0 3096.3 348.1 3097.9 348.3 3099.6C348.5 3101.3 348.6 3103.0 348.9 3104.6C349.1 3106.3 349.3 3108.0 349.5 3109.7C349.8 3111.3 350.0 3113.0 350.3 3114.7C350.6 3116.3 350.9 3118.0 351.2 3119.7C351.6 3121.4 351.9 3123.0 352.3 3124.7C352.7 3126.4 353.1 3128.1 353.5 3129.7C353.9 3131.4 354.4 3133.1 354.9 3134.7C355.4 3136.4 355.9 3138.1 356.4 3139.8C356.9 3141.4 357.5 3143.1 358.1 3144.8C358.7 3146.5 359.3 3148.1 360.0 3149.8C360.7 3151.5 361.4 3153.2 362.1 3154.8C362.8 3156.5 363.6 3158.2 364.4 3159.8C365.3 3161.5 366.2 3163.2 367.2 3164.9C368.2 3166.6 369.3 3168.2 370.6 3169.9C371.8 3171.6 373.2 3173.3 374.7 3174.9C376.3 3176.6 378.0 3178.3 379.8 3179.9C381.8 3181.6 383.9 3183.3 386.1 3184.9C388.5 3186.7 391.0 3188.3 393.7 3189.9C396.6 3191.7 399.6 3193.3 402.8 3195.0C406.2 3196.7 409.8 3198.4 413.6 3200.0C417.6 3201.7 421.8 3203.4 426.2 3205.0C430.9 3206.7 435.8 3208.4 440.8 3210.0C446.0 3211.7 451.5 3213.4 457.0 3215.0C462.7 3216.7 468.6 3218.4 474.6 3220.1C480.7 3221.8 486.9 3223.4 493.2 3225.1C499.6 3226.8 506.1 3228.4 512.6 3230.1C519.1 3231.8 525.8 3233.4 532.4 3235.1C539.1 3236.8 545.8 3238.5 552.4 3240.1C559.1 3241.8 565.7 3243.5 572.3 3245.1C578.9 3246.8 585.4 3248.5 591.8 3250.2C598.1 3251.8 604.4 3253.5 610.6 3255.2C616.5 3256.8 622.5 3258.5 628.3 3260.2C633.9 3261.8 639.4 3263.5 644.7 3265.2C649.8 3266.9 654.8 3268.5 659.5 3270.2C664.0 3271.9 668.3 3273.5 672.4 3275.3C676.3 3276.9 680.0 3278.5 683.5 3280.3C686.7 3281.9 689.9 3283.6 692.8 3285.3C695.5 3286.9 698.0 3288.6 700.4 3290.3C702.6 3291.9 704.6 3293.6 706.5 3295.3C708.2 3296.9 709.8 3298.6 711.1 3300.3C712.4 3302.0 713.6 3303.7 714.5 3305.4C715.4 3307.0 716.1 3308.7 716.7 3310.4C717.2 3312.0 717.6 3313.7 717.8 3315.4C718.0 3317.1 718.1 3318.8 718.0 3320.4C717.9 3322.1 717.7 3323.8 717.4 3325.4C717.0 3327.1 716.5 3328.8 716.0 3330.5C715.5 3332.1 714.8 3333.8 714.1 3335.5C713.3 3337.2 712.5 3338.8 711.6 3340.5C710.8 3342.2 709.8 3343.8 708.9 3345.5C707.9 3347.2 706.9 3348.9 705.9 3350.5C704.8 3352.2 703.8 3353.9 702.7 3355.5C701.7 3357.2 700.6 3358.9 699.6 3360.6C698.5 3362.2 697.4 3363.9 696.4 3365.6C695.3 3367.3 694.3 3368.9 693.2 3370.6C692.1 3372.3 691.1 3374.0 690.0 3375.6C688.9 3377.3 687.9 3379.0 686.8 3380.6C685.7 3382.3 684.6 3384.0 683.6 3385.7C682.5 3387.3 681.4 3389.0 680.4 3390.7C679.3 3392.4 678.2 3394.0 677.1 3395.7C676.1 3397.4 675.0 3399.0 673.9 3400.7C672.9 3402.4 671.8 3404.1 670.7 3405.7C669.6 3407.4 668.6 3409.1 667.5 3410.8C666.4 3412.4 665.4 3414.1 664.3 3415.8C663.2 3417.4 662.2 3419.1 661.1 3420.8C660.1 3422.5 659.0 3424.1 658.0 3425.8C656.9 3427.5 655.9 3429.2 654.8 3430.8C653.8 3432.5 652.7 3434.2 651.7 3435.8C650.6 3437.5 649.6 3439.2 648.6 3440.9C647.5 3442.5 646.5 3444.2 645.5 3445.9C644.5 3447.6 643.4 3449.2 642.4 3450.9C641.4 3452.6 640.4 3454.2 639.4 3455.9C638.4 3457.6 637.4 3459.3 636.4 3460.9C635.4 3462.6 634.4 3464.3 633.4 3466.0C632.5 3467.6 631.5 3469.3 630.5 3471.0C629.5 3472.6 628.6 3474.3 627.6 3476.0C626.7 3477.7 625.7 3479.3 624.8 3481.0C623.8 3482.7 622.9 3484.4 622.0 3486.0C621.1 3487.7 620.1 3489.4 619.2 3491.0C618.3 3492.7 617.4 3494.4 616.5 3496.1C615.6 3497.7 614.7 3499.4 613.9 3501.1C613.0 3502.8 612.1 3504.4 611.3 3506.1C610.4 3507.8 609.5 3509.4 608.7 3511.1C607.8 3512.8 607.0 3514.5 606.2 3516.1C605.3 3517.8 604.5 3519.5 603.7 3521.2C602.9 3522.8 602.1 3524.5 601.3 3526.2C600.4 3527.8 599.6 3529.5 598.9 3531.2C598.1 3532.9 597.3 3534.5 596.5 3536.2C595.7 3537.9 594.9 3539.6 594.2 3541.2C593.4 3542.9 592.6 3544.6 591.9 3546.2C591.1 3547.9 590.4 3549.6 589.6 3551.3C588.9 3552.9 588.1 3554.6 587.4 3556.3C586.7 3558.0 585.9 3559.6 585.2 3561.3C584.5 3563.0 583.8 3564.6 583.0 3566.3C582.3 3568.0 581.6 3569.7 580.9 3571.3C580.2 3573.0 579.5 3574.7 578.8 3576.4C578.1 3578.0 577.4 3579.7 576.7 3581.4C576.1 3583.0 575.4 3584.7 574.7 3586.4C574.0 3588.1 573.3 3589.7 572.7 3591.4C572.0 3593.1 571.3 3594.8 570.7 3596.4C570.0 3598.1 569.3 3599.8 568.7 3601.4C568.0 3603.1 567.4 3604.8 566.7 3606.5C566.1 3608.1 565.4 3609.8 564.8 3611.5C564.1 3613.2 563.5 3614.8 562.8 3616.5C562.2 3618.2 561.6 3619.8 560.9 3621.5C560.3 3623.2 559.7 3624.9 559.0 3626.5C558.4 3628.2 557.8 3629.9 557.1 3631.6C556.5 3633.2 555.9 3634.9 555.3 3636.6C554.7 3638.2 554.1 3639.9 553.4 3641.6C552.8 3643.3 552.2 3644.9 551.6 3646.6C551.0 3648.3 550.4 3650.0 549.9 3651.6C549.3 3653.3 548.7 3655.0 548.1 3656.6C547.5 3658.3 547.0 3660.0 546.4 3661.7C545.9 3663.3 545.3 3665.0 544.8 3666.7C544.2 3668.4 543.7 3670.0 543.2 3671.7C542.6 3673.4 542.1 3675.0 541.6 3676.7C541.1 3678.4 540.6 3680.1 540.1 3681.7C539.6 3683.4 539.1 3685.1 538.7 3686.8C538.2 3688.4 537.8 3690.1 537.3 3691.8C536.9 3693.4 536.4 3695.1 536.0 3696.8C535.6 3698.5 535.2 3700.1 534.8 3701.8C534.4 3703.5 534.0 3705.2 533.6 3706.8C533.3 3708.5 532.9 3710.2 532.6 3711.8C532.2 3713.5 531.9 3715.2 531.6 3716.9C531.3 3718.5 531.0 3720.2 530.7 3721.9C530.5 3723.6 530.2 3725.2 529.9 3726.9C529.7 3728.6 529.5 3730.2 529.3 3731.9C529.0 3733.6 528.8 3735.3 528.7 3736.9C528.5 3738.6 528.3 3740.3 528.2 3742.0C528.1 3743.6 527.9 3745.3 527.9 3747.0C527.8 3748.6 527.7 3750.3 527.8 3752.0C527.8 3753.7 527.9 3755.3 528.1 3757.0C528.2 3758.7 528.8 3760.4 528.9 3762.0C528.9 3763.7 529.3 3765.5 528.6 3767.0C527.7 3768.9 525.7 3770.6 523.3 3772.1C519.9 3774.2 514.8 3775.6 509.2 3777.1C501.6 3779.1 492.1 3780.6 481.4 3782.1C467.0 3784.1 449.7 3785.6 430.7 3787.1C406.3 3789.1 374.9 3790.5 347.0 3792.1" stroke="#0000ff" stroke-width="3.6" fill="none" stroke-linecap="round" stroke-linejoin="round"/><path d="M346.9 2286.7L489.4 2296.4L526.8 2301.0L547.8 2323.1L544.0 2354.7L546.9 2383.5L549.8 2419.4L555.5 2443.8L564.1 2475.4L571.3 2499.8L582.8 2537.2L591.4 2563.1L605.8 2597.6L618.7 2622.0L638.8 2650.7L654.6 2672.3L679.0 2699.5L725.0 2749.8L733.6 2767.1L730.8 2780.1L709.2 2801.6L644.6 2826.0L577.1 2842.4L509.5 2857.6L442.0 2874.0L404.7 2889.2L377.4 2906.5L357.3 2933.7L350.1 2958.2L347.2 2992.6L347.8 3039.5L347.2 3086.2L350.1 3120.6L357.3 3145.1L377.4 3172.3L404.7 3189.6L442.0 3204.8L509.5 3221.2L577.1 3236.4L644.6 3252.8L709.2 3277.2L730.8 3298.7L733.6 3311.7L725.0 3329.0L679.0 3379.3L654.6 3406.5L638.8 3428.1L618.7 3456.8L605.8 3481.2L591.4 3515.7L582.8 3541.6L571.3 3579.0L564.1 3603.4L555.5 3635.0L549.8 3659.4L547.9 3673.5L544.6 3699.8L544.6 3739.2L545.6 3772.0L513.4 3780.2L483.9 3783.5L444.5 3786.8L414.9 3788.4L347.6 3794.3" stroke="#ff8000" stroke-width="7.2" fill="none" stroke-linecap="round" stroke-linejoin="round" stroke-dasharray="25 41"/><path d="M346.9 2286.7L414.7 2292.4L480.8 2313.1L488.0 2376.3L500.9 2439.5L516.7 2501.3L525.3 2537.2L532.5 2566.0L545.5 2597.6L562.7 2626.3L584.2 2652.1L607.2 2675.1L633.1 2699.5L654.6 2722.5L668.1 2736.9L653.2 2772.8L625.9 2790.1L598.6 2803.0L562.7 2814.5L532.5 2823.1L496.6 2834.6L467.9 2843.3L432.0 2857.6L403.3 2874.9L390.3 2893.5L383.1 2930.9L376.0 2966.8L367.3 2995.5L358.7 3022.8L349.2 3030.0L354.2 3053.0L368.9 3084.2L377.2 3112.1L385.4 3148.2L390.3 3177.7L395.2 3192.5L411.6 3207.3L437.9 3223.7L474.0 3235.2L503.6 3245.0L541.3 3256.5L598.8 3276.2L634.9 3292.7L659.5 3310.7L666.1 3323.8L662.8 3338.6L646.4 3364.9L620.1 3391.1L597.1 3412.5L572.5 3440.4L556.1 3461.7L541.3 3489.6L533.1 3515.9L523.3 3550.4L516.7 3578.3L506.8 3614.4L500.3 3642.3L492.1 3678.4L487.1 3706.3L482.2 3742.4L477.3 3768.7L475.6 3778.6L444.5 3781.8L413.3 3786.8L378.8 3790.1L347.6 3794.3" stroke="#ff00ff" stroke-width="7.2" fill="none" stroke-linecap="round" stroke-linejoin="round" stroke-dasharray="25 41"/><path d="M329.9 2284.4h34M346.9 2267.4v34M508.3 2299.6h34M525.3 2282.6v34M509.8 2315.1h34M526.8 2298.1v34M510.6 2338.9h34M527.6 2321.9v34M514.1 2361.9h34M531.1 2344.9v34M519.3 2385.5h34M536.3 2368.5v34M526.2 2408.8h34M543.2 2391.8v34M534.2 2432.3h34M551.2 2415.3v34M542.8 2455.3h34M559.8 2438.3v34M552.9 2478.6h34M569.9 2461.6v34M562.4 2502.1h34M579.4 2485.1v34M573.0 2525.2h34M590.0 2508.2v34M583.6 2548.7h34M600.6 2531.7v34M594.0 2571.1h34M611.0 2554.1v34M605.4 2595.3h34M622.4 2578.3v34M617.5 2618.2h34M634.5 2601.2v34M631.3 2641.5h34M648.3 2624.5v34M647.1 2664.5h34M664.1 2647.5v34M664.1 2688.1h34M681.1 2671.1v34M680.7 2711.3h34M697.7 2694.3v34M695.7 2734.6h34M712.7 2717.6v34M702.3 2757.9h34M719.3 2740.9v34M692.8 2780.9h34M709.8 2763.9v34M655.4 2804.5h34M672.4 2787.5v34M580.7 2828.0h34M597.7 2811.0v34M480.2 2851.9h34M497.2 2834.9v34M392.9 2874.9h34M409.9 2857.9v34M360.4 2897.3h34M377.4 2880.3v34M344.0 2920.8h34M361.0 2903.8v34M335.4 2943.8h34M352.4 2926.8v34M330.8 2967.6h34M347.8 2950.6v34M330.2 2991.2h34M347.2 2974.2v34M330.2 3014.2h34M347.2 2997.2v34M330.8 3037.7h34M347.8 3020.7v34M330.2 3064.6h34M347.2 3047.6v34M330.2 3087.6h34M347.2 3070.6v34M330.8 3111.2h34M347.8 3094.2v34M335.4 3135.0h34M352.4 3118.0v34M344.0 3158.0h34M361.0 3141.0v34M360.4 3181.5h34M377.4 3164.5v34M392.9 3203.9h34M409.9 3186.9v34M480.2 3226.9h34M497.2 3209.9v34M580.7 3250.8h34M597.7 3233.8v34M655.4 3274.3h34M672.4 3257.3v34M692.8 3297.9h34M709.8 3280.9v34M702.3 3320.9h34M719.3 3303.9v34M695.7 3344.2h34M712.7 3327.2v34M680.7 3367.5h34M697.7 3350.5v34M664.1 3390.7h34M681.1 3373.7v34M647.1 3414.3h34M664.1 3397.3v34M631.3 3437.3h34M648.3 3420.3v34M617.5 3460.6h34M634.5 3443.6v34M605.4 3483.5h34M622.4 3466.5v34M594.0 3507.7h34M611.0 3490.7v34M583.6 3530.1h34M600.6 3513.1v34M573.0 3553.6h34M590.0 3536.6v34M562.4 3576.7h34M579.4 3559.7v34M552.9 3600.2h34M569.9 3583.2v34M542.8 3623.5h34M559.8 3606.5v34M534.2 3646.5h34M551.2 3629.5v34M526.2 3670.0h34M543.2 3653.0v34M519.3 3693.3h34M536.3 3676.3v34M514.1 3716.9h34M531.1 3699.9v34M510.6 3739.9h34M527.6 3722.9v34M509.8 3763.7h34M526.8 3746.7v34M508.3 3779.2h34M525.3 3762.2v34M329.9 3794.4h34M346.9 3777.4v34" stroke="#f00" stroke-width="1.3" fill="none" stroke-opacity="0.60"/><path d="M1003.6 2286.6C1021.2 2288.2 1040.3 2289.7 1056.3 2291.6C1069.7 2293.1 1082.2 2294.7 1093.1 2296.6C1101.9 2298.1 1110.1 2299.7 1116.8 2301.6C1122.0 2303.1 1126.8 2304.6 1130.4 2306.6C1133.0 2308.1 1135.2 2309.8 1136.5 2311.6C1137.6 2313.2 1137.9 2315.0 1138.1 2316.7C1138.4 2318.3 1138.1 2320.0 1138.0 2321.7C1137.9 2323.4 1137.8 2325.0 1137.7 2326.7C1137.6 2328.4 1137.5 2330.1 1137.4 2331.7C1137.3 2333.4 1137.2 2335.1 1137.0 2336.7C1136.9 2338.4 1136.8 2340.1 1136.7 2341.8C1136.5 2343.4 1136.4 2345.1 1136.3 2346.8C1136.1 2348.5 1136.0 2350.1 1135.8 2351.8C1135.7 2353.5 1135.5 2355.1 1135.4 2356.8C1135.2 2358.5 1135.1 2360.2 1134.9 2361.8C1134.8 2363.5 1134.6 2365.2 1134.5 2366.9C1134.3 2368.5 1134.1 2370.2 1134.0 2371.9C1133.8 2373.5 1133.6 2375.2 1133.5 2376.9C1133.3 2378.6 1133.1 2380.2 1133.0 2381.9C1132.8 2383.6 1132.6 2385.3 1132.5 2386.9C1132.3 2388.6 1132.1 2390.3 1132.0 2392.0C1131.8 2393.6 1131.6 2395.3 1131.5 2397.0C1131.3 2398.6 1131.1 2400.3 1131.0 2402.0C1130.8 2403.7 1130.7 2405.3 1130.5 2407.0C1130.3 2408.7 1130.2 2410.4 1130.0 2412.0C1129.9 2413.7 1129.7 2415.4 1129.6 2417.0C1129.4 2418.7 1129.3 2420.4 1129.2 2422.1C1129.0 2423.7 1128.9 2425.4 1128.8 2427.1C1128.6 2428.8 1128.5 2430.4 1128.4 2432.1C1128.3 2433.8 1128.1 2435.4 1128.0 2437.1C1127.9 2438.8 1127.8 2440.5 1127.7 2442.1C1127.6 2443.8 1127.5 2445.5 1127.4 2447.2C1127.3 2448.8 1127.2 2450.5 1127.2 2452.2C1127.1 2453.9 1127.0 2455.5 1126.9 2457.2C1126.9 2458.9 1126.8 2460.5 1126.8 2462.2C1126.7 2463.9 1126.7 2465.6 1126.7 2467.2C1126.6 2468.9 1126.6 2470.6 1126.6 2472.3C1126.6 2473.9 1126.6 2475.6 1126.6 2477.3C1126.6 2478.9 1126.6 2480.6 1126.6 2482.3C1126.6 2484.0 1126.6 2485.6 1126.7 2487.3C1126.7 2489.0 1126.8 2490.7 1126.8 2492.3C1126.8 2494.0 1126.9 2495.7 1127.0 2497.3C1127.0 2499.0 1127.1 2500.7 1127.2 2502.4C1127.2 2504.0 1127.3 2505.7 1127.4 2507.4C1127.5 2509.1 1127.6 2510.7 1127.6 2512.4C1127.7 2514.1 1127.8 2515.8 1127.9 2517.4C1128.0 2519.1 1128.1 2520.8 1128.2 2522.4C1128.4 2524.1 1128.5 2525.8 1128.6 2527.5C1128.7 2529.1 1128.8 2530.8 1128.9 2532.5C1129.0 2534.2 1129.2 2535.8 1129.3 2537.5C1129.4 2539.2 1129.5 2540.8 1129.6 2542.5C1129.8 2544.2 1129.9 2545.9 1130.0 2547.5C1130.1 2549.2 1130.3 2550.9 1130.4 2552.6C1130.5 2554.2 1130.7 2555.9 1130.8 2557.6C1130.9 2559.3 1131.0 2560.9 1131.2 2562.6C1131.3 2564.3 1131.4 2565.9 1131.5 2567.6C1131.6 2569.3 1131.8 2571.0 1131.9 2572.6C1132.0 2574.3 1132.1 2576.0 1132.2 2577.7C1132.3 2579.3 1132.4 2581.0 1132.5 2582.7C1132.6 2584.3 1132.7 2586.0 1132.8 2587.7C1132.9 2589.4 1133.0 2591.0 1133.1 2592.7C1133.2 2594.4 1133.3 2596.1 1133.4 2597.7C1133.5 2599.4 1133.5 2601.1 1133.6 2602.7C1133.7 2604.4 1133.7 2606.1 1133.8 2607.8C1133.8 2609.4 1133.9 2611.1 1133.9 2612.8C1134.0 2614.5 1134.0 2616.1 1134.0 2617.8C1134.1 2619.5 1134.1 2621.2 1134.1 2622.8C1134.1 2624.5 1134.1 2626.2 1134.1 2627.8C1134.1 2629.5 1134.1 2631.2 1134.1 2632.9C1134.1 2634.5 1134.0 2636.2 1134.0 2637.9C1134.0 2639.6 1133.9 2641.2 1133.9 2642.9C1133.8 2644.6 1133.7 2646.2 1133.6 2647.9C1133.6 2649.6 1133.5 2651.3 1133.4 2652.9C1133.3 2654.6 1133.2 2656.3 1133.0 2658.0C1132.9 2659.6 1132.8 2661.3 1132.6 2663.0C1132.5 2664.6 1132.4 2666.3 1132.2 2668.0C1132.1 2669.7 1131.9 2671.3 1131.8 2673.0C1131.7 2674.7 1131.5 2676.4 1131.4 2678.0C1131.2 2679.7 1131.1 2681.4 1131.0 2683.1C1130.8 2684.7 1130.7 2686.4 1130.6 2688.1C1130.5 2689.7 1130.4 2691.4 1130.3 2693.1C1130.2 2694.8 1130.1 2696.4 1130.1 2698.1C1130.0 2699.8 1130.0 2701.5 1129.9 2703.1C1129.9 2704.8 1129.9 2706.5 1129.9 2708.1C1129.9 2709.8 1130.0 2711.5 1130.0 2713.2C1130.1 2714.8 1130.2 2716.5 1130.3 2718.2C1130.4 2719.9 1130.5 2721.5 1130.7 2723.2C1130.9 2724.9 1131.1 2726.6 1131.3 2728.2C1131.6 2729.9 1131.8 2731.6 1132.1 2733.2C1132.5 2734.9 1132.8 2736.6 1133.2 2738.3C1133.6 2739.9 1134.0 2741.6 1134.5 2743.3C1134.9 2745.0 1135.4 2746.6 1136.0 2748.3C1136.6 2750.0 1137.2 2751.7 1137.8 2753.3C1138.5 2755.0 1139.2 2756.7 1139.9 2758.3C1140.7 2760.0 1141.5 2761.7 1142.3 2763.4C1143.2 2765.0 1144.1 2766.7 1145.1 2768.4C1146.0 2770.1 1147.1 2771.7 1148.2 2773.4C1149.2 2775.1 1150.4 2776.7 1151.4 2778.4C1152.5 2780.1 1153.6 2781.7 1154.5 2783.4C1155.4 2785.1 1156.3 2786.7 1156.9 2788.5C1157.5 2790.1 1158.0 2791.8 1158.2 2793.5C1158.3 2795.1 1158.3 2796.9 1157.9 2798.5C1157.5 2800.2 1156.7 2801.9 1155.7 2803.5C1154.6 2805.3 1153.0 2806.9 1151.4 2808.5C1149.6 2810.3 1147.5 2811.9 1145.3 2813.5C1143.0 2815.3 1140.5 2816.9 1138.0 2818.6C1135.4 2820.3 1132.7 2821.9 1129.9 2823.6C1127.2 2825.3 1124.3 2826.9 1121.5 2828.6C1118.7 2830.3 1115.8 2831.9 1113.0 2833.6C1110.2 2835.3 1107.4 2837.0 1104.7 2838.6C1101.9 2840.3 1099.1 2842.0 1096.4 2843.7C1093.7 2845.3 1091.0 2847.0 1088.3 2848.7C1085.6 2850.3 1083.0 2852.0 1080.4 2853.7C1077.8 2855.4 1075.2 2857.0 1072.7 2858.7C1070.2 2860.4 1067.8 2862.0 1065.3 2863.7C1062.9 2865.4 1060.6 2867.1 1058.3 2868.8C1056.0 2870.4 1053.8 2872.1 1051.6 2873.8C1049.5 2875.4 1047.4 2877.1 1045.4 2878.8C1043.4 2880.4 1041.5 2882.1 1039.6 2883.8C1037.8 2885.5 1036.0 2887.1 1034.3 2888.8C1032.7 2890.5 1031.1 2892.2 1029.6 2893.8C1028.1 2895.5 1026.7 2897.2 1025.4 2898.9C1024.1 2900.5 1022.9 2902.2 1021.7 2903.9C1020.6 2905.5 1019.5 2907.2 1018.5 2908.9C1017.5 2910.6 1016.6 2912.2 1015.7 2913.9C1014.8 2915.6 1014.0 2917.3 1013.3 2918.9C1012.6 2920.6 1011.9 2922.3 1011.3 2924.0C1010.7 2925.6 1010.1 2927.3 1009.6 2929.0C1009.1 2930.6 1008.7 2932.3 1008.3 2934.0C1007.9 2935.7 1007.6 2937.3 1007.3 2939.0C1006.9 2940.7 1006.7 2942.4 1006.5 2944.0C1006.2 2945.7 1006.0 2947.4 1005.9 2949.1C1005.7 2950.7 1005.6 2952.4 1005.5 2954.1C1005.4 2955.7 1005.4 2957.4 1005.3 2959.1C1005.3 2960.8 1005.3 2962.4 1005.3 2964.1C1005.2 2965.8 1005.3 2967.5 1005.3 2969.1C1005.3 2970.8 1005.4 2972.5 1005.4 2974.2C1005.5 2975.8 1005.5 2977.5 1005.6 2979.2C1005.6 2980.8 1005.7 2982.5 1005.7 2984.2C1005.8 2985.9 1005.9 2987.5 1005.9 2989.2C1006.0 2990.9 1006.0 2992.6 1006.0 2994.2C1006.1 2995.9 1006.1 2997.6 1006.1 2999.2C1006.1 3000.9 1006.1 3002.6 1006.1 3004.3C1006.1 3005.9 1006.0 3007.6 1006.0 3009.3C1006.0 3011.0 1006.0 3012.6 1005.9 3014.3C1005.9 3016.0 1005.8 3017.7 1005.8 3019.3C1005.7 3021.0 1005.7 3022.7 1005.6 3024.3C1005.6 3026.0 1005.5 3027.7 1005.4 3029.4C1005.4 3031.0 1005.3 3032.7 1005.3 3034.4C1005.2 3036.1 1005.1 3037.7 1005.1 3039.4C1005.1 3041.1 1005.2 3042.7 1005.3 3044.4C1005.3 3046.1 1005.4 3047.8 1005.4 3049.4C1005.5 3051.1 1005.6 3052.8 1005.6 3054.5C1005.7 3056.1 1005.7 3057.8 1005.8 3059.5C1005.8 3061.1 1005.9 3062.8 1005.9 3064.5C1006.0 3066.2 1006.0 3067.8 1006.0 3069.5C1006.0 3071.2 1006.1 3072.9 1006.1 3074.5C1006.1 3076.2 1006.1 3077.9 1006.1 3079.6C1006.1 3081.2 1006.1 3082.9 1006.0 3084.6C1006.0 3086.2 1006.0 3087.9 1005.9 3089.6C1005.9 3091.3 1005.8 3092.9 1005.7 3094.6C1005.7 3096.3 1005.6 3098.0 1005.6 3099.6C1005.5 3101.3 1005.5 3103.0 1005.4 3104.6C1005.4 3106.3 1005.3 3108.0 1005.3 3109.7C1005.3 3111.3 1005.2 3113.0 1005.3 3114.7C1005.3 3116.4 1005.3 3118.0 1005.3 3119.7C1005.4 3121.4 1005.4 3123.1 1005.5 3124.7C1005.6 3126.4 1005.7 3128.1 1005.9 3129.7C1006.0 3131.4 1006.2 3133.1 1006.5 3134.8C1006.7 3136.4 1006.9 3138.1 1007.3 3139.8C1007.6 3141.5 1007.9 3143.1 1008.3 3144.8C1008.7 3146.5 1009.1 3148.2 1009.6 3149.8C1010.1 3151.5 1010.7 3153.2 1011.3 3154.8C1011.9 3156.5 1012.6 3158.2 1013.3 3159.9C1014.0 3161.5 1014.8 3163.2 1015.7 3164.9C1016.6 3166.6 1017.5 3168.2 1018.5 3169.9C1019.5 3171.6 1020.6 3173.3 1021.7 3174.9C1022.9 3176.6 1024.1 3178.3 1025.4 3179.9C1026.7 3181.6 1028.1 3183.3 1029.6 3185.0C1031.1 3186.6 1032.7 3188.3 1034.3 3190.0C1036.0 3191.7 1037.8 3193.3 1039.6 3195.0C1041.5 3196.7 1043.4 3198.4 1045.4 3200.0C1047.4 3201.7 1049.5 3203.4 1051.6 3205.0C1053.8 3206.7 1056.0 3208.4 1058.3 3210.0C1060.6 3211.7 1062.9 3213.4 1065.3 3215.1C1067.8 3216.8 1070.2 3218.4 1072.7 3220.1C1075.2 3221.8 1077.8 3223.4 1080.4 3225.1C1083.0 3226.8 1085.6 3228.5 1088.3 3230.1C1091.0 3231.8 1093.7 3233.5 1096.4 3235.1C1099.1 3236.8 1101.9 3238.5 1104.7 3240.2C1107.4 3241.8 1110.2 3243.5 1113.0 3245.2C1115.8 3246.9 1118.7 3248.5 1121.5 3250.2C1124.3 3251.9 1127.2 3253.5 1129.9 3255.2C1132.7 3256.9 1135.4 3258.5 1138.0 3260.2C1140.5 3261.9 1143.0 3263.5 1145.3 3265.3C1147.5 3266.9 1149.6 3268.5 1151.4 3270.3C1153.0 3271.9 1154.6 3273.5 1155.7 3275.3C1156.7 3276.9 1157.5 3278.6 1157.9 3280.3C1158.3 3281.9 1158.3 3283.7 1158.2 3285.3C1158.0 3287.0 1157.5 3288.7 1156.9 3290.3C1156.3 3292.1 1155.4 3293.7 1154.5 3295.4C1153.6 3297.1 1152.5 3298.7 1151.4 3300.4C1150.4 3302.1 1149.2 3303.7 1148.2 3305.4C1147.1 3307.1 1146.0 3308.7 1145.1 3310.4C1144.1 3312.1 1143.2 3313.8 1142.3 3315.4C1141.5 3317.1 1140.7 3318.8 1139.9 3320.5C1139.2 3322.1 1138.5 3323.8 1137.8 3325.5C1137.2 3327.1 1136.6 3328.8 1136.0 3330.5C1135.4 3332.2 1134.9 3333.8 1134.5 3335.5C1134.0 3337.2 1133.6 3338.9 1133.2 3340.5C1132.8 3342.2 1132.5 3343.9 1132.1 3345.6C1131.8 3347.2 1131.6 3348.9 1131.3 3350.6C1131.1 3352.2 1130.9 3353.9 1130.7 3355.6C1130.5 3357.3 1130.4 3358.9 1130.3 3360.6C1130.2 3362.3 1130.1 3364.0 1130.0 3365.6C1130.0 3367.3 1129.9 3369.0 1129.9 3370.7C1129.9 3372.3 1129.9 3374.0 1129.9 3375.7C1130.0 3377.3 1130.0 3379.0 1130.1 3380.7C1130.1 3382.4 1130.2 3384.0 1130.3 3385.7C1130.4 3387.4 1130.5 3389.1 1130.6 3390.7C1130.7 3392.4 1130.8 3394.1 1131.0 3395.7C1131.1 3397.4 1131.2 3399.1 1131.4 3400.8C1131.5 3402.4 1131.7 3404.1 1131.8 3405.8C1131.9 3407.5 1132.1 3409.1 1132.2 3410.8C1132.4 3412.5 1132.5 3414.2 1132.6 3415.8C1132.8 3417.5 1132.9 3419.2 1133.0 3420.8C1133.2 3422.5 1133.3 3424.2 1133.4 3425.9C1133.5 3427.5 1133.6 3429.2 1133.6 3430.9C1133.7 3432.6 1133.8 3434.2 1133.9 3435.9C1133.9 3437.6 1134.0 3439.2 1134.0 3440.9C1134.0 3442.6 1134.1 3444.3 1134.1 3445.9C1134.1 3447.6 1134.1 3449.3 1134.1 3451.0C1134.1 3452.6 1134.1 3454.3 1134.1 3456.0C1134.1 3457.6 1134.1 3459.3 1134.0 3461.0C1134.0 3462.7 1134.0 3464.3 1133.9 3466.0C1133.9 3467.7 1133.8 3469.4 1133.8 3471.0C1133.7 3472.7 1133.7 3474.4 1133.6 3476.1C1133.5 3477.7 1133.5 3479.4 1133.4 3481.1C1133.3 3482.7 1133.2 3484.4 1133.1 3486.1C1133.0 3487.8 1132.9 3489.4 1132.8 3491.1C1132.7 3492.8 1132.6 3494.5 1132.5 3496.1C1132.4 3497.8 1132.3 3499.5 1132.2 3501.1C1132.1 3502.8 1132.0 3504.5 1131.9 3506.2C1131.8 3507.8 1131.6 3509.5 1131.5 3511.2C1131.4 3512.9 1131.3 3514.5 1131.2 3516.2C1131.0 3517.9 1130.9 3519.5 1130.8 3521.2C1130.7 3522.9 1130.5 3524.6 1130.4 3526.2C1130.3 3527.9 1130.1 3529.6 1130.0 3531.3C1129.9 3532.9 1129.8 3534.6 1129.6 3536.3C1129.5 3538.0 1129.4 3539.6 1129.3 3541.3C1129.2 3543.0 1129.0 3544.6 1128.9 3546.3C1128.8 3548.0 1128.7 3549.7 1128.6 3551.3C1128.5 3553.0 1128.4 3554.7 1128.2 3556.4C1128.1 3558.0 1128.0 3559.7 1127.9 3561.4C1127.8 3563.0 1127.7 3564.7 1127.6 3566.4C1127.6 3568.1 1127.5 3569.7 1127.4 3571.4C1127.3 3573.1 1127.2 3574.8 1127.2 3576.4C1127.1 3578.1 1127.0 3579.8 1127.0 3581.5C1126.9 3583.1 1126.8 3584.8 1126.8 3586.5C1126.8 3588.1 1126.7 3589.8 1126.7 3591.5C1126.6 3593.2 1126.6 3594.8 1126.6 3596.5C1126.6 3598.2 1126.6 3599.9 1126.6 3601.5C1126.6 3603.2 1126.6 3604.9 1126.6 3606.5C1126.6 3608.2 1126.6 3609.9 1126.7 3611.6C1126.7 3613.2 1126.7 3614.9 1126.8 3616.6C1126.8 3618.3 1126.9 3619.9 1126.9 3621.6C1127.0 3623.3 1127.1 3624.9 1127.2 3626.6C1127.2 3628.3 1127.3 3630.0 1127.4 3631.6C1127.5 3633.3 1127.6 3635.0 1127.7 3636.7C1127.8 3638.3 1127.9 3640.0 1128.0 3641.7C1128.1 3643.4 1128.3 3645.0 1128.4 3646.7C1128.5 3648.4 1128.6 3650.0 1128.8 3651.7C1128.9 3653.4 1129.0 3655.1 1129.2 3656.7C1129.3 3658.4 1129.4 3660.1 1129.6 3661.8C1129.7 3663.4 1129.9 3665.1 1130.0 3666.8C1130.2 3668.4 1130.3 3670.1 1130.5 3671.8C1130.7 3673.5 1130.8 3675.1 1131.0 3676.8C1131.1 3678.5 1131.3 3680.2 1131.5 3681.8C1131.6 3683.5 1131.8 3685.2 1132.0 3686.8C1132.1 3688.5 1132.3 3690.2 1132.5 3691.9C1132.6 3693.5 1132.8 3695.2 1133.0 3696.9C1133.1 3698.6 1133.3 3700.2 1133.5 3701.9C1133.6 3703.6 1133.8 3705.3 1134.0 3706.9C1134.1 3708.6 1134.3 3710.3 1134.5 3711.9C1134.6 3713.6 1134.8 3715.3 1134.9 3717.0C1135.1 3718.6 1135.2 3720.3 1135.4 3722.0C1135.5 3723.7 1135.7 3725.3 1135.8 3727.0C1136.0 3728.7 1136.1 3730.3 1136.3 3732.0C1136.4 3733.7 1136.5 3735.4 1136.7 3737.0C1136.8 3738.7 1136.9 3740.4 1137.0 3742.1C1137.2 3743.7 1137.3 3745.4 1137.4 3747.1C1137.5 3748.7 1137.6 3750.4 1137.7 3752.1C1137.8 3753.8 1137.9 3755.4 1138.0 3757.1C1138.1 3758.8 1138.4 3760.5 1138.1 3762.1C1137.9 3763.8 1137.6 3765.6 1136.5 3767.2C1135.2 3769.0 1133.0 3770.7 1130.4 3772.2C1126.8 3774.2 1122.0 3775.7 1116.8 3777.2C1110.1 3779.1 1101.9 3780.7 1093.1 3782.2C1082.2 3784.1 1069.7 3785.7 1056.3 3787.2C1040.3 3789.1 1021.2 3790.6 1003.6 3792.2" stroke="#000000" stroke-width="7.2" fill="none" stroke-linecap="round" stroke-linejoin="round"/><path d="M1003.6 2286.6C1019.6 2288.2 1036.5 2289.8 1051.5 2291.6C1064.8 2293.2 1077.7 2294.7 1089.1 2296.6C1098.6 2298.1 1107.8 2299.7 1115.3 2301.6C1121.3 2303.1 1126.7 2304.7 1131.0 2306.6C1134.3 2308.1 1137.1 2309.8 1139.4 2311.6C1141.3 2313.2 1142.7 2314.9 1144.1 2316.7C1145.4 2318.3 1146.6 2320.0 1147.6 2321.7C1148.6 2323.3 1149.4 2325.0 1150.1 2326.7C1150.8 2328.4 1151.4 2330.0 1151.8 2331.7C1152.2 2333.4 1152.5 2335.1 1152.8 2336.7C1153.0 2338.4 1153.1 2340.1 1153.1 2341.8C1153.2 2343.4 1153.1 2345.1 1153.0 2346.8C1152.9 2348.5 1152.7 2350.1 1152.5 2351.8C1152.3 2353.5 1152.0 2355.1 1151.8 2356.8C1151.5 2358.5 1151.2 2360.2 1150.9 2361.8C1150.6 2363.5 1150.3 2365.2 1150.0 2366.9C1149.7 2368.5 1149.4 2370.2 1149.2 2371.9C1149.0 2373.5 1148.7 2375.2 1148.5 2376.9C1148.3 2378.6 1148.1 2380.2 1148.0 2381.9C1147.8 2383.6 1147.7 2385.3 1147.5 2386.9C1147.4 2388.6 1147.3 2390.3 1147.2 2392.0C1147.1 2393.6 1147.0 2395.3 1146.9 2397.0C1146.9 2398.6 1146.8 2400.3 1146.8 2402.0C1146.7 2403.7 1146.7 2405.3 1146.7 2407.0C1146.6 2408.7 1146.6 2410.4 1146.6 2412.0C1146.6 2413.7 1146.7 2415.4 1146.7 2417.0C1146.7 2418.7 1146.7 2420.4 1146.8 2422.1C1146.8 2423.7 1146.9 2425.4 1146.9 2427.1C1147.0 2428.8 1147.0 2430.4 1147.1 2432.1C1147.1 2433.8 1147.2 2435.4 1147.3 2437.1C1147.4 2438.8 1147.4 2440.5 1147.5 2442.1C1147.6 2443.8 1147.7 2445.5 1147.8 2447.2C1147.9 2448.8 1148.0 2450.5 1148.1 2452.2C1148.2 2453.9 1148.3 2455.5 1148.4 2457.2C1148.5 2458.9 1148.6 2460.5 1148.7 2462.2C1148.8 2463.9 1148.9 2465.6 1149.0 2467.2C1149.1 2468.9 1149.3 2470.6 1149.4 2472.3C1149.5 2473.9 1149.6 2475.6 1149.8 2477.3C1149.9 2478.9 1150.0 2480.6 1150.1 2482.3C1150.3 2484.0 1150.4 2485.6 1150.6 2487.3C1150.7 2489.0 1150.8 2490.7 1151.0 2492.3C1151.1 2494.0 1151.3 2495.7 1151.4 2497.3C1151.6 2499.0 1151.7 2500.7 1151.8 2502.4C1152.0 2504.0 1152.1 2505.7 1152.3 2507.4C1152.5 2509.1 1152.6 2510.7 1152.8 2512.4C1152.9 2514.1 1153.1 2515.8 1153.2 2517.4C1153.4 2519.1 1153.5 2520.8 1153.7 2522.4C1153.9 2524.1 1154.0 2525.8 1154.2 2527.5C1154.3 2529.1 1154.5 2530.8 1154.7 2532.5C1154.8 2534.2 1155.0 2535.8 1155.1 2537.5C1155.3 2539.2 1155.5 2540.8 1155.6 2542.5C1155.8 2544.2 1156.0 2545.9 1156.1 2547.5C1156.3 2549.2 1156.4 2550.9 1156.6 2552.6C1156.8 2554.2 1156.9 2555.9 1157.1 2557.6C1157.2 2559.3 1157.4 2560.9 1157.6 2562.6C1157.7 2564.3 1157.9 2565.9 1158.0 2567.6C1158.2 2569.3 1158.3 2571.0 1158.5 2572.6C1158.6 2574.3 1158.8 2576.0 1158.9 2577.7C1159.1 2579.3 1159.2 2581.0 1159.4 2582.7C1159.5 2584.3 1159.7 2586.0 1159.8 2587.7C1160.0 2589.4 1160.1 2591.0 1160.3 2592.7C1160.4 2594.4 1160.5 2596.1 1160.7 2597.7C1160.8 2599.4 1161.0 2601.1 1161.1 2602.7C1161.2 2604.4 1161.3 2606.1 1161.5 2607.8C1161.6 2609.4 1161.7 2611.1 1161.8 2612.8C1162.0 2614.5 1162.1 2616.1 1162.2 2617.8C1162.3 2619.5 1162.4 2621.2 1162.5 2622.8C1162.6 2624.5 1162.8 2626.2 1162.9 2627.8C1163.0 2629.5 1163.1 2631.2 1163.2 2632.9C1163.2 2634.5 1163.3 2636.2 1163.4 2637.9C1163.5 2639.6 1163.6 2641.2 1163.7 2642.9C1163.8 2644.6 1163.8 2646.2 1163.9 2647.9C1164.0 2649.6 1164.0 2651.3 1164.1 2652.9C1164.2 2654.6 1164.2 2656.3 1164.3 2658.0C1164.3 2659.6 1164.4 2661.3 1164.4 2663.0C1164.5 2664.6 1164.5 2666.3 1164.5 2668.0C1164.6 2669.7 1164.6 2671.3 1164.6 2673.0C1164.7 2674.7 1164.7 2676.4 1164.7 2678.0C1164.7 2679.7 1164.7 2681.4 1164.7 2683.1C1164.7 2684.7 1164.7 2686.4 1164.7 2688.1C1164.7 2689.7 1164.7 2691.4 1164.7 2693.1C1164.6 2694.8 1164.6 2696.4 1164.6 2698.1C1164.5 2699.8 1164.5 2701.5 1164.4 2703.1C1164.4 2704.8 1164.3 2706.5 1164.3 2708.1C1164.2 2709.8 1164.2 2711.5 1164.1 2713.2C1164.0 2714.8 1163.9 2716.5 1163.8 2718.2C1163.8 2719.9 1163.7 2721.5 1163.6 2723.2C1163.5 2724.9 1163.4 2726.6 1163.2 2728.2C1163.1 2729.9 1163.0 2731.6 1162.9 2733.2C1162.7 2734.9 1162.6 2736.6 1162.4 2738.3C1162.3 2739.9 1162.1 2741.6 1162.0 2743.3C1161.8 2745.0 1161.6 2746.6 1161.5 2748.3C1161.3 2750.0 1161.1 2751.6 1160.9 2753.3C1160.7 2755.0 1160.5 2756.7 1160.3 2758.3C1160.1 2760.0 1159.8 2761.7 1159.6 2763.4C1159.4 2765.0 1159.1 2766.7 1158.9 2768.4C1158.6 2770.0 1158.4 2771.7 1158.1 2773.4C1157.8 2775.1 1157.6 2776.7 1157.3 2778.4C1157.0 2780.1 1156.7 2781.8 1156.4 2783.4C1156.1 2785.1 1155.8 2786.8 1155.4 2788.5C1155.1 2790.1 1154.8 2791.8 1154.4 2793.5C1154.0 2795.1 1153.7 2796.8 1153.3 2798.5C1152.9 2800.2 1152.6 2801.8 1152.2 2803.5C1151.8 2805.2 1151.3 2806.9 1150.9 2808.5C1150.5 2810.2 1150.1 2811.9 1149.6 2813.5C1149.2 2815.2 1148.7 2816.9 1148.2 2818.6C1147.8 2820.2 1147.3 2821.9 1146.8 2823.6C1146.3 2825.3 1145.8 2826.9 1145.3 2828.6C1144.7 2830.3 1144.2 2832.0 1143.6 2833.6C1143.1 2835.3 1142.5 2837.0 1141.9 2838.6C1141.3 2840.3 1140.8 2842.0 1140.1 2843.7C1139.5 2845.3 1138.9 2847.0 1138.3 2848.7C1137.6 2850.4 1137.0 2852.0 1136.3 2853.7C1135.6 2855.4 1134.9 2857.0 1134.2 2858.7C1133.5 2860.4 1132.8 2862.1 1132.1 2863.7C1131.3 2865.4 1130.6 2867.1 1129.8 2868.8C1129.0 2870.4 1128.3 2872.1 1127.5 2873.8C1126.7 2875.4 1125.8 2877.1 1125.0 2878.8C1124.2 2880.5 1123.3 2882.1 1122.4 2883.8C1121.6 2885.5 1120.7 2887.2 1119.8 2888.8C1118.9 2890.5 1117.9 2892.2 1117.0 2893.8C1116.1 2895.5 1115.1 2897.2 1114.1 2898.9C1113.1 2900.5 1112.1 2902.2 1111.1 2903.9C1110.1 2905.6 1109.1 2907.2 1108.0 2908.9C1106.9 2910.6 1105.9 2912.3 1104.8 2913.9C1103.7 2915.6 1102.6 2917.3 1101.4 2918.9C1100.3 2920.6 1099.1 2922.3 1098.0 2924.0C1096.8 2925.6 1095.6 2927.3 1094.4 2929.0C1093.1 2930.7 1091.9 2932.3 1090.6 2934.0C1089.4 2935.7 1088.1 2937.4 1086.8 2939.0C1085.5 2940.7 1084.2 2942.4 1082.8 2944.0C1081.5 2945.7 1080.1 2947.4 1078.7 2949.1C1077.3 2950.7 1075.9 2952.4 1074.4 2954.1C1073.0 2955.8 1071.5 2957.4 1070.1 2959.1C1068.6 2960.8 1067.1 2962.4 1065.6 2964.1C1064.0 2965.8 1062.5 2967.5 1061.0 2969.1C1059.4 2970.8 1057.9 2972.5 1056.3 2974.2C1054.7 2975.8 1053.1 2977.5 1051.6 2979.2C1050.0 2980.8 1048.4 2982.5 1046.8 2984.2C1045.2 2985.9 1043.6 2987.5 1042.0 2989.2C1040.4 2990.9 1038.8 2992.6 1037.2 2994.2C1035.6 2995.9 1034.0 2997.6 1032.4 2999.2C1030.8 3000.9 1029.2 3002.6 1027.6 3004.3C1026.0 3005.9 1024.5 3007.6 1023.0 3009.3C1021.5 3010.9 1020.1 3012.6 1018.7 3014.3C1017.3 3016.0 1016.0 3017.6 1014.8 3019.3C1013.7 3021.0 1012.5 3022.6 1011.6 3024.3C1010.6 3026.0 1009.8 3027.7 1009.1 3029.4C1008.4 3031.0 1007.8 3032.7 1007.5 3034.4C1007.1 3036.0 1007.0 3037.7 1007.0 3039.4C1007.0 3041.1 1007.1 3042.8 1007.5 3044.4C1007.8 3046.1 1008.4 3047.8 1009.1 3049.4C1009.8 3051.1 1010.6 3052.8 1011.6 3054.5C1012.5 3056.2 1013.7 3057.8 1014.8 3059.5C1016.0 3061.2 1017.3 3062.8 1018.7 3064.5C1020.1 3066.2 1021.5 3067.9 1023.0 3069.5C1024.5 3071.2 1026.0 3072.9 1027.6 3074.5C1029.2 3076.2 1030.8 3077.9 1032.4 3079.6C1034.0 3081.2 1035.6 3082.9 1037.2 3084.6C1038.8 3086.2 1040.4 3087.9 1042.0 3089.6C1043.6 3091.3 1045.2 3092.9 1046.8 3094.6C1048.4 3096.3 1050.0 3098.0 1051.6 3099.6C1053.1 3101.3 1054.7 3103.0 1056.3 3104.6C1057.9 3106.3 1059.4 3108.0 1061.0 3109.7C1062.5 3111.3 1064.0 3113.0 1065.6 3114.7C1067.1 3116.4 1068.6 3118.0 1070.1 3119.7C1071.5 3121.4 1073.0 3123.0 1074.4 3124.7C1075.9 3126.4 1077.3 3128.1 1078.7 3129.7C1080.1 3131.4 1081.5 3133.1 1082.8 3134.8C1084.2 3136.4 1085.5 3138.1 1086.8 3139.8C1088.1 3141.4 1089.4 3143.1 1090.6 3144.8C1091.9 3146.5 1093.1 3148.1 1094.4 3149.8C1095.6 3151.5 1096.8 3153.2 1098.0 3154.8C1099.1 3156.5 1100.3 3158.2 1101.4 3159.9C1102.6 3161.5 1103.7 3163.2 1104.8 3164.9C1105.9 3166.5 1106.9 3168.2 1108.0 3169.9C1109.1 3171.6 1110.1 3173.2 1111.1 3174.9C1112.1 3176.6 1113.1 3178.3 1114.1 3179.9C1115.1 3181.6 1116.1 3183.3 1117.0 3185.0C1117.9 3186.6 1118.9 3188.3 1119.8 3190.0C1120.7 3191.6 1121.6 3193.3 1122.4 3195.0C1123.3 3196.7 1124.2 3198.3 1125.0 3200.0C1125.8 3201.7 1126.7 3203.4 1127.5 3205.0C1128.3 3206.7 1129.0 3208.4 1129.8 3210.0C1130.6 3211.7 1131.3 3213.4 1132.1 3215.1C1132.8 3216.7 1133.5 3218.4 1134.2 3220.1C1134.9 3221.8 1135.6 3223.4 1136.3 3225.1C1137.0 3226.8 1137.6 3228.4 1138.3 3230.1C1138.9 3231.8 1139.5 3233.5 1140.1 3235.1C1140.8 3236.8 1141.3 3238.5 1141.9 3240.2C1142.5 3241.8 1143.1 3243.5 1143.6 3245.2C1144.2 3246.8 1144.7 3248.5 1145.3 3250.2C1145.8 3251.9 1146.3 3253.5 1146.8 3255.2C1147.3 3256.9 1147.8 3258.6 1148.2 3260.2C1148.7 3261.9 1149.2 3263.6 1149.6 3265.3C1150.1 3266.9 1150.5 3268.6 1150.9 3270.3C1151.3 3271.9 1151.8 3273.6 1152.2 3275.3C1152.6 3277.0 1152.9 3278.6 1153.3 3280.3C1153.7 3282.0 1154.0 3283.7 1154.4 3285.3C1154.8 3287.0 1155.1 3288.7 1155.4 3290.3C1155.8 3292.0 1156.1 3293.7 1156.4 3295.4C1156.7 3297.0 1157.0 3298.7 1157.3 3300.4C1157.6 3302.1 1157.8 3303.7 1158.1 3305.4C1158.4 3307.1 1158.6 3308.8 1158.9 3310.4C1159.1 3312.1 1159.4 3313.8 1159.6 3315.4C1159.8 3317.1 1160.1 3318.8 1160.3 3320.5C1160.5 3322.1 1160.7 3323.8 1160.9 3325.5C1161.1 3327.2 1161.3 3328.8 1161.5 3330.5C1161.6 3332.2 1161.8 3333.8 1162.0 3335.5C1162.1 3337.2 1162.3 3338.9 1162.4 3340.5C1162.6 3342.2 1162.7 3343.9 1162.9 3345.6C1163.0 3347.2 1163.1 3348.9 1163.2 3350.6C1163.4 3352.2 1163.5 3353.9 1163.6 3355.6C1163.7 3357.3 1163.8 3358.9 1163.8 3360.6C1163.9 3362.3 1164.0 3364.0 1164.1 3365.6C1164.2 3367.3 1164.2 3369.0 1164.3 3370.7C1164.3 3372.3 1164.4 3374.0 1164.4 3375.7C1164.5 3377.3 1164.5 3379.0 1164.6 3380.7C1164.6 3382.4 1164.6 3384.0 1164.7 3385.7C1164.7 3387.4 1164.7 3389.1 1164.7 3390.7C1164.7 3392.4 1164.7 3394.1 1164.7 3395.7C1164.7 3397.4 1164.7 3399.1 1164.7 3400.8C1164.7 3402.4 1164.7 3404.1 1164.6 3405.8C1164.6 3407.5 1164.6 3409.1 1164.5 3410.8C1164.5 3412.5 1164.5 3414.2 1164.4 3415.8C1164.4 3417.5 1164.3 3419.2 1164.3 3420.8C1164.2 3422.5 1164.2 3424.2 1164.1 3425.9C1164.0 3427.5 1164.0 3429.2 1163.9 3430.9C1163.8 3432.6 1163.8 3434.2 1163.7 3435.9C1163.6 3437.6 1163.5 3439.2 1163.4 3440.9C1163.3 3442.6 1163.2 3444.3 1163.2 3445.9C1163.1 3447.6 1163.0 3449.3 1162.9 3451.0C1162.8 3452.6 1162.6 3454.3 1162.5 3456.0C1162.4 3457.6 1162.3 3459.3 1162.2 3461.0C1162.1 3462.7 1162.0 3464.3 1161.8 3466.0C1161.7 3467.7 1161.6 3469.4 1161.5 3471.0C1161.3 3472.7 1161.2 3474.4 1161.1 3476.1C1161.0 3477.7 1160.8 3479.4 1160.7 3481.1C1160.5 3482.7 1160.4 3484.4 1160.3 3486.1C1160.1 3487.8 1160.0 3489.4 1159.8 3491.1C1159.7 3492.8 1159.5 3494.5 1159.4 3496.1C1159.2 3497.8 1159.1 3499.5 1158.9 3501.1C1158.8 3502.8 1158.6 3504.5 1158.5 3506.2C1158.3 3507.8 1158.2 3509.5 1158.0 3511.2C1157.9 3512.9 1157.7 3514.5 1157.6 3516.2C1157.4 3517.9 1157.2 3519.5 1157.1 3521.2C1156.9 3522.9 1156.8 3524.6 1156.6 3526.2C1156.4 3527.9 1156.3 3529.6 1156.1 3531.3C1156.0 3532.9 1155.8 3534.6 1155.6 3536.3C1155.5 3538.0 1155.3 3539.6 1155.1 3541.3C1155.0 3543.0 1154.8 3544.6 1154.7 3546.3C1154.5 3548.0 1154.3 3549.7 1154.2 3551.3C1154.0 3553.0 1153.9 3554.7 1153.7 3556.4C1153.5 3558.0 1153.4 3559.7 1153.2 3561.4C1153.1 3563.0 1152.9 3564.7 1152.8 3566.4C1152.6 3568.1 1152.5 3569.7 1152.3 3571.4C1152.1 3573.1 1152.0 3574.8 1151.8 3576.4C1151.7 3578.1 1151.6 3579.8 1151.4 3581.5C1151.3 3583.1 1151.1 3584.8 1151.0 3586.5C1150.8 3588.1 1150.7 3589.8 1150.6 3591.5C1150.4 3593.2 1150.3 3594.8 1150.1 3596.5C1150.0 3598.2 1149.9 3599.9 1149.8 3601.5C1149.6 3603.2 1149.5 3604.9 1149.4 3606.5C1149.3 3608.2 1149.1 3609.9 1149.0 3611.6C1148.9 3613.2 1148.8 3614.9 1148.7 3616.6C1148.6 3618.3 1148.5 3619.9 1148.4 3621.6C1148.3 3623.3 1148.2 3624.9 1148.1 3626.6C1148.0 3628.3 1147.9 3630.0 1147.8 3631.6C1147.7 3633.3 1147.6 3635.0 1147.5 3636.7C1147.4 3638.3 1147.4 3640.0 1147.3 3641.7C1147.2 3643.4 1147.1 3645.0 1147.1 3646.7C1147.0 3648.4 1147.0 3650.0 1146.9 3651.7C1146.9 3653.4 1146.8 3655.1 1146.8 3656.7C1146.7 3658.4 1146.7 3660.1 1146.7 3661.8C1146.7 3663.4 1146.6 3665.1 1146.6 3666.8C1146.6 3668.4 1146.6 3670.1 1146.7 3671.8C1146.7 3673.5 1146.7 3675.1 1146.8 3676.8C1146.8 3678.5 1146.9 3680.2 1146.9 3681.8C1147.0 3683.5 1147.1 3685.2 1147.2 3686.8C1147.3 3688.5 1147.4 3690.2 1147.5 3691.9C1147.7 3693.5 1147.8 3695.2 1148.0 3696.9C1148.1 3698.6 1148.3 3700.2 1148.5 3701.9C1148.7 3703.6 1149.0 3705.3 1149.2 3706.9C1149.4 3708.6 1149.7 3710.3 1150.0 3711.9C1150.3 3713.6 1150.6 3715.3 1150.9 3717.0C1151.2 3718.6 1151.5 3720.3 1151.8 3722.0C1152.0 3723.7 1152.3 3725.3 1152.5 3727.0C1152.7 3728.7 1152.9 3730.3 1153.0 3732.0C1153.1 3733.7 1153.2 3735.4 1153.1 3737.0C1153.1 3738.7 1153.0 3740.4 1152.8 3742.1C1152.5 3743.7 1152.2 3745.4 1151.8 3747.1C1151.4 3748.8 1150.8 3750.4 1150.1 3752.1C1149.4 3753.8 1148.6 3755.5 1147.6 3757.1C1146.6 3758.8 1145.4 3760.5 1144.1 3762.1C1142.7 3763.9 1141.3 3765.6 1139.4 3767.2C1137.1 3769.0 1134.3 3770.7 1131.0 3772.2C1126.7 3774.1 1121.3 3775.7 1115.3 3777.2C1107.8 3779.1 1098.6 3780.7 1089.1 3782.2C1077.7 3784.1 1064.8 3785.6 1051.5 3787.2C1036.5 3789.0 1019.6 3790.6 1003.6 3792.2" stroke="#0000ff" stroke-width="7.2" fill="none" stroke-linecap="round" stroke-linejoin="round"/><path d="M1003.6 2286.6L1055.2 2289.6L1089.1 2293.3L1126.0 2299.3L1153.8 2312.1L1150.0 2348.2L1144.0 2382.1L1141.8 2419.0L1140.3 2450.6L1138.8 2485.2L1139.5 2510.8L1138.8 2555.0L1138.8 2585.1L1138.8 2624.3L1139.5 2654.4L1141.8 2693.5L1144.0 2722.1L1143.3 2731.1L1144.0 2761.2L1142.5 2800.5L1137.3 2829.1L1132.0 2847.2L1120.7 2864.5L1102.6 2887.1L1075.6 2912.6L1054.5 2933.0L1034.2 2961.5L1021.4 2986.4L1009.3 3021.7L1004.8 3039.3L1009.3 3057.1L1021.4 3092.4L1034.2 3117.3L1054.5 3145.8L1075.6 3166.2L1102.6 3191.7L1120.7 3214.3L1132.0 3231.6L1137.3 3249.7L1142.5 3278.3L1144.0 3317.6L1143.3 3347.7L1144.0 3356.7L1141.8 3385.3L1139.5 3424.4L1138.8 3454.5L1138.8 3493.7L1138.8 3523.8L1139.5 3568.0L1138.8 3593.6L1140.3 3628.2L1141.8 3659.8L1144.0 3696.7L1150.0 3730.6L1153.8 3766.7L1126.0 3779.5L1089.1 3785.5L1055.2 3789.2L1003.6 3792.2" stroke="#ff8000" stroke-width="7.2" fill="none" stroke-linecap="round" stroke-linejoin="round" stroke-dasharray="25 41"/><path d="M1003.6 2286.6L1020.6 2287.3L1088.3 2297.1L1123.0 2304.6L1129.7 2329.4L1129.7 2366.3L1130.5 2397.9L1132.7 2435.5L1134.2 2465.6L1137.3 2498.7L1140.3 2528.8L1144.0 2567.1L1147.8 2595.7L1152.3 2630.3L1155.3 2655.9L1159.1 2693.5L1159.8 2722.1L1159.8 2752.2L1158.3 2783.8L1153.1 2821.6L1147.8 2849.4L1137.3 2884.0L1124.5 2911.1L1104.1 2945.0L1087.6 2966.1L1061.3 2993.1L1038.7 3010.5L1004.8 3039.3L1038.7 3068.3L1061.3 3085.7L1087.6 3112.7L1104.1 3133.8L1124.5 3167.7L1137.3 3194.8L1147.8 3229.4L1153.1 3257.2L1158.3 3295.0L1159.8 3326.6L1159.8 3356.7L1159.1 3385.3L1155.3 3422.9L1152.3 3448.5L1147.8 3483.1L1144.0 3511.7L1140.3 3550.0L1137.3 3580.1L1134.2 3613.2L1132.7 3643.3L1130.5 3680.9L1129.7 3712.5L1129.7 3749.4L1123.0 3774.2L1088.3 3781.7L1020.6 3791.5L1003.6 3792.2" stroke="#ff00ff" stroke-width="7.2" fill="none" stroke-linecap="round" stroke-linejoin="round" stroke-dasharray="25 41"/><path d="M986.6 2284.3h34M1003.6 2267.3v34M1124.8 2300.1h34M1141.8 2283.1v34M1127.8 2315.1h34M1144.8 2298.1v34M1128.5 2338.5h34M1145.5 2321.5v34M1128.2 2361.8h34M1145.2 2344.8v34M1128.1 2385.1h34M1145.1 2368.1v34M1128.1 2408.4h34M1145.1 2391.4v34M1128.1 2432.1h34M1145.1 2415.1v34M1129.0 2455.4h34M1146.0 2438.4v34M1129.6 2478.6h34M1146.6 2461.6v34M1131.1 2501.7h34M1148.1 2484.7v34M1133.0 2525.4h34M1150.0 2508.4v34M1134.5 2548.6h34M1151.5 2531.6v34M1136.8 2571.3h34M1153.8 2554.3v34M1139.1 2594.9h34M1156.1 2577.9v34M1141.0 2618.2h34M1158.0 2601.2v34M1142.8 2641.7h34M1159.8 2624.7v34M1143.6 2664.6h34M1160.6 2647.6v34M1144.3 2687.9h34M1161.3 2670.9v34M1143.6 2711.5h34M1160.6 2694.5v34M1142.8 2735.0h34M1159.8 2718.0v34M1140.6 2758.2h34M1157.6 2741.2v34M1137.6 2781.5h34M1154.6 2764.5v34M1133.0 2805.0h34M1150.0 2788.0v34M1127.0 2828.1h34M1144.0 2811.1v34M1119.9 2851.4h34M1136.9 2834.4v34M1110.2 2874.6h34M1127.2 2857.6v34M1098.4 2897.6h34M1115.4 2880.6v34M1083.8 2920.9h34M1100.8 2903.9v34M1066.8 2943.9h34M1083.8 2926.9v34M1048.8 2967.6h34M1065.8 2950.6v34M1028.0 2990.9h34M1045.0 2973.9v34M1007.7 3014.2h34M1024.7 2997.2v34M986.6 3039.3h34M1003.6 3022.3v34M1007.7 3064.6h34M1024.7 3047.6v34M1028.0 3087.9h34M1045.0 3070.9v34M1048.8 3111.2h34M1065.8 3094.2v34M1066.8 3134.9h34M1083.8 3117.9v34M1083.8 3157.9h34M1100.8 3140.9v34M1098.4 3181.2h34M1115.4 3164.2v34M1110.2 3204.2h34M1127.2 3187.2v34M1119.9 3227.4h34M1136.9 3210.4v34M1127.0 3250.7h34M1144.0 3233.7v34M1133.0 3273.8h34M1150.0 3256.8v34M1137.6 3297.3h34M1154.6 3280.3v34M1140.6 3320.6h34M1157.6 3303.6v34M1142.8 3343.8h34M1159.8 3326.8v34M1143.6 3367.3h34M1160.6 3350.3v34M1144.3 3390.9h34M1161.3 3373.9v34M1143.6 3414.2h34M1160.6 3397.2v34M1142.8 3437.1h34M1159.8 3420.1v34M1141.0 3460.6h34M1158.0 3443.6v34M1139.1 3483.9h34M1156.1 3466.9v34M1136.8 3507.5h34M1153.8 3490.5v34M1134.5 3530.2h34M1151.5 3513.2v34M1133.0 3553.4h34M1150.0 3536.4v34M1131.1 3577.1h34M1148.1 3560.1v34M1129.6 3600.2h34M1146.6 3583.2v34M1129.0 3623.4h34M1146.0 3606.4v34M1128.1 3646.7h34M1145.1 3629.7v34M1128.1 3670.4h34M1145.1 3653.4v34M1128.1 3693.7h34M1145.1 3676.7v34M1128.2 3717.0h34M1145.2 3700.0v34M1128.5 3740.3h34M1145.5 3723.3v34M1127.8 3763.7h34M1144.8 3746.7v34M1124.8 3778.7h34M1141.8 3761.7v34M986.6 3794.5h34M1003.6 3777.5v34" stroke="#f00" stroke-width="1.3" fill="none" stroke-opacity="0.60"/><path d="M1662.0 2286.4C1673.8 2288.1 1686.1 2289.7 1697.5 2291.4C1708.1 2293.1 1719.2 2294.6 1728.2 2296.5C1735.5 2298.0 1742.3 2299.5 1747.8 2301.5C1752.1 2303.0 1755.5 2304.7 1758.9 2306.5C1762.0 2308.1 1764.8 2309.8 1767.4 2311.5C1769.8 2313.1 1772.0 2314.8 1773.9 2316.5C1775.7 2318.1 1777.4 2319.8 1778.8 2321.6C1780.2 2323.2 1781.4 2324.9 1782.4 2326.6C1783.3 2328.2 1784.2 2329.9 1784.9 2331.6C1785.5 2333.2 1786.1 2334.9 1786.6 2336.6C1787.0 2338.3 1787.4 2340.0 1787.8 2341.6C1788.1 2343.3 1788.4 2345.0 1788.7 2346.7C1789.1 2348.3 1789.4 2350.0 1789.6 2351.7C1789.9 2353.3 1790.2 2355.0 1790.5 2356.7C1790.7 2358.4 1791.0 2360.0 1791.2 2361.7C1791.5 2363.4 1791.7 2365.1 1791.9 2366.7C1792.1 2368.4 1792.3 2370.1 1792.5 2371.8C1792.7 2373.4 1792.9 2375.1 1793.1 2376.8C1793.3 2378.4 1793.4 2380.1 1793.6 2381.8C1793.8 2383.5 1793.9 2385.1 1794.0 2386.8C1794.2 2388.5 1794.3 2390.2 1794.4 2391.8C1794.6 2393.5 1794.7 2395.2 1794.8 2396.9C1794.9 2398.5 1795.0 2400.2 1795.1 2401.9C1795.2 2403.5 1795.3 2405.2 1795.3 2406.9C1795.4 2408.6 1795.5 2410.2 1795.6 2411.9C1795.6 2413.6 1795.7 2415.3 1795.7 2416.9C1795.8 2418.6 1795.8 2420.3 1795.9 2422.0C1795.9 2423.6 1796.0 2425.3 1796.0 2427.0C1796.0 2428.6 1796.1 2430.3 1796.1 2432.0C1796.1 2433.7 1796.1 2435.3 1796.2 2437.0C1796.2 2438.7 1796.2 2440.4 1796.2 2442.0C1796.2 2443.7 1796.2 2445.4 1796.2 2447.1C1796.2 2448.7 1796.2 2450.4 1796.2 2452.1C1796.3 2453.7 1796.3 2455.4 1796.3 2457.1C1796.3 2458.8 1796.3 2460.4 1796.3 2462.1C1796.3 2463.8 1796.3 2465.5 1796.3 2467.1C1796.3 2468.8 1796.2 2470.5 1796.2 2472.2C1796.2 2473.8 1796.2 2475.5 1796.2 2477.2C1796.2 2478.8 1796.2 2480.5 1796.3 2482.2C1796.3 2483.9 1796.3 2485.5 1796.3 2487.2C1796.3 2488.9 1796.3 2490.6 1796.3 2492.2C1796.3 2493.9 1796.3 2495.6 1796.3 2497.3C1796.4 2498.9 1796.4 2500.6 1796.4 2502.3C1796.4 2503.9 1796.5 2505.6 1796.5 2507.3C1796.5 2509.0 1796.6 2510.6 1796.6 2512.3C1796.6 2514.0 1796.7 2515.7 1796.7 2517.3C1796.8 2519.0 1796.8 2520.7 1796.9 2522.4C1797.0 2524.0 1797.0 2525.7 1797.1 2527.4C1797.2 2529.0 1797.3 2530.7 1797.3 2532.4C1797.4 2534.1 1797.5 2535.7 1797.6 2537.4C1797.7 2539.1 1797.8 2540.8 1797.9 2542.4C1798.0 2544.1 1798.1 2545.8 1798.2 2547.5C1798.3 2549.1 1798.4 2550.8 1798.6 2552.5C1798.7 2554.1 1798.8 2555.8 1798.9 2557.5C1799.1 2559.2 1799.2 2560.8 1799.4 2562.5C1799.5 2564.2 1799.6 2565.9 1799.8 2567.5C1799.9 2569.2 1800.1 2570.9 1800.3 2572.5C1800.4 2574.2 1800.6 2575.9 1800.8 2577.6C1800.9 2579.2 1801.1 2580.9 1801.3 2582.6C1801.4 2584.3 1801.6 2585.9 1801.8 2587.6C1802.0 2589.3 1802.2 2591.0 1802.4 2592.6C1802.6 2594.3 1802.8 2596.0 1803.0 2597.6C1803.2 2599.3 1803.4 2601.0 1803.6 2602.7C1803.8 2604.3 1804.0 2606.0 1804.3 2607.7C1804.5 2609.4 1804.7 2611.0 1804.9 2612.7C1805.2 2614.4 1805.4 2616.1 1805.6 2617.7C1805.9 2619.4 1806.1 2621.1 1806.3 2622.7C1806.6 2624.4 1806.8 2626.1 1807.1 2627.8C1807.3 2629.4 1807.6 2631.1 1807.9 2632.8C1808.1 2634.5 1808.4 2636.1 1808.7 2637.8C1808.9 2639.5 1809.2 2641.2 1809.5 2642.8C1809.7 2644.5 1810.0 2646.2 1810.3 2647.8C1810.6 2649.5 1810.9 2651.2 1811.2 2652.9C1811.5 2654.5 1811.7 2656.2 1812.0 2657.9C1812.3 2659.6 1812.6 2661.2 1812.9 2662.9C1813.2 2664.6 1813.6 2666.3 1813.9 2667.9C1814.2 2669.6 1814.5 2671.3 1814.8 2672.9C1815.1 2674.6 1815.4 2676.3 1815.7 2678.0C1816.0 2679.6 1816.4 2681.3 1816.7 2683.0C1817.0 2684.7 1817.3 2686.3 1817.6 2688.0C1817.9 2689.7 1818.2 2691.4 1818.5 2693.0C1818.8 2694.7 1819.1 2696.4 1819.4 2698.0C1819.7 2699.7 1820.0 2701.4 1820.2 2703.1C1820.5 2704.7 1820.8 2706.4 1821.1 2708.1C1821.3 2709.8 1821.6 2711.4 1821.8 2713.1C1822.1 2714.8 1822.3 2716.5 1822.5 2718.1C1822.8 2719.8 1823.0 2721.5 1823.2 2723.1C1823.4 2724.8 1823.6 2726.5 1823.7 2728.2C1823.9 2729.8 1824.1 2731.5 1824.2 2733.2C1824.3 2734.9 1824.4 2736.5 1824.3 2738.2C1824.1 2739.9 1823.9 2741.6 1823.5 2743.2C1823.1 2744.9 1822.5 2746.6 1821.6 2748.2C1820.8 2750.0 1819.6 2751.6 1818.4 2753.3C1817.1 2755.0 1815.5 2756.6 1814.0 2758.3C1812.5 2760.0 1810.8 2761.6 1809.1 2763.3C1807.4 2765.0 1805.7 2766.7 1804.0 2768.3C1802.3 2770.0 1800.6 2771.7 1798.9 2773.3C1797.2 2775.0 1795.5 2776.7 1793.7 2778.4C1792.0 2780.0 1790.3 2781.7 1788.6 2783.4C1786.9 2785.1 1785.2 2786.7 1783.5 2788.4C1781.8 2790.1 1780.1 2791.7 1778.4 2793.4C1776.8 2795.1 1775.1 2796.8 1773.5 2798.4C1771.9 2800.1 1770.3 2801.8 1768.7 2803.5C1767.1 2805.1 1765.6 2806.8 1764.0 2808.5C1762.5 2810.2 1761.0 2811.8 1759.5 2813.5C1758.0 2815.2 1756.6 2816.8 1755.1 2818.5C1753.7 2820.2 1752.3 2821.9 1750.8 2823.5C1749.4 2825.2 1748.1 2826.9 1746.7 2828.6C1745.3 2830.2 1743.9 2831.9 1742.6 2833.6C1741.2 2835.3 1739.9 2836.9 1738.6 2838.6C1737.2 2840.3 1735.9 2841.9 1734.6 2843.6C1733.3 2845.3 1732.0 2847.0 1730.7 2848.6C1729.4 2850.3 1728.1 2852.0 1726.8 2853.7C1725.5 2855.3 1724.2 2857.0 1722.9 2858.7C1721.6 2860.4 1720.3 2862.0 1719.0 2863.7C1717.8 2865.4 1716.5 2867.0 1715.2 2868.7C1714.0 2870.4 1712.7 2872.1 1711.4 2873.7C1710.2 2875.4 1708.9 2877.1 1707.7 2878.8C1706.5 2880.4 1705.3 2882.1 1704.0 2883.8C1702.8 2885.5 1701.6 2887.1 1700.5 2888.8C1699.3 2890.5 1698.1 2892.1 1697.0 2893.8C1695.8 2895.5 1694.7 2897.2 1693.6 2898.8C1692.4 2900.5 1691.3 2902.2 1690.3 2903.9C1689.2 2905.5 1688.1 2907.2 1687.1 2908.9C1686.1 2910.6 1685.1 2912.2 1684.1 2913.9C1683.1 2915.6 1682.1 2917.2 1681.2 2918.9C1680.2 2920.6 1679.3 2922.3 1678.4 2923.9C1677.6 2925.6 1676.7 2927.3 1675.9 2929.0C1675.0 2930.6 1674.2 2932.3 1673.5 2934.0C1672.7 2935.6 1672.0 2937.3 1671.3 2939.0C1670.6 2940.7 1669.9 2942.3 1669.3 2944.0C1668.6 2945.7 1668.0 2947.4 1667.5 2949.0C1666.9 2950.7 1666.4 2952.4 1665.9 2954.1C1665.4 2955.7 1664.9 2957.4 1664.5 2959.1C1664.1 2960.8 1663.7 2962.4 1663.3 2964.1C1663.0 2965.8 1662.6 2967.4 1662.3 2969.1C1662.0 2970.8 1661.7 2972.5 1661.5 2974.1C1661.2 2975.8 1661.0 2977.5 1660.8 2979.2C1660.6 2980.8 1660.5 2982.5 1660.3 2984.2C1660.2 2985.9 1660.0 2987.5 1659.9 2989.2C1659.8 2990.9 1659.7 2992.5 1659.7 2994.2C1659.6 2995.9 1659.6 2997.6 1659.6 2999.2C1659.5 3000.9 1659.5 3002.6 1659.5 3004.3C1659.5 3005.9 1659.6 3007.6 1659.6 3009.3C1659.6 3011.0 1659.7 3012.6 1659.8 3014.3C1659.8 3016.0 1659.9 3017.6 1660.0 3019.3C1660.1 3021.0 1660.2 3022.7 1660.3 3024.3C1660.4 3026.0 1660.5 3027.7 1660.6 3029.4C1660.7 3031.0 1660.9 3032.7 1661.0 3034.4C1661.1 3036.1 1661.4 3037.7 1661.4 3039.4C1661.4 3041.1 1661.1 3042.7 1661.0 3044.4C1660.9 3046.1 1660.7 3047.8 1660.6 3049.4C1660.5 3051.1 1660.4 3052.8 1660.3 3054.5C1660.2 3056.1 1660.1 3057.8 1660.0 3059.5C1659.9 3061.2 1659.8 3062.8 1659.8 3064.5C1659.7 3066.2 1659.6 3067.8 1659.6 3069.5C1659.6 3071.2 1659.5 3072.9 1659.5 3074.5C1659.5 3076.2 1659.5 3077.9 1659.6 3079.6C1659.6 3081.2 1659.6 3082.9 1659.7 3084.6C1659.7 3086.3 1659.8 3087.9 1659.9 3089.6C1660.0 3091.3 1660.2 3092.9 1660.3 3094.6C1660.5 3096.3 1660.6 3098.0 1660.8 3099.6C1661.0 3101.3 1661.2 3103.0 1661.5 3104.7C1661.7 3106.3 1662.0 3108.0 1662.3 3109.7C1662.6 3111.4 1663.0 3113.0 1663.3 3114.7C1663.7 3116.4 1664.1 3118.0 1664.5 3119.7C1664.9 3121.4 1665.4 3123.1 1665.9 3124.7C1666.4 3126.4 1666.9 3128.1 1667.5 3129.8C1668.0 3131.4 1668.6 3133.1 1669.3 3134.8C1669.9 3136.5 1670.6 3138.1 1671.3 3139.8C1672.0 3141.5 1672.7 3143.2 1673.5 3144.8C1674.2 3146.5 1675.0 3148.2 1675.9 3149.8C1676.7 3151.5 1677.6 3153.2 1678.4 3154.9C1679.3 3156.5 1680.2 3158.2 1681.2 3159.9C1682.1 3161.6 1683.1 3163.2 1684.1 3164.9C1685.1 3166.6 1686.1 3168.2 1687.1 3169.9C1688.1 3171.6 1689.2 3173.3 1690.3 3174.9C1691.3 3176.6 1692.4 3178.3 1693.6 3180.0C1694.7 3181.6 1695.8 3183.3 1697.0 3185.0C1698.1 3186.7 1699.3 3188.3 1700.5 3190.0C1701.6 3191.7 1702.8 3193.3 1704.0 3195.0C1705.3 3196.7 1706.5 3198.4 1707.7 3200.0C1708.9 3201.7 1710.2 3203.4 1711.4 3205.1C1712.7 3206.7 1714.0 3208.4 1715.2 3210.1C1716.5 3211.8 1717.8 3213.4 1719.0 3215.1C1720.3 3216.8 1721.6 3218.4 1722.9 3220.1C1724.2 3221.8 1725.5 3223.5 1726.8 3225.1C1728.1 3226.8 1729.4 3228.5 1730.7 3230.2C1732.0 3231.8 1733.3 3233.5 1734.6 3235.2C1735.9 3236.9 1737.2 3238.5 1738.6 3240.2C1739.9 3241.9 1741.2 3243.5 1742.6 3245.2C1743.9 3246.9 1745.3 3248.6 1746.7 3250.2C1748.1 3251.9 1749.4 3253.6 1750.8 3255.3C1752.3 3256.9 1753.7 3258.6 1755.1 3260.3C1756.6 3262.0 1758.0 3263.6 1759.5 3265.3C1761.0 3267.0 1762.5 3268.6 1764.0 3270.3C1765.6 3272.0 1767.1 3273.7 1768.7 3275.3C1770.3 3277.0 1771.9 3278.7 1773.5 3280.4C1775.1 3282.0 1776.8 3283.7 1778.4 3285.4C1780.1 3287.1 1781.8 3288.7 1783.5 3290.4C1785.2 3292.1 1786.9 3293.7 1788.6 3295.4C1790.3 3297.1 1792.0 3298.8 1793.7 3300.4C1795.5 3302.1 1797.2 3303.8 1798.9 3305.5C1800.6 3307.1 1802.3 3308.8 1804.0 3310.5C1805.7 3312.1 1807.4 3313.8 1809.1 3315.5C1810.8 3317.2 1812.5 3318.8 1814.0 3320.5C1815.5 3322.2 1817.1 3323.8 1818.4 3325.5C1819.6 3327.2 1820.8 3328.8 1821.6 3330.6C1822.5 3332.2 1823.1 3333.9 1823.5 3335.6C1823.9 3337.2 1824.1 3338.9 1824.3 3340.6C1824.4 3342.3 1824.3 3343.9 1824.2 3345.6C1824.1 3347.3 1823.9 3349.0 1823.7 3350.6C1823.6 3352.3 1823.4 3354.0 1823.2 3355.7C1823.0 3357.3 1822.8 3359.0 1822.5 3360.7C1822.3 3362.3 1822.1 3364.0 1821.8 3365.7C1821.6 3367.4 1821.3 3369.0 1821.1 3370.7C1820.8 3372.4 1820.5 3374.1 1820.2 3375.7C1820.0 3377.4 1819.7 3379.1 1819.4 3380.8C1819.1 3382.4 1818.8 3384.1 1818.5 3385.8C1818.2 3387.4 1817.9 3389.1 1817.6 3390.8C1817.3 3392.5 1817.0 3394.1 1816.7 3395.8C1816.4 3397.5 1816.0 3399.2 1815.7 3400.8C1815.4 3402.5 1815.1 3404.2 1814.8 3405.9C1814.5 3407.5 1814.2 3409.2 1813.9 3410.9C1813.6 3412.5 1813.2 3414.2 1812.9 3415.9C1812.6 3417.6 1812.3 3419.2 1812.0 3420.9C1811.7 3422.6 1811.5 3424.3 1811.2 3425.9C1810.9 3427.6 1810.6 3429.3 1810.3 3431.0C1810.0 3432.6 1809.7 3434.3 1809.5 3436.0C1809.2 3437.6 1808.9 3439.3 1808.7 3441.0C1808.4 3442.7 1808.1 3444.3 1807.9 3446.0C1807.6 3447.7 1807.3 3449.4 1807.1 3451.0C1806.8 3452.7 1806.6 3454.4 1806.3 3456.1C1806.1 3457.7 1805.9 3459.4 1805.6 3461.1C1805.4 3462.7 1805.2 3464.4 1804.9 3466.1C1804.7 3467.8 1804.5 3469.4 1804.3 3471.1C1804.0 3472.8 1803.8 3474.5 1803.6 3476.1C1803.4 3477.8 1803.2 3479.5 1803.0 3481.2C1802.8 3482.8 1802.6 3484.5 1802.4 3486.2C1802.2 3487.8 1802.0 3489.5 1801.8 3491.2C1801.6 3492.9 1801.4 3494.5 1801.3 3496.2C1801.1 3497.9 1800.9 3499.6 1800.8 3501.2C1800.6 3502.9 1800.4 3504.6 1800.3 3506.3C1800.1 3507.9 1799.9 3509.6 1799.8 3511.3C1799.6 3512.9 1799.5 3514.6 1799.4 3516.3C1799.2 3518.0 1799.1 3519.6 1798.9 3521.3C1798.8 3523.0 1798.7 3524.7 1798.6 3526.3C1798.4 3528.0 1798.3 3529.7 1798.2 3531.3C1798.1 3533.0 1798.0 3534.7 1797.9 3536.4C1797.8 3538.0 1797.7 3539.7 1797.6 3541.4C1797.5 3543.1 1797.4 3544.7 1797.3 3546.4C1797.3 3548.1 1797.2 3549.8 1797.1 3551.4C1797.0 3553.1 1797.0 3554.8 1796.9 3556.4C1796.8 3558.1 1796.8 3559.8 1796.7 3561.5C1796.7 3563.1 1796.6 3564.8 1796.6 3566.5C1796.6 3568.2 1796.5 3569.8 1796.5 3571.5C1796.5 3573.2 1796.4 3574.9 1796.4 3576.5C1796.4 3578.2 1796.4 3579.9 1796.3 3581.5C1796.3 3583.2 1796.3 3584.9 1796.3 3586.6C1796.3 3588.2 1796.3 3589.9 1796.3 3591.6C1796.3 3593.3 1796.3 3594.9 1796.3 3596.6C1796.2 3598.3 1796.2 3600.0 1796.2 3601.6C1796.2 3603.3 1796.2 3605.0 1796.2 3606.6C1796.2 3608.3 1796.3 3610.0 1796.3 3611.7C1796.3 3613.3 1796.3 3615.0 1796.3 3616.7C1796.3 3618.4 1796.3 3620.0 1796.3 3621.7C1796.3 3623.4 1796.3 3625.1 1796.2 3626.7C1796.2 3628.4 1796.2 3630.1 1796.2 3631.7C1796.2 3633.4 1796.2 3635.1 1796.2 3636.8C1796.2 3638.4 1796.2 3640.1 1796.2 3641.8C1796.1 3643.5 1796.1 3645.1 1796.1 3646.8C1796.1 3648.5 1796.0 3650.2 1796.0 3651.8C1796.0 3653.5 1795.9 3655.2 1795.9 3656.8C1795.8 3658.5 1795.8 3660.2 1795.7 3661.9C1795.7 3663.5 1795.6 3665.2 1795.6 3666.9C1795.5 3668.6 1795.4 3670.2 1795.3 3671.9C1795.3 3673.6 1795.2 3675.3 1795.1 3676.9C1795.0 3678.6 1794.9 3680.3 1794.8 3681.9C1794.7 3683.6 1794.6 3685.3 1794.4 3687.0C1794.3 3688.6 1794.2 3690.3 1794.0 3692.0C1793.9 3693.7 1793.8 3695.3 1793.6 3697.0C1793.4 3698.7 1793.3 3700.4 1793.1 3702.0C1792.9 3703.7 1792.7 3705.4 1792.5 3707.0C1792.3 3708.7 1792.1 3710.4 1791.9 3712.1C1791.7 3713.7 1791.5 3715.4 1791.2 3717.1C1791.0 3718.8 1790.7 3720.4 1790.5 3722.1C1790.2 3723.8 1789.9 3725.5 1789.6 3727.1C1789.4 3728.8 1789.1 3730.5 1788.7 3732.1C1788.4 3733.8 1788.1 3735.5 1787.8 3737.2C1787.4 3738.8 1787.0 3740.5 1786.6 3742.2C1786.1 3743.9 1785.5 3745.6 1784.9 3747.2C1784.2 3748.9 1783.3 3750.6 1782.4 3752.2C1781.4 3753.9 1780.2 3755.6 1778.8 3757.2C1777.4 3759.0 1775.7 3760.7 1773.9 3762.3C1772.0 3764.0 1769.8 3765.7 1767.4 3767.3C1764.8 3769.0 1762.0 3770.7 1758.9 3772.3C1755.5 3774.1 1752.1 3775.8 1747.8 3777.3C1742.3 3779.3 1735.5 3780.8 1728.2 3782.3C1719.2 3784.2 1708.1 3785.7 1697.5 3787.4C1686.1 3789.1 1673.8 3790.7 1662.0 3792.4" stroke="#000000" stroke-width="7.2" fill="none" stroke-linecap="round" stroke-linejoin="round"/><path d="M1662.0 2286.4C1680.8 2288.1 1700.6 2289.7 1718.3 2291.4C1734.1 2293.0 1749.6 2294.6 1763.1 2296.5C1774.3 2298.0 1785.2 2299.5 1793.8 2301.5C1800.1 2303.0 1805.9 2304.4 1809.9 2306.5C1812.6 2308.0 1814.8 2309.6 1816.1 2311.5C1817.1 2313.0 1817.2 2314.8 1817.6 2316.5C1817.9 2318.2 1818.1 2319.9 1818.4 2321.6C1818.6 2323.2 1818.9 2324.9 1819.1 2326.6C1819.3 2328.2 1819.6 2329.9 1819.8 2331.6C1820.0 2333.3 1820.2 2334.9 1820.4 2336.6C1820.6 2338.3 1820.7 2340.0 1820.9 2341.6C1821.1 2343.3 1821.2 2345.0 1821.4 2346.7C1821.5 2348.3 1821.7 2350.0 1821.8 2351.7C1821.9 2353.3 1822.0 2355.0 1822.1 2356.7C1822.3 2358.4 1822.4 2360.0 1822.5 2361.7C1822.5 2363.4 1822.6 2365.1 1822.7 2366.7C1822.8 2368.4 1822.9 2370.1 1822.9 2371.8C1823.0 2373.4 1823.0 2375.1 1823.1 2376.8C1823.1 2378.4 1823.2 2380.1 1823.2 2381.8C1823.2 2383.5 1823.3 2385.1 1823.3 2386.8C1823.3 2388.5 1823.3 2390.2 1823.3 2391.8C1823.3 2393.5 1823.3 2395.2 1823.3 2396.9C1823.3 2398.5 1823.3 2400.2 1823.3 2401.9C1823.3 2403.5 1823.2 2405.2 1823.2 2406.9C1823.2 2408.6 1823.2 2410.2 1823.1 2411.9C1823.1 2413.6 1823.1 2415.3 1823.0 2416.9C1823.0 2418.6 1822.9 2420.3 1822.9 2422.0C1822.8 2423.6 1822.8 2425.3 1822.7 2427.0C1822.7 2428.6 1822.6 2430.3 1822.5 2432.0C1822.5 2433.7 1822.4 2435.3 1822.4 2437.0C1822.3 2438.7 1822.2 2440.4 1822.1 2442.0C1822.1 2443.7 1822.0 2445.4 1821.9 2447.1C1821.9 2448.7 1821.8 2450.4 1821.7 2452.1C1821.6 2453.7 1821.6 2455.4 1821.5 2457.1C1821.4 2458.8 1821.3 2460.4 1821.3 2462.1C1821.2 2463.8 1821.1 2465.5 1821.0 2467.1C1821.0 2468.8 1820.9 2470.5 1820.8 2472.2C1820.7 2473.8 1820.7 2475.5 1820.6 2477.2C1820.5 2478.8 1820.4 2480.5 1820.4 2482.2C1820.3 2483.9 1820.2 2485.5 1820.1 2487.2C1820.1 2488.9 1820.0 2490.6 1819.9 2492.2C1819.8 2493.9 1819.8 2495.6 1819.7 2497.3C1819.6 2498.9 1819.5 2500.6 1819.5 2502.3C1819.4 2503.9 1819.3 2505.6 1819.2 2507.3C1819.2 2509.0 1819.1 2510.6 1819.0 2512.3C1818.9 2514.0 1818.9 2515.7 1818.8 2517.3C1818.7 2519.0 1818.6 2520.7 1818.6 2522.4C1818.5 2524.0 1818.4 2525.7 1818.3 2527.4C1818.2 2529.0 1818.2 2530.7 1818.1 2532.4C1818.0 2534.1 1817.9 2535.7 1817.8 2537.4C1817.8 2539.1 1817.7 2540.8 1817.6 2542.4C1817.5 2544.1 1817.4 2545.8 1817.3 2547.5C1817.2 2549.1 1817.2 2550.8 1817.1 2552.5C1817.0 2554.1 1816.9 2555.8 1816.8 2557.5C1816.7 2559.2 1816.6 2560.8 1816.5 2562.5C1816.4 2564.2 1816.3 2565.9 1816.2 2567.5C1816.1 2569.2 1816.0 2570.9 1815.9 2572.5C1815.8 2574.2 1815.7 2575.9 1815.6 2577.6C1815.5 2579.2 1815.4 2580.9 1815.3 2582.6C1815.2 2584.3 1815.1 2585.9 1815.0 2587.6C1814.9 2589.3 1814.8 2591.0 1814.7 2592.6C1814.6 2594.3 1814.5 2596.0 1814.3 2597.6C1814.2 2599.3 1814.1 2601.0 1814.0 2602.7C1813.9 2604.3 1813.7 2606.0 1813.6 2607.7C1813.5 2609.4 1813.4 2611.0 1813.2 2612.7C1813.1 2614.4 1813.0 2616.1 1812.8 2617.7C1812.7 2619.4 1812.6 2621.1 1812.4 2622.7C1812.3 2624.4 1812.1 2626.1 1812.0 2627.8C1811.9 2629.4 1811.7 2631.1 1811.6 2632.8C1811.4 2634.5 1811.3 2636.1 1811.1 2637.8C1810.9 2639.5 1810.8 2641.2 1810.6 2642.8C1810.5 2644.5 1810.3 2646.2 1810.1 2647.8C1810.0 2649.5 1809.8 2651.2 1809.6 2652.9C1809.5 2654.5 1809.3 2656.2 1809.1 2657.9C1808.9 2659.6 1808.7 2661.2 1808.6 2662.9C1808.4 2664.6 1808.2 2666.3 1808.0 2667.9C1807.8 2669.6 1807.6 2671.3 1807.4 2672.9C1807.2 2674.6 1807.0 2676.3 1806.8 2678.0C1806.6 2679.6 1806.4 2681.3 1806.2 2683.0C1806.0 2684.7 1805.8 2686.3 1805.5 2688.0C1805.3 2689.7 1805.1 2691.4 1804.9 2693.0C1804.6 2694.7 1804.4 2696.4 1804.2 2698.0C1804.0 2699.7 1803.7 2701.4 1803.5 2703.1C1803.2 2704.7 1803.0 2706.4 1802.7 2708.1C1802.5 2709.8 1802.2 2711.4 1802.0 2713.1C1801.7 2714.8 1801.5 2716.5 1801.2 2718.1C1800.9 2719.8 1800.6 2721.5 1800.4 2723.1C1800.1 2724.8 1799.8 2726.5 1799.5 2728.2C1799.2 2729.8 1799.0 2731.5 1798.7 2733.2C1798.4 2734.9 1798.1 2736.5 1797.8 2738.2C1797.5 2739.9 1797.2 2741.6 1796.9 2743.2C1796.5 2744.9 1796.2 2746.6 1795.9 2748.2C1795.6 2749.9 1795.3 2751.6 1794.9 2753.3C1794.6 2754.9 1794.3 2756.6 1793.9 2758.3C1793.6 2760.0 1793.2 2761.6 1792.9 2763.3C1792.5 2765.0 1792.2 2766.7 1791.8 2768.3C1791.4 2770.0 1791.0 2771.7 1790.7 2773.3C1790.3 2775.0 1789.9 2776.7 1789.5 2778.4C1789.1 2780.0 1788.7 2781.7 1788.3 2783.4C1787.9 2785.1 1787.5 2786.7 1787.1 2788.4C1786.6 2790.1 1786.2 2791.8 1785.8 2793.4C1785.4 2795.1 1784.9 2796.8 1784.5 2798.4C1784.0 2800.1 1783.6 2801.8 1783.1 2803.5C1782.6 2805.1 1782.1 2806.8 1781.7 2808.5C1781.2 2810.2 1780.7 2811.8 1780.2 2813.5C1779.7 2815.2 1779.2 2816.9 1778.7 2818.5C1778.2 2820.2 1777.6 2821.9 1777.1 2823.5C1776.6 2825.2 1776.0 2826.9 1775.5 2828.6C1774.9 2830.2 1774.4 2831.9 1773.8 2833.6C1773.2 2835.3 1772.6 2836.9 1772.1 2838.6C1771.5 2840.3 1770.9 2842.0 1770.3 2843.6C1769.7 2845.3 1769.0 2847.0 1768.4 2848.6C1767.8 2850.3 1767.1 2852.0 1766.5 2853.7C1765.8 2855.3 1765.2 2857.0 1764.5 2858.7C1763.8 2860.4 1763.2 2862.0 1762.5 2863.7C1761.8 2865.4 1761.1 2867.1 1760.4 2868.7C1759.6 2870.4 1758.9 2872.1 1758.2 2873.7C1757.5 2875.4 1756.7 2877.1 1755.9 2878.8C1755.2 2880.4 1754.4 2882.1 1753.6 2883.8C1752.8 2885.5 1752.0 2887.1 1751.2 2888.8C1750.4 2890.5 1749.6 2892.2 1748.8 2893.8C1747.9 2895.5 1747.1 2897.2 1746.2 2898.8C1745.4 2900.5 1744.5 2902.2 1743.6 2903.9C1742.8 2905.5 1741.9 2907.2 1740.9 2908.9C1740.0 2910.6 1739.1 2912.2 1738.2 2913.9C1737.2 2915.6 1736.3 2917.3 1735.3 2918.9C1734.4 2920.6 1733.4 2922.3 1732.4 2923.9C1731.4 2925.6 1730.4 2927.3 1729.4 2929.0C1728.4 2930.6 1727.3 2932.3 1726.3 2934.0C1725.2 2935.7 1724.2 2937.3 1723.1 2939.0C1722.0 2940.7 1720.9 2942.4 1719.8 2944.0C1718.7 2945.7 1717.6 2947.4 1716.5 2949.0C1715.3 2950.7 1714.2 2952.4 1713.0 2954.1C1711.8 2955.7 1710.7 2957.4 1709.5 2959.1C1708.3 2960.8 1707.0 2962.4 1705.8 2964.1C1704.6 2965.8 1703.3 2967.4 1702.1 2969.1C1700.9 2970.8 1699.6 2972.5 1698.3 2974.1C1697.1 2975.8 1695.8 2977.5 1694.6 2979.2C1693.4 2980.8 1692.1 2982.5 1690.9 2984.2C1689.7 2985.9 1688.5 2987.5 1687.3 2989.2C1686.2 2990.9 1685.0 2992.5 1683.9 2994.2C1682.8 2995.9 1681.7 2997.6 1680.6 2999.2C1679.6 3000.9 1678.6 3002.6 1677.6 3004.3C1676.7 3005.9 1675.7 3007.6 1674.9 3009.3C1674.0 3010.9 1673.2 3012.6 1672.5 3014.3C1671.7 3016.0 1671.0 3017.6 1670.4 3019.3C1669.8 3021.0 1669.3 3022.7 1668.8 3024.3C1668.3 3026.0 1667.9 3027.7 1667.6 3029.4C1667.3 3031.0 1667.1 3032.7 1667.0 3034.4C1666.9 3036.0 1666.9 3037.7 1666.9 3039.4C1666.9 3041.1 1666.9 3042.8 1667.0 3044.4C1667.1 3046.1 1667.3 3047.8 1667.6 3049.4C1667.9 3051.1 1668.3 3052.8 1668.8 3054.5C1669.3 3056.1 1669.8 3057.8 1670.4 3059.5C1671.0 3061.2 1671.7 3062.8 1672.5 3064.5C1673.2 3066.2 1674.0 3067.9 1674.9 3069.5C1675.7 3071.2 1676.7 3072.9 1677.6 3074.5C1678.6 3076.2 1679.6 3077.9 1680.6 3079.6C1681.7 3081.2 1682.8 3082.9 1683.9 3084.6C1685.0 3086.3 1686.2 3087.9 1687.3 3089.6C1688.5 3091.3 1689.7 3092.9 1690.9 3094.6C1692.1 3096.3 1693.4 3098.0 1694.6 3099.6C1695.8 3101.3 1697.1 3103.0 1698.3 3104.7C1699.6 3106.3 1700.9 3108.0 1702.1 3109.7C1703.3 3111.4 1704.6 3113.0 1705.8 3114.7C1707.0 3116.4 1708.3 3118.0 1709.5 3119.7C1710.7 3121.4 1711.8 3123.1 1713.0 3124.7C1714.2 3126.4 1715.3 3128.1 1716.5 3129.8C1717.6 3131.4 1718.7 3133.1 1719.8 3134.8C1720.9 3136.4 1722.0 3138.1 1723.1 3139.8C1724.2 3141.5 1725.2 3143.1 1726.3 3144.8C1727.3 3146.5 1728.4 3148.2 1729.4 3149.8C1730.4 3151.5 1731.4 3153.2 1732.4 3154.9C1733.4 3156.5 1734.4 3158.2 1735.3 3159.9C1736.3 3161.5 1737.2 3163.2 1738.2 3164.9C1739.1 3166.6 1740.0 3168.2 1740.9 3169.9C1741.9 3171.6 1742.8 3173.3 1743.6 3174.9C1744.5 3176.6 1745.4 3178.3 1746.2 3180.0C1747.1 3181.6 1747.9 3183.3 1748.8 3185.0C1749.6 3186.6 1750.4 3188.3 1751.2 3190.0C1752.0 3191.7 1752.8 3193.3 1753.6 3195.0C1754.4 3196.7 1755.2 3198.4 1755.9 3200.0C1756.7 3201.7 1757.5 3203.4 1758.2 3205.1C1758.9 3206.7 1759.6 3208.4 1760.4 3210.1C1761.1 3211.7 1761.8 3213.4 1762.5 3215.1C1763.2 3216.8 1763.8 3218.4 1764.5 3220.1C1765.2 3221.8 1765.8 3223.5 1766.5 3225.1C1767.1 3226.8 1767.8 3228.5 1768.4 3230.2C1769.0 3231.8 1769.7 3233.5 1770.3 3235.2C1770.9 3236.8 1771.5 3238.5 1772.1 3240.2C1772.6 3241.9 1773.2 3243.5 1773.8 3245.2C1774.4 3246.9 1774.9 3248.6 1775.5 3250.2C1776.0 3251.9 1776.6 3253.6 1777.1 3255.3C1777.6 3256.9 1778.2 3258.6 1778.7 3260.3C1779.2 3261.9 1779.7 3263.6 1780.2 3265.3C1780.7 3267.0 1781.2 3268.6 1781.7 3270.3C1782.1 3272.0 1782.6 3273.7 1783.1 3275.3C1783.6 3277.0 1784.0 3278.7 1784.5 3280.4C1784.9 3282.0 1785.4 3283.7 1785.8 3285.4C1786.2 3287.0 1786.6 3288.7 1787.1 3290.4C1787.5 3292.1 1787.9 3293.7 1788.3 3295.4C1788.7 3297.1 1789.1 3298.8 1789.5 3300.4C1789.9 3302.1 1790.3 3303.8 1790.7 3305.5C1791.0 3307.1 1791.4 3308.8 1791.8 3310.5C1792.2 3312.1 1792.5 3313.8 1792.9 3315.5C1793.2 3317.2 1793.6 3318.8 1793.9 3320.5C1794.3 3322.2 1794.6 3323.9 1794.9 3325.5C1795.3 3327.2 1795.6 3328.9 1795.9 3330.6C1796.2 3332.2 1796.5 3333.9 1796.9 3335.6C1797.2 3337.2 1797.5 3338.9 1797.8 3340.6C1798.1 3342.3 1798.4 3343.9 1798.7 3345.6C1799.0 3347.3 1799.2 3349.0 1799.5 3350.6C1799.8 3352.3 1800.1 3354.0 1800.4 3355.7C1800.6 3357.3 1800.9 3359.0 1801.2 3360.7C1801.5 3362.3 1801.7 3364.0 1802.0 3365.7C1802.2 3367.4 1802.5 3369.0 1802.7 3370.7C1803.0 3372.4 1803.2 3374.1 1803.5 3375.7C1803.7 3377.4 1804.0 3379.1 1804.2 3380.8C1804.4 3382.4 1804.6 3384.1 1804.9 3385.8C1805.1 3387.4 1805.3 3389.1 1805.5 3390.8C1805.8 3392.5 1806.0 3394.1 1806.2 3395.8C1806.4 3397.5 1806.6 3399.2 1806.8 3400.8C1807.0 3402.5 1807.2 3404.2 1807.4 3405.9C1807.6 3407.5 1807.8 3409.2 1808.0 3410.9C1808.2 3412.5 1808.4 3414.2 1808.6 3415.9C1808.7 3417.6 1808.9 3419.2 1809.1 3420.9C1809.3 3422.6 1809.5 3424.3 1809.6 3425.9C1809.8 3427.6 1810.0 3429.3 1810.1 3431.0C1810.3 3432.6 1810.5 3434.3 1810.6 3436.0C1810.8 3437.6 1810.9 3439.3 1811.1 3441.0C1811.3 3442.7 1811.4 3444.3 1811.6 3446.0C1811.7 3447.7 1811.9 3449.4 1812.0 3451.0C1812.1 3452.7 1812.3 3454.4 1812.4 3456.1C1812.6 3457.7 1812.7 3459.4 1812.8 3461.1C1813.0 3462.7 1813.1 3464.4 1813.2 3466.1C1813.4 3467.8 1813.5 3469.4 1813.6 3471.1C1813.7 3472.8 1813.9 3474.5 1814.0 3476.1C1814.1 3477.8 1814.2 3479.5 1814.3 3481.2C1814.5 3482.8 1814.6 3484.5 1814.7 3486.2C1814.8 3487.8 1814.9 3489.5 1815.0 3491.2C1815.1 3492.9 1815.2 3494.5 1815.3 3496.2C1815.4 3497.9 1815.5 3499.6 1815.6 3501.2C1815.7 3502.9 1815.8 3504.6 1815.9 3506.3C1816.0 3507.9 1816.1 3509.6 1816.2 3511.3C1816.3 3512.9 1816.4 3514.6 1816.5 3516.3C1816.6 3518.0 1816.7 3519.6 1816.8 3521.3C1816.9 3523.0 1817.0 3524.7 1817.1 3526.3C1817.2 3528.0 1817.2 3529.7 1817.3 3531.3C1817.4 3533.0 1817.5 3534.7 1817.6 3536.4C1817.7 3538.0 1817.8 3539.7 1817.8 3541.4C1817.9 3543.1 1818.0 3544.7 1818.1 3546.4C1818.2 3548.1 1818.2 3549.8 1818.3 3551.4C1818.4 3553.1 1818.5 3554.8 1818.6 3556.4C1818.6 3558.1 1818.7 3559.8 1818.8 3561.5C1818.9 3563.1 1818.9 3564.8 1819.0 3566.5C1819.1 3568.2 1819.2 3569.8 1819.2 3571.5C1819.3 3573.2 1819.4 3574.9 1819.5 3576.5C1819.5 3578.2 1819.6 3579.9 1819.7 3581.5C1819.8 3583.2 1819.8 3584.9 1819.9 3586.6C1820.0 3588.2 1820.1 3589.9 1820.1 3591.6C1820.2 3593.3 1820.3 3594.9 1820.4 3596.6C1820.4 3598.3 1820.5 3600.0 1820.6 3601.6C1820.7 3603.3 1820.7 3605.0 1820.8 3606.6C1820.9 3608.3 1821.0 3610.0 1821.0 3611.7C1821.1 3613.3 1821.2 3615.0 1821.3 3616.7C1821.3 3618.4 1821.4 3620.0 1821.5 3621.7C1821.6 3623.4 1821.6 3625.1 1821.7 3626.7C1821.8 3628.4 1821.9 3630.1 1821.9 3631.7C1822.0 3633.4 1822.1 3635.1 1822.1 3636.8C1822.2 3638.4 1822.3 3640.1 1822.4 3641.8C1822.4 3643.5 1822.5 3645.1 1822.5 3646.8C1822.6 3648.5 1822.7 3650.2 1822.7 3651.8C1822.8 3653.5 1822.8 3655.2 1822.9 3656.8C1822.9 3658.5 1823.0 3660.2 1823.0 3661.9C1823.1 3663.5 1823.1 3665.2 1823.1 3666.9C1823.2 3668.6 1823.2 3670.2 1823.2 3671.9C1823.2 3673.6 1823.3 3675.3 1823.3 3676.9C1823.3 3678.6 1823.3 3680.3 1823.3 3681.9C1823.3 3683.6 1823.3 3685.3 1823.3 3687.0C1823.3 3688.6 1823.3 3690.3 1823.3 3692.0C1823.3 3693.7 1823.2 3695.3 1823.2 3697.0C1823.2 3698.7 1823.1 3700.4 1823.1 3702.0C1823.0 3703.7 1823.0 3705.4 1822.9 3707.0C1822.9 3708.7 1822.8 3710.4 1822.7 3712.1C1822.6 3713.7 1822.5 3715.4 1822.5 3717.1C1822.4 3718.8 1822.3 3720.4 1822.1 3722.1C1822.0 3723.8 1821.9 3725.5 1821.8 3727.1C1821.7 3728.8 1821.5 3730.5 1821.4 3732.1C1821.2 3733.8 1821.1 3735.5 1820.9 3737.2C1820.7 3738.8 1820.6 3740.5 1820.4 3742.2C1820.2 3743.9 1820.0 3745.5 1819.8 3747.2C1819.6 3748.9 1819.3 3750.6 1819.1 3752.2C1818.9 3753.9 1818.6 3755.6 1818.4 3757.2C1818.1 3758.9 1817.9 3760.6 1817.6 3762.3C1817.2 3764.0 1817.1 3765.8 1816.1 3767.3C1814.8 3769.2 1812.6 3770.8 1809.9 3772.3C1805.9 3774.4 1800.1 3775.8 1793.8 3777.3C1785.2 3779.3 1774.3 3780.8 1763.1 3782.3C1749.6 3784.2 1734.1 3785.8 1718.3 3787.4C1700.6 3789.1 1680.8 3790.7 1662.0 3792.4" stroke="#0000ff" stroke-width="7.2" fill="none" stroke-linecap="round" stroke-linejoin="round"/><path d="M1662.0 2286.4L1717.2 2290.5L1761.5 2295.4L1793.5 2300.4L1823.0 2312.7L1823.9 2319.2L1819.8 2345.5L1814.0 2383.3L1808.3 2409.5L1802.5 2445.6L1800.1 2473.6L1796.8 2509.7L1794.3 2537.6L1791.0 2566.3L1788.6 2592.5L1784.5 2630.3L1781.2 2659.8L1775.4 2696.0L1770.5 2731.2L1763.9 2761.6L1758.2 2789.5L1748.3 2821.2L1741.0 2849.1L1728.6 2883.6L1719.6 2911.5L1707.3 2941.8L1697.5 2965.6L1681.0 3001.8L1666.3 3028.0L1663.0 3039.4L1666.3 3050.8L1681.0 3077.0L1697.5 3113.2L1707.3 3137.0L1719.6 3167.3L1728.6 3195.2L1741.0 3229.7L1748.3 3257.6L1758.2 3289.3L1763.9 3317.2L1770.5 3347.6L1775.4 3382.8L1781.2 3419.0L1784.5 3448.5L1788.6 3486.3L1791.0 3512.5L1794.3 3541.2L1796.8 3569.1L1800.1 3605.2L1802.5 3633.2L1808.3 3669.3L1814.0 3695.5L1819.8 3733.3L1823.9 3759.6L1823.0 3766.1L1793.5 3778.4L1761.5 3783.4L1717.2 3788.3L1662.0 3792.4" stroke="#ff8000" stroke-width="7.2" fill="none" stroke-linecap="round" stroke-linejoin="round" stroke-dasharray="25 41"/><path d="M1662.0 2286.4L1681.9 2288.1L1750.0 2296.3L1787.7 2301.2L1808.3 2322.5L1809.9 2353.7L1809.9 2383.3L1808.3 2422.7L1809.1 2452.2L1806.6 2491.6L1805.8 2522.8L1804.2 2561.3L1802.5 2590.9L1799.2 2628.6L1797.6 2658.2L1792.7 2696.0L1785.3 2751.8L1777.1 2787.9L1771.3 2815.8L1771.3 2817.1L1761.5 2849.1L1751.6 2875.4L1738.5 2911.5L1726.2 2934.5L1708.9 2965.6L1682.7 3001.8L1675.3 3019.8L1667.9 3039.4L1675.3 3059.0L1682.7 3077.0L1708.9 3113.2L1726.2 3144.3L1738.5 3167.3L1751.6 3203.4L1761.5 3229.7L1771.3 3261.7L1771.3 3263.0L1777.1 3290.9L1785.3 3327.0L1792.7 3382.8L1797.6 3420.6L1799.2 3450.2L1802.5 3487.9L1804.2 3517.5L1805.8 3556.0L1806.6 3587.2L1809.1 3626.6L1808.3 3656.1L1809.9 3695.5L1809.9 3725.1L1808.3 3756.3L1787.7 3777.6L1750.0 3782.5L1681.9 3790.7L1662.0 3792.4" stroke="#ff00ff" stroke-width="7.2" fill="none" stroke-linecap="round" stroke-linejoin="round" stroke-dasharray="25 41"/><path d="M1645.0 2284.4h34M1662.0 2267.4v34M1796.2 2300.4h34M1813.2 2283.4v34M1802.8 2315.1h34M1819.8 2298.1v34M1804.9 2338.6h34M1821.9 2321.6v34M1805.2 2361.9h34M1822.2 2344.9v34M1804.9 2385.4h34M1821.9 2368.4v34M1804.4 2408.9h34M1821.4 2391.9v34M1804.1 2432.5h34M1821.1 2415.5v34M1804.1 2456.0h34M1821.1 2439.0v34M1803.6 2479.0h34M1820.6 2462.0v34M1803.2 2502.4h34M1820.2 2485.4v34M1801.9 2525.8h34M1818.9 2508.8v34M1801.1 2549.4h34M1818.1 2532.4v34M1799.5 2572.0h34M1816.5 2555.0v34M1797.8 2595.5h34M1814.8 2578.5v34M1796.7 2619.1h34M1813.7 2602.1v34M1794.5 2642.1h34M1811.5 2625.1v34M1792.1 2665.6h34M1809.1 2648.6v34M1789.6 2689.1h34M1806.6 2672.1v34M1786.3 2712.4h34M1803.3 2695.4v34M1782.2 2736.2h34M1799.2 2719.2v34M1778.1 2759.2h34M1795.1 2742.2v34M1773.2 2782.6h34M1790.2 2765.6v34M1767.1 2805.9h34M1784.1 2788.9v34M1760.1 2829.4h34M1777.1 2812.4v34M1752.7 2852.7h34M1769.7 2835.7v34M1742.8 2875.7h34M1759.8 2858.7v34M1732.7 2898.8h34M1749.7 2881.8v34M1721.5 2922.3h34M1738.5 2905.3v34M1708.0 2945.3h34M1725.0 2928.3v34M1693.9 2968.9h34M1710.9 2951.9v34M1677.2 2992.2h34M1694.2 2975.2v34M1660.8 3015.7h34M1677.8 2998.7v34M1644.7 3039.4h34M1661.7 3022.4v34M1660.8 3063.1h34M1677.8 3046.1v34M1677.2 3086.6h34M1694.2 3069.6v34M1693.9 3109.9h34M1710.9 3092.9v34M1708.0 3133.5h34M1725.0 3116.5v34M1721.5 3156.5h34M1738.5 3139.5v34M1732.7 3180.0h34M1749.7 3163.0v34M1742.8 3203.1h34M1759.8 3186.1v34M1752.7 3226.1h34M1769.7 3209.1v34M1760.1 3249.4h34M1777.1 3232.4v34M1767.1 3272.9h34M1784.1 3255.9v34M1773.2 3296.2h34M1790.2 3279.2v34M1778.1 3319.6h34M1795.1 3302.6v34M1782.2 3342.6h34M1799.2 3325.6v34M1786.3 3366.4h34M1803.3 3349.4v34M1789.6 3389.7h34M1806.6 3372.7v34M1792.1 3413.2h34M1809.1 3396.2v34M1794.5 3436.7h34M1811.5 3419.7v34M1796.7 3459.7h34M1813.7 3442.7v34M1797.8 3483.3h34M1814.8 3466.3v34M1799.5 3506.8h34M1816.5 3489.8v34M1801.1 3529.4h34M1818.1 3512.4v34M1801.9 3553.0h34M1818.9 3536.0v34M1803.2 3576.4h34M1820.2 3559.4v34M1803.6 3599.8h34M1820.6 3582.8v34M1804.1 3622.8h34M1821.1 3605.8v34M1804.1 3646.3h34M1821.1 3629.3v34M1804.4 3669.9h34M1821.4 3652.9v34M1804.9 3693.4h34M1821.9 3676.4v34M1805.2 3716.9h34M1822.2 3699.9v34M1804.9 3740.2h34M1821.9 3723.2v34M1802.8 3763.7h34M1819.8 3746.7v34M1796.2 3778.4h34M1813.2 3761.4v34M1645.0 3794.4h34M1662.0 3777.4v34" stroke="#f00" stroke-width="2.0" fill="none"/>
<g stroke="#000" stroke-width="5.4" stroke-linecap="round" fill="none"><line x1="244.0" y1="139.2" x2="2273.0" y2="139.2"/><line x1="244.0" y1="1664.3" x2="2273.0" y2="1664.3"/><line x1="275.5" y1="139.2" x2="275.5" y2="1664.3"/><line x1="244.0" y1="520.5" x2="275.5" y2="520.5"/><line x1="244.0" y1="901.8" x2="275.5" y2="901.8"/><line x1="244.0" y1="1283.0" x2="275.5" y2="1283.0"/><line x1="259.5" y1="329.8" x2="275.5" y2="329.8"/><line x1="259.5" y1="711.1" x2="275.5" y2="711.1"/><line x1="259.5" y1="1092.4" x2="275.5" y2="1092.4"/><line x1="259.5" y1="1473.7" x2="275.5" y2="1473.7"/><line x1="940.5" y1="139.2" x2="940.5" y2="1664.3"/><line x1="909.0" y1="520.5" x2="940.5" y2="520.5"/><line x1="909.0" y1="901.8" x2="940.5" y2="901.8"/><line x1="909.0" y1="1283.0" x2="940.5" y2="1283.0"/><line x1="924.5" y1="329.8" x2="940.5" y2="329.8"/><line x1="924.5" y1="711.1" x2="940.5" y2="711.1"/><line x1="924.5" y1="1092.4" x2="940.5" y2="1092.4"/><line x1="924.5" y1="1473.7" x2="940.5" y2="1473.7"/><line x1="909.0" y1="139.2" x2="940.5" y2="139.2"/><line x1="909.0" y1="1664.3" x2="940.5" y2="1664.3"/><line x1="1606.5" y1="139.2" x2="1606.5" y2="1664.3"/><line x1="1575.0" y1="520.5" x2="1606.5" y2="520.5"/><line x1="1575.0" y1="901.8" x2="1606.5" y2="901.8"/><line x1="1575.0" y1="1283.0" x2="1606.5" y2="1283.0"/><line x1="1590.5" y1="329.8" x2="1606.5" y2="329.8"/><line x1="1590.5" y1="711.1" x2="1606.5" y2="711.1"/><line x1="1590.5" y1="1092.4" x2="1606.5" y2="1092.4"/><line x1="1590.5" y1="1473.7" x2="1606.5" y2="1473.7"/><line x1="1575.0" y1="139.2" x2="1606.5" y2="139.2"/><line x1="1575.0" y1="1664.3" x2="1606.5" y2="1664.3"/><line x1="275.5" y1="1664.3" x2="275.5" y2="1693.3"/><line x1="370.8" y1="1664.3" x2="370.8" y2="1678.8"/><line x1="466.6" y1="1664.3" x2="466.6" y2="1693.3"/><line x1="561.8" y1="1664.3" x2="561.8" y2="1678.8"/><line x1="657.2" y1="1664.3" x2="657.2" y2="1693.3"/><line x1="752.6" y1="1664.3" x2="752.6" y2="1678.8"/><line x1="848.4" y1="1664.3" x2="848.4" y2="1693.3"/><line x1="940.5" y1="1664.3" x2="940.5" y2="1693.3"/><line x1="1052.0" y1="1664.3" x2="1052.0" y2="1678.8"/><line x1="1163.2" y1="1664.3" x2="1163.2" y2="1693.3"/><line x1="1274.6" y1="1664.3" x2="1274.6" y2="1678.8"/><line x1="1385.4" y1="1664.3" x2="1385.4" y2="1693.3"/><line x1="1496.4" y1="1664.3" x2="1496.4" y2="1678.8"/><line x1="1606.5" y1="1664.3" x2="1606.5" y2="1693.3"/><line x1="1717.6" y1="1664.3" x2="1717.6" y2="1678.8"/><line x1="1828.4" y1="1664.3" x2="1828.4" y2="1693.3"/><line x1="1939.3" y1="1664.3" x2="1939.3" y2="1678.8"/><line x1="2050.0" y1="1664.3" x2="2050.0" y2="1693.3"/><line x1="2161.6" y1="1664.3" x2="2161.6" y2="1678.8"/><line x1="2273.0" y1="1664.3" x2="2273.0" y2="1693.3"/></g><g font-family='"Liberation Sans", Arial, sans-serif' fill="#000"><text transform="translate(612.9 104.4) scale(1 1.045)" font-size="68.8" text-anchor="middle">x=52.0 mm</text><text transform="translate(1272.3 99.8) scale(1 1.045)" font-size="68.8" text-anchor="middle">x=155.0 mm</text><text transform="translate(1945.0 100.2) scale(1 1.045)" font-size="68.8" text-anchor="middle">x=315.0 mm</text><text transform="translate(228.0 158.4) scale(1 1.065)" font-size="62" text-anchor="end">1.0</text><text transform="translate(228.0 539.7) scale(1 1.065)" font-size="62" text-anchor="end">0.5</text><text transform="translate(228.0 921.0) scale(1 1.065)" font-size="62" text-anchor="end">0.0</text><text transform="translate(228.0 1302.2) scale(1 1.065)" font-size="62" text-anchor="end">-0.5</text><text transform="translate(228.0 1683.5) scale(1 1.065)" font-size="62" text-anchor="end">-1.0</text><text transform="translate(275.5 1761.5) scale(1 1.05)" font-size="62" text-anchor="middle">-5</text><text transform="translate(466.6 1761.5) scale(1 1.05)" font-size="62" text-anchor="middle">0</text><text transform="translate(657.2 1761.5) scale(1 1.05)" font-size="62" text-anchor="middle">5</text><text transform="translate(848.4 1761.5) scale(1 1.05)" font-size="62" text-anchor="middle">10</text><text transform="translate(940.5 1761.5) scale(1 1.05)" font-size="62" text-anchor="middle">-5</text><text transform="translate(1163.2 1761.5) scale(1 1.05)" font-size="62" text-anchor="middle">0</text><text transform="translate(1385.4 1761.5) scale(1 1.05)" font-size="62" text-anchor="middle">5</text><text transform="translate(1606.5 1761.5) scale(1 1.05)" font-size="62" text-anchor="middle">-5</text><text transform="translate(1828.4 1761.5) scale(1 1.05)" font-size="62" text-anchor="middle">0</text><text transform="translate(2050.0 1761.5) scale(1 1.05)" font-size="62" text-anchor="middle">5</text><text transform="translate(2273.0 1761.5) scale(1 1.05)" font-size="62" text-anchor="middle">10</text><text x="1274.6" y="1878.5" font-size="76.3" text-anchor="middle">axial gas velocity (m/s)</text><text transform="translate(88.0,901.0) rotate(-90)" x="0" y="0" font-size="76" text-anchor="middle">r/R(/)</text></g><text x="1208.8" y="2058.7" font-family='"Liberation Serif", "Times New Roman", serif' font-size="86" text-anchor="middle" textLength="748.6" lengthAdjust="spacingAndGlyphs" fill="#000">(<tspan font-weight="bold">a</tspan>) axial gas velocity</text><g font-family='"Liberation Sans", Arial, sans-serif' fill="#000"><g stroke="#f00" stroke-width="2"><line x1="2048.6" y1="218.7" x2="2082.6" y2="218.7"/><line x1="2065.6" y1="201.7" x2="2065.6" y2="235.7"/></g><text x="2165.5" y="244.7" font-size="55" textLength="253" lengthAdjust="spacingAndGlyphs">no particle</text><text x="1979.0" y="337.8" font-size="55">EGP</text><text x="2165.5" y="441.0" font-size="55" textLength="191" lengthAdjust="spacingAndGlyphs">45.0<tspan font-family='"Liberation Serif", "Times New Roman", serif'>µ</tspan>m</text><text x="2165.5" y="542.4" font-size="55" textLength="254.5" lengthAdjust="spacingAndGlyphs">1000.0<tspan font-family='"Liberation Serif", "Times New Roman", serif'>µ</tspan>m</text><text x="1979.0" y="635.8" font-size="55">CP</text><text x="2165.5" y="737.8" font-size="55" textLength="191" lengthAdjust="spacingAndGlyphs">45.0<tspan font-family='"Liberation Serif", "Times New Roman", serif'>µ</tspan>m</text><text x="2165.5" y="841.0" font-size="55" textLength="254.5" lengthAdjust="spacingAndGlyphs">1000.0<tspan font-family='"Liberation Serif", "Times New Roman", serif'>µ</tspan>m</text><line x1="1981.5" y1="413.8" x2="2150.5" y2="413.8" stroke="#000" stroke-width="7.0" stroke-linecap="round"/><line x1="1981.5" y1="516.0" x2="2150.5" y2="516.0" stroke="#00f" stroke-width="7.0" stroke-linecap="round"/><line x1="1981.5" y1="711.9" x2="2150.5" y2="711.9" stroke="#ff8000" stroke-width="7.0" stroke-linecap="round" stroke-dasharray="29 40"/><line x1="1981.5" y1="814.3" x2="2150.5" y2="814.3" stroke="#f0f" stroke-width="7.0" stroke-linecap="round" stroke-dasharray="29 40"/></g><g stroke="#000" stroke-width="5.4" stroke-linecap="round" fill="none"><line x1="257.0" y1="2284.3" x2="2260.2" y2="2284.3"/><line x1="257.0" y1="3794.5" x2="2260.2" y2="3794.5"/><line x1="287.8" y1="2284.3" x2="287.8" y2="3794.5"/><line x1="256.3" y1="2661.9" x2="287.8" y2="2661.9"/><line x1="256.3" y1="3039.4" x2="287.8" y2="3039.4"/><line x1="256.3" y1="3416.9" x2="287.8" y2="3416.9"/><line x1="271.8" y1="2473.1" x2="287.8" y2="2473.1"/><line x1="271.8" y1="2850.6" x2="287.8" y2="2850.6"/><line x1="271.8" y1="3228.2" x2="287.8" y2="3228.2"/><line x1="271.8" y1="3605.7" x2="287.8" y2="3605.7"/><line x1="944.0" y1="2284.3" x2="944.0" y2="3794.5"/><line x1="912.5" y1="2661.9" x2="944.0" y2="2661.9"/><line x1="912.5" y1="3039.4" x2="944.0" y2="3039.4"/><line x1="912.5" y1="3416.9" x2="944.0" y2="3416.9"/><line x1="928.0" y1="2473.1" x2="944.0" y2="2473.1"/><line x1="928.0" y1="2850.6" x2="944.0" y2="2850.6"/><line x1="928.0" y1="3228.2" x2="944.0" y2="3228.2"/><line x1="928.0" y1="3605.7" x2="944.0" y2="3605.7"/><line x1="912.5" y1="2284.3" x2="944.0" y2="2284.3"/><line x1="912.5" y1="3794.5" x2="944.0" y2="3794.5"/><line x1="1602.0" y1="2284.3" x2="1602.0" y2="3794.5"/><line x1="1570.5" y1="2661.9" x2="1602.0" y2="2661.9"/><line x1="1570.5" y1="3039.4" x2="1602.0" y2="3039.4"/><line x1="1570.5" y1="3416.9" x2="1602.0" y2="3416.9"/><line x1="1586.0" y1="2473.1" x2="1602.0" y2="2473.1"/><line x1="1586.0" y1="2850.6" x2="1602.0" y2="2850.6"/><line x1="1586.0" y1="3228.2" x2="1602.0" y2="3228.2"/><line x1="1586.0" y1="3605.7" x2="1602.0" y2="3605.7"/><line x1="1570.5" y1="2284.3" x2="1602.0" y2="2284.3"/><line x1="1570.5" y1="3794.5" x2="1602.0" y2="3794.5"/><line x1="347.0" y1="3794.5" x2="347.0" y2="3823.5"/><line x1="498.3" y1="3794.5" x2="498.3" y2="3809.0"/><line x1="648.5" y1="3794.5" x2="648.5" y2="3823.5"/><line x1="799.3" y1="3794.5" x2="799.3" y2="3809.0"/><line x1="1004.0" y1="3794.5" x2="1004.0" y2="3823.5"/><line x1="1154.4" y1="3794.5" x2="1154.4" y2="3809.0"/><line x1="1306.0" y1="3794.5" x2="1306.0" y2="3823.5"/><line x1="1457.0" y1="3794.5" x2="1457.0" y2="3809.0"/><line x1="1662.0" y1="3794.5" x2="1662.0" y2="3823.5"/><line x1="1812.6" y1="3794.5" x2="1812.6" y2="3809.0"/><line x1="1960.3" y1="3794.5" x2="1960.3" y2="3823.5"/><line x1="2109.7" y1="3794.5" x2="2109.7" y2="3809.0"/><line x1="2260.2" y1="3794.5" x2="2260.2" y2="3823.5"/></g><g font-family='"Liberation Sans", Arial, sans-serif' fill="#000"><text transform="translate(581.1 2248.8) scale(1 1.045)" font-size="68.0" text-anchor="middle">x=52.0 mm</text><text transform="translate(1268.0 2247.9) scale(1 1.045)" font-size="68.0" text-anchor="middle">x=155.0 mm</text><text transform="translate(1888.5 2246.3) scale(1 1.045)" font-size="68.0" text-anchor="middle">x=315.0 mm</text><text transform="translate(240.0 2303.5) scale(1 1.065)" font-size="62" text-anchor="end">1.0</text><text transform="translate(240.0 2681.1) scale(1 1.065)" font-size="62" text-anchor="end">0.5</text><text transform="translate(240.0 3058.6) scale(1 1.065)" font-size="62" text-anchor="end">0.0</text><text transform="translate(240.0 3436.1) scale(1 1.065)" font-size="62" text-anchor="end">-0.5</text><text transform="translate(240.0 3813.7) scale(1 1.065)" font-size="62" text-anchor="end">-1.0</text><text transform="translate(347.0 3890.0) scale(1 1.05)" font-size="62" text-anchor="middle">0</text><text transform="translate(648.5 3890.0) scale(1 1.05)" font-size="62" text-anchor="middle">5</text><text transform="translate(1004.0 3890.0) scale(1 1.05)" font-size="62" text-anchor="middle">0</text><text transform="translate(1306.0 3890.0) scale(1 1.05)" font-size="62" text-anchor="middle">5</text><text transform="translate(1662.0 3890.0) scale(1 1.05)" font-size="62" text-anchor="middle">0</text><text transform="translate(1960.3 3890.0) scale(1 1.05)" font-size="62" text-anchor="middle">5</text><text transform="translate(2260.2 3890.0) scale(1 1.05)" font-size="62" text-anchor="middle">10</text><text x="1273.3" y="4006.4" font-size="75.3" text-anchor="middle">tangential gas velocity (m/s)</text><text transform="translate(102.4,3038.0) rotate(-90)" x="0" y="0" font-size="76" text-anchor="middle">r/R(/)</text></g><text x="1209.0" y="4186.0" font-family='"Liberation Serif", "Times New Roman", serif' font-size="86" text-anchor="middle" textLength="951.6" lengthAdjust="spacingAndGlyphs" fill="#000">(<tspan font-weight="bold">b</tspan>) tangential gas velocity</text><g font-family='"Liberation Sans", Arial, sans-serif' fill="#000"><g stroke="#f00" stroke-width="2"><line x1="1940.1" y1="2372.2" x2="1974.1" y2="2372.2"/><line x1="1957.1" y1="2355.2" x2="1957.1" y2="2389.2"/></g><text x="2055.5" y="2398.0" font-size="55" textLength="248.5" lengthAdjust="spacingAndGlyphs">no particle</text><text x="1870.5" y="2490.2" font-size="55">EGP</text><text x="2055.5" y="2592.5" font-size="55" textLength="189" lengthAdjust="spacingAndGlyphs">45.0<tspan font-family='"Liberation Serif", "Times New Roman", serif'>µ</tspan>m</text><text x="2055.5" y="2693.0" font-size="55" textLength="250.5" lengthAdjust="spacingAndGlyphs">1000.0<tspan font-family='"Liberation Serif", "Times New Roman", serif'>µ</tspan>m</text><text x="1870.5" y="2785.6" font-size="55">CP</text><text x="2055.5" y="2886.7" font-size="55" textLength="189" lengthAdjust="spacingAndGlyphs">45.0<tspan font-family='"Liberation Serif", "Times New Roman", serif'>µ</tspan>m</text><text x="2055.5" y="2989.0" font-size="55" textLength="250.5" lengthAdjust="spacingAndGlyphs">1000.0<tspan font-family='"Liberation Serif", "Times New Roman", serif'>µ</tspan>m</text><line x1="1873.0" y1="2565.6" x2="2042.0" y2="2565.6" stroke="#000" stroke-width="7.0" stroke-linecap="round"/><line x1="1873.0" y1="2666.9" x2="2042.0" y2="2666.9" stroke="#00f" stroke-width="7.0" stroke-linecap="round"/><line x1="1873.0" y1="2861.0" x2="2042.0" y2="2861.0" stroke="#ff8000" stroke-width="7.0" stroke-linecap="round" stroke-dasharray="29 40"/><line x1="1873.0" y1="2962.5" x2="2042.0" y2="2962.5" stroke="#f0f" stroke-width="7.0" stroke-linecap="round" stroke-dasharray="29 40"/></g>
</svg></body></html>
